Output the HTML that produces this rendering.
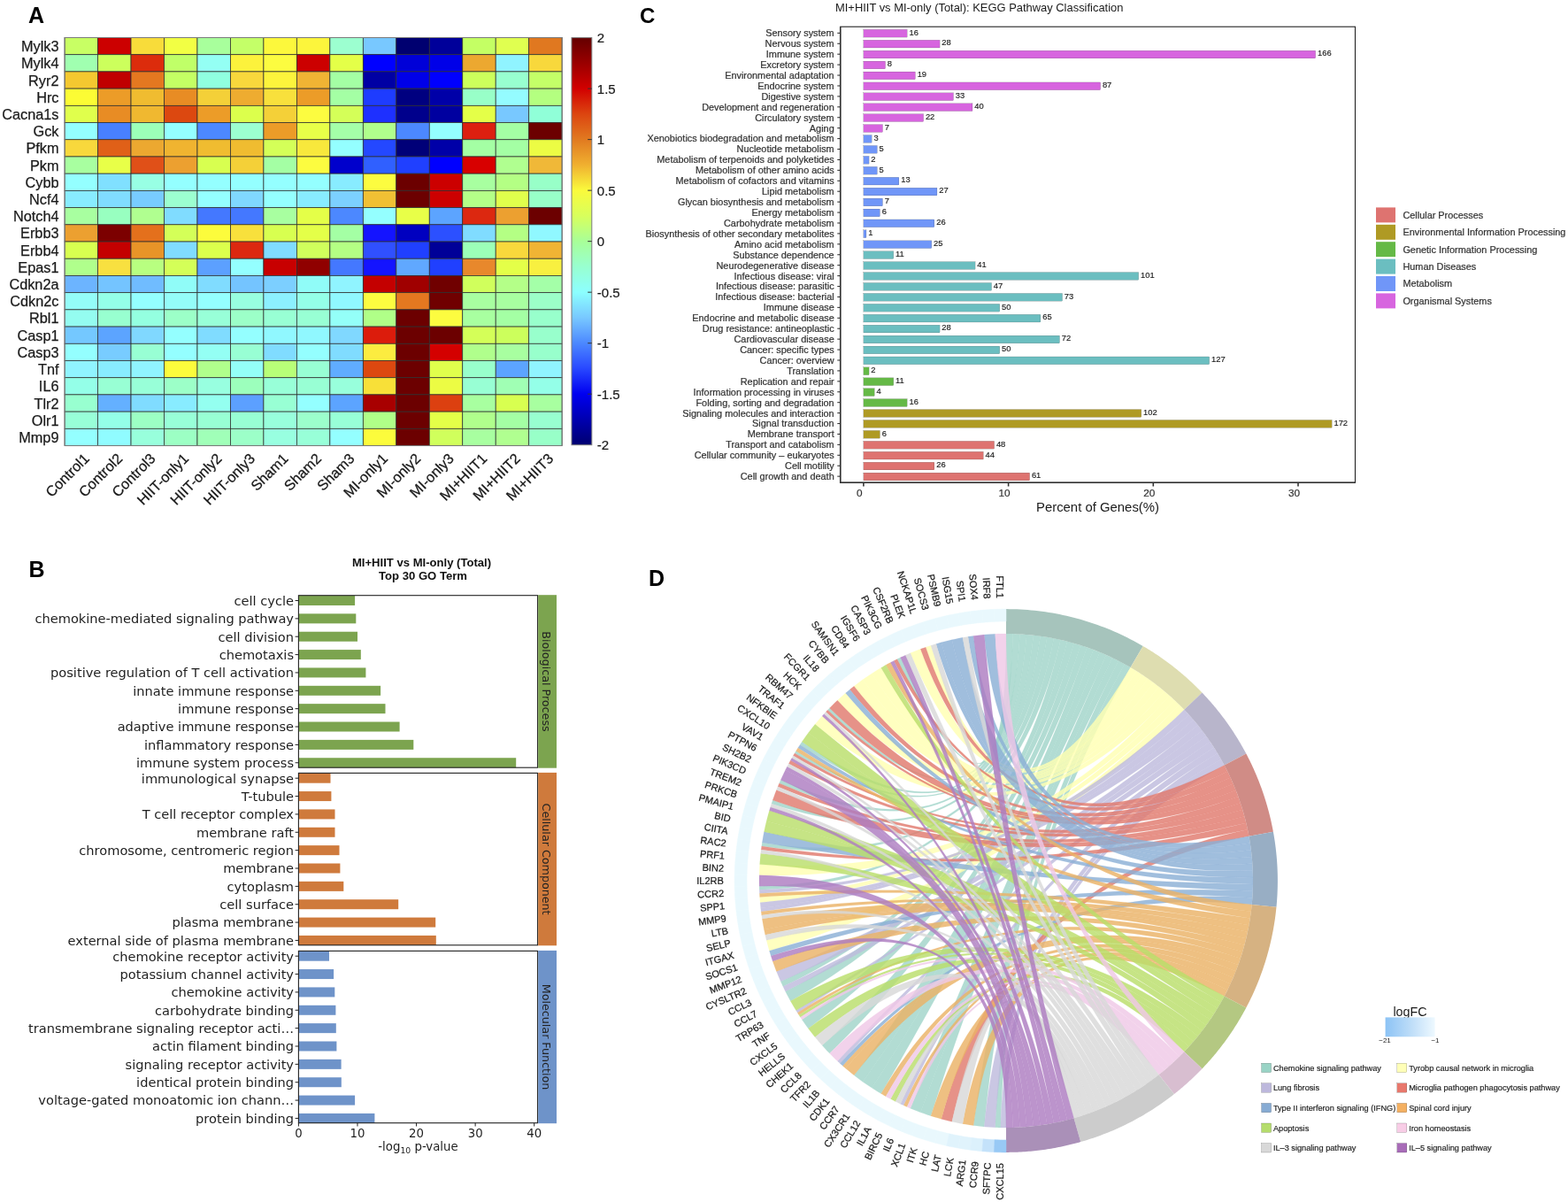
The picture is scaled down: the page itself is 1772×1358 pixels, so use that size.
<!DOCTYPE html>
<html><head><meta charset="utf-8"><title>Figure</title>
<style>html,body{margin:0;padding:0;background:#fff;} svg{display:block;}</style></head>
<body><svg width="1772" height="1358" viewBox="0 0 1772 1358">
<rect width="1772" height="1358" fill="#fff"/>
<text x="32" y="25.7" font-family="'Liberation Sans', Arial, Helvetica, sans-serif" font-weight="bold" font-size="25" fill="#000">A</text>
<g stroke="#2e2e2e" stroke-width="0.75">
<rect x="73.1" y="42.5" width="37.47" height="19.21" fill="#c8ff64"/>
<rect x="110.57" y="42.5" width="37.47" height="19.21" fill="#cc0000"/>
<rect x="148.04" y="42.5" width="37.47" height="19.21" fill="#f8dc3a"/>
<rect x="185.51" y="42.5" width="37.47" height="19.21" fill="#f2ff44"/>
<rect x="222.98" y="42.5" width="37.47" height="19.21" fill="#a8ff9c"/>
<rect x="260.45" y="42.5" width="37.47" height="19.21" fill="#c4ff68"/>
<rect x="297.92" y="42.5" width="37.47" height="19.21" fill="#fcf83c"/>
<rect x="335.39" y="42.5" width="37.47" height="19.21" fill="#fcf53c"/>
<rect x="372.86" y="42.5" width="37.47" height="19.21" fill="#9cffd0"/>
<rect x="410.33" y="42.5" width="37.47" height="19.21" fill="#78c8ff"/>
<rect x="447.8" y="42.5" width="37.47" height="19.21" fill="#000070"/>
<rect x="485.27" y="42.5" width="37.47" height="19.21" fill="#00009a"/>
<rect x="522.74" y="42.5" width="37.47" height="19.21" fill="#c4ff64"/>
<rect x="560.21" y="42.5" width="37.47" height="19.21" fill="#e0ff50"/>
<rect x="597.68" y="42.5" width="37.47" height="19.21" fill="#e07820"/>
<rect x="73.1" y="61.71" width="37.47" height="19.21" fill="#a0ffb0"/>
<rect x="110.57" y="61.71" width="37.47" height="19.21" fill="#ccff5c"/>
<rect x="148.04" y="61.71" width="37.47" height="19.21" fill="#dc2c0c"/>
<rect x="185.51" y="61.71" width="37.47" height="19.21" fill="#c0ff68"/>
<rect x="222.98" y="61.71" width="37.47" height="19.21" fill="#94fff4"/>
<rect x="260.45" y="61.71" width="37.47" height="19.21" fill="#fcf23c"/>
<rect x="297.92" y="61.71" width="37.47" height="19.21" fill="#fcfc40"/>
<rect x="335.39" y="61.71" width="37.47" height="19.21" fill="#cc0000"/>
<rect x="372.86" y="61.71" width="37.47" height="19.21" fill="#e4ff48"/>
<rect x="410.33" y="61.71" width="37.47" height="19.21" fill="#0000ff"/>
<rect x="447.8" y="61.71" width="37.47" height="19.21" fill="#0000d8"/>
<rect x="485.27" y="61.71" width="37.47" height="19.21" fill="#0000e8"/>
<rect x="522.74" y="61.71" width="37.47" height="19.21" fill="#eca830"/>
<rect x="560.21" y="61.71" width="37.47" height="19.21" fill="#90f4ff"/>
<rect x="597.68" y="61.71" width="37.47" height="19.21" fill="#f8d83c"/>
<rect x="73.1" y="80.92" width="37.47" height="19.21" fill="#f4c830"/>
<rect x="110.57" y="80.92" width="37.47" height="19.21" fill="#c00000"/>
<rect x="148.04" y="80.92" width="37.47" height="19.21" fill="#e47820"/>
<rect x="185.51" y="80.92" width="37.47" height="19.21" fill="#c4ff64"/>
<rect x="222.98" y="80.92" width="37.47" height="19.21" fill="#90ffe0"/>
<rect x="260.45" y="80.92" width="37.47" height="19.21" fill="#f8d83c"/>
<rect x="297.92" y="80.92" width="37.47" height="19.21" fill="#fcf43c"/>
<rect x="335.39" y="80.92" width="37.47" height="19.21" fill="#f0b434"/>
<rect x="372.86" y="80.92" width="37.47" height="19.21" fill="#a4ffa4"/>
<rect x="410.33" y="80.92" width="37.47" height="19.21" fill="#0000a4"/>
<rect x="447.8" y="80.92" width="37.47" height="19.21" fill="#0000e8"/>
<rect x="485.27" y="80.92" width="37.47" height="19.21" fill="#0000ff"/>
<rect x="522.74" y="80.92" width="37.47" height="19.21" fill="#ccff5c"/>
<rect x="560.21" y="80.92" width="37.47" height="19.21" fill="#98ffd0"/>
<rect x="597.68" y="80.92" width="37.47" height="19.21" fill="#c4ff68"/>
<rect x="73.1" y="100.13" width="37.47" height="19.21" fill="#fcfc34"/>
<rect x="110.57" y="100.13" width="37.47" height="19.21" fill="#ec9c28"/>
<rect x="148.04" y="100.13" width="37.47" height="19.21" fill="#f0bc30"/>
<rect x="185.51" y="100.13" width="37.47" height="19.21" fill="#e88c24"/>
<rect x="222.98" y="100.13" width="37.47" height="19.21" fill="#f4d038"/>
<rect x="260.45" y="100.13" width="37.47" height="19.21" fill="#eeac30"/>
<rect x="297.92" y="100.13" width="37.47" height="19.21" fill="#f8e03c"/>
<rect x="335.39" y="100.13" width="37.47" height="19.21" fill="#ec9c28"/>
<rect x="372.86" y="100.13" width="37.47" height="19.21" fill="#a4ffa4"/>
<rect x="410.33" y="100.13" width="37.47" height="19.21" fill="#1e3cff"/>
<rect x="447.8" y="100.13" width="37.47" height="19.21" fill="#000080"/>
<rect x="485.27" y="100.13" width="37.47" height="19.21" fill="#0000a8"/>
<rect x="522.74" y="100.13" width="37.47" height="19.21" fill="#98ffc8"/>
<rect x="560.21" y="100.13" width="37.47" height="19.21" fill="#94fcff"/>
<rect x="597.68" y="100.13" width="37.47" height="19.21" fill="#b4ff80"/>
<rect x="73.1" y="119.34" width="37.47" height="19.21" fill="#e0ff4c"/>
<rect x="110.57" y="119.34" width="37.47" height="19.21" fill="#e88c24"/>
<rect x="148.04" y="119.34" width="37.47" height="19.21" fill="#f0b830"/>
<rect x="185.51" y="119.34" width="37.47" height="19.21" fill="#dc4810"/>
<rect x="222.98" y="119.34" width="37.47" height="19.21" fill="#ec9c28"/>
<rect x="260.45" y="119.34" width="37.47" height="19.21" fill="#dcff4c"/>
<rect x="297.92" y="119.34" width="37.47" height="19.21" fill="#f4d038"/>
<rect x="335.39" y="119.34" width="37.47" height="19.21" fill="#fcfc40"/>
<rect x="372.86" y="119.34" width="37.47" height="19.21" fill="#d4ff58"/>
<rect x="410.33" y="119.34" width="37.47" height="19.21" fill="#1e30ff"/>
<rect x="447.8" y="119.34" width="37.47" height="19.21" fill="#00008c"/>
<rect x="485.27" y="119.34" width="37.47" height="19.21" fill="#0000a0"/>
<rect x="522.74" y="119.34" width="37.47" height="19.21" fill="#e4ff48"/>
<rect x="560.21" y="119.34" width="37.47" height="19.21" fill="#78c8ff"/>
<rect x="597.68" y="119.34" width="37.47" height="19.21" fill="#90ffd8"/>
<rect x="73.1" y="138.55" width="37.47" height="19.21" fill="#94ffff"/>
<rect x="110.57" y="138.55" width="37.47" height="19.21" fill="#4880ff"/>
<rect x="148.04" y="138.55" width="37.47" height="19.21" fill="#9cffb8"/>
<rect x="185.51" y="138.55" width="37.47" height="19.21" fill="#94ffff"/>
<rect x="222.98" y="138.55" width="37.47" height="19.21" fill="#4c88ff"/>
<rect x="260.45" y="138.55" width="37.47" height="19.21" fill="#9cffd0"/>
<rect x="297.92" y="138.55" width="37.47" height="19.21" fill="#ec9c28"/>
<rect x="335.39" y="138.55" width="37.47" height="19.21" fill="#e8ff48"/>
<rect x="372.86" y="138.55" width="37.47" height="19.21" fill="#a4ffa8"/>
<rect x="410.33" y="138.55" width="37.47" height="19.21" fill="#b0ff8c"/>
<rect x="447.8" y="138.55" width="37.47" height="19.21" fill="#4c88ff"/>
<rect x="485.27" y="138.55" width="37.47" height="19.21" fill="#94ffff"/>
<rect x="522.74" y="138.55" width="37.47" height="19.21" fill="#dc2010"/>
<rect x="560.21" y="138.55" width="37.47" height="19.21" fill="#a4ffa4"/>
<rect x="597.68" y="138.55" width="37.47" height="19.21" fill="#6c0000"/>
<rect x="73.1" y="157.76" width="37.47" height="19.21" fill="#f8d83c"/>
<rect x="110.57" y="157.76" width="37.47" height="19.21" fill="#e06018"/>
<rect x="148.04" y="157.76" width="37.47" height="19.21" fill="#eca830"/>
<rect x="185.51" y="157.76" width="37.47" height="19.21" fill="#f0b430"/>
<rect x="222.98" y="157.76" width="37.47" height="19.21" fill="#f0bc30"/>
<rect x="260.45" y="157.76" width="37.47" height="19.21" fill="#f0bc30"/>
<rect x="297.92" y="157.76" width="37.47" height="19.21" fill="#d4ff58"/>
<rect x="335.39" y="157.76" width="37.47" height="19.21" fill="#f8e83c"/>
<rect x="372.86" y="157.76" width="37.47" height="19.21" fill="#94ffff"/>
<rect x="410.33" y="157.76" width="37.47" height="19.21" fill="#2448ff"/>
<rect x="447.8" y="157.76" width="37.47" height="19.21" fill="#000078"/>
<rect x="485.27" y="157.76" width="37.47" height="19.21" fill="#0000a8"/>
<rect x="522.74" y="157.76" width="37.47" height="19.21" fill="#a4ffa4"/>
<rect x="560.21" y="157.76" width="37.47" height="19.21" fill="#a4ffa4"/>
<rect x="597.68" y="157.76" width="37.47" height="19.21" fill="#ecfc44"/>
<rect x="73.1" y="176.97" width="37.47" height="19.21" fill="#a8ffa0"/>
<rect x="110.57" y="176.97" width="37.47" height="19.21" fill="#e8ff48"/>
<rect x="148.04" y="176.97" width="37.47" height="19.21" fill="#e05018"/>
<rect x="185.51" y="176.97" width="37.47" height="19.21" fill="#eca030"/>
<rect x="222.98" y="176.97" width="37.47" height="19.21" fill="#d8ff50"/>
<rect x="260.45" y="176.97" width="37.47" height="19.21" fill="#f4d038"/>
<rect x="297.92" y="176.97" width="37.47" height="19.21" fill="#a4ffa4"/>
<rect x="335.39" y="176.97" width="37.47" height="19.21" fill="#fcfc40"/>
<rect x="372.86" y="176.97" width="37.47" height="19.21" fill="#0000cc"/>
<rect x="410.33" y="176.97" width="37.47" height="19.21" fill="#3060ff"/>
<rect x="447.8" y="176.97" width="37.47" height="19.21" fill="#2040ff"/>
<rect x="485.27" y="176.97" width="37.47" height="19.21" fill="#0000ff"/>
<rect x="522.74" y="176.97" width="37.47" height="19.21" fill="#d80000"/>
<rect x="560.21" y="176.97" width="37.47" height="19.21" fill="#b0ff90"/>
<rect x="597.68" y="176.97" width="37.47" height="19.21" fill="#f0b838"/>
<rect x="73.1" y="196.18" width="37.47" height="19.21" fill="#94ffff"/>
<rect x="110.57" y="196.18" width="37.47" height="19.21" fill="#80e0ff"/>
<rect x="148.04" y="196.18" width="37.47" height="19.21" fill="#98ffe4"/>
<rect x="185.51" y="196.18" width="37.47" height="19.21" fill="#94ffff"/>
<rect x="222.98" y="196.18" width="37.47" height="19.21" fill="#94ffff"/>
<rect x="260.45" y="196.18" width="37.47" height="19.21" fill="#94ffff"/>
<rect x="297.92" y="196.18" width="37.47" height="19.21" fill="#94ffff"/>
<rect x="335.39" y="196.18" width="37.47" height="19.21" fill="#94ffff"/>
<rect x="372.86" y="196.18" width="37.47" height="19.21" fill="#88ecff"/>
<rect x="410.33" y="196.18" width="37.47" height="19.21" fill="#fcfc40"/>
<rect x="447.8" y="196.18" width="37.47" height="19.21" fill="#6c0000"/>
<rect x="485.27" y="196.18" width="37.47" height="19.21" fill="#cc0000"/>
<rect x="522.74" y="196.18" width="37.47" height="19.21" fill="#a8ffa0"/>
<rect x="560.21" y="196.18" width="37.47" height="19.21" fill="#b4ff84"/>
<rect x="597.68" y="196.18" width="37.47" height="19.21" fill="#98ffc8"/>
<rect x="73.1" y="215.39" width="37.47" height="19.21" fill="#88ecff"/>
<rect x="110.57" y="215.39" width="37.47" height="19.21" fill="#80dcff"/>
<rect x="148.04" y="215.39" width="37.47" height="19.21" fill="#78ccff"/>
<rect x="185.51" y="215.39" width="37.47" height="19.21" fill="#9cffd0"/>
<rect x="222.98" y="215.39" width="37.47" height="19.21" fill="#94ffff"/>
<rect x="260.45" y="215.39" width="37.47" height="19.21" fill="#80d8ff"/>
<rect x="297.92" y="215.39" width="37.47" height="19.21" fill="#94ffff"/>
<rect x="335.39" y="215.39" width="37.47" height="19.21" fill="#88ecff"/>
<rect x="372.86" y="215.39" width="37.47" height="19.21" fill="#7cd0ff"/>
<rect x="410.33" y="215.39" width="37.47" height="19.21" fill="#f0c034"/>
<rect x="447.8" y="215.39" width="37.47" height="19.21" fill="#6c0000"/>
<rect x="485.27" y="215.39" width="37.47" height="19.21" fill="#cc0000"/>
<rect x="522.74" y="215.39" width="37.47" height="19.21" fill="#b4ff88"/>
<rect x="560.21" y="215.39" width="37.47" height="19.21" fill="#e0ff4c"/>
<rect x="597.68" y="215.39" width="37.47" height="19.21" fill="#98ffc8"/>
<rect x="73.1" y="234.6" width="37.47" height="19.21" fill="#a8ffa0"/>
<rect x="110.57" y="234.6" width="37.47" height="19.21" fill="#98ffc0"/>
<rect x="148.04" y="234.6" width="37.47" height="19.21" fill="#b0ff90"/>
<rect x="185.51" y="234.6" width="37.47" height="19.21" fill="#80dcff"/>
<rect x="222.98" y="234.6" width="37.47" height="19.21" fill="#4478ff"/>
<rect x="260.45" y="234.6" width="37.47" height="19.21" fill="#4478ff"/>
<rect x="297.92" y="234.6" width="37.47" height="19.21" fill="#a8ffa0"/>
<rect x="335.39" y="234.6" width="37.47" height="19.21" fill="#e4ff48"/>
<rect x="372.86" y="234.6" width="37.47" height="19.21" fill="#4c88ff"/>
<rect x="410.33" y="234.6" width="37.47" height="19.21" fill="#94ffff"/>
<rect x="447.8" y="234.6" width="37.47" height="19.21" fill="#e8ff48"/>
<rect x="485.27" y="234.6" width="37.47" height="19.21" fill="#5ca4ff"/>
<rect x="522.74" y="234.6" width="37.47" height="19.21" fill="#dc2810"/>
<rect x="560.21" y="234.6" width="37.47" height="19.21" fill="#eca030"/>
<rect x="597.68" y="234.6" width="37.47" height="19.21" fill="#6c0000"/>
<rect x="73.1" y="253.81" width="37.47" height="19.21" fill="#eca030"/>
<rect x="110.57" y="253.81" width="37.47" height="19.21" fill="#7c0000"/>
<rect x="148.04" y="253.81" width="37.47" height="19.21" fill="#e4701c"/>
<rect x="185.51" y="253.81" width="37.47" height="19.21" fill="#d4ff58"/>
<rect x="222.98" y="253.81" width="37.47" height="19.21" fill="#fcfc3c"/>
<rect x="260.45" y="253.81" width="37.47" height="19.21" fill="#f8e03c"/>
<rect x="297.92" y="253.81" width="37.47" height="19.21" fill="#d8ff50"/>
<rect x="335.39" y="253.81" width="37.47" height="19.21" fill="#e4ff48"/>
<rect x="372.86" y="253.81" width="37.47" height="19.21" fill="#a4ffa4"/>
<rect x="410.33" y="253.81" width="37.47" height="19.21" fill="#1414ff"/>
<rect x="447.8" y="253.81" width="37.47" height="19.21" fill="#0000c0"/>
<rect x="485.27" y="253.81" width="37.47" height="19.21" fill="#2c50ff"/>
<rect x="522.74" y="253.81" width="37.47" height="19.21" fill="#80dcff"/>
<rect x="560.21" y="253.81" width="37.47" height="19.21" fill="#b4ff84"/>
<rect x="597.68" y="253.81" width="37.47" height="19.21" fill="#90f8ff"/>
<rect x="73.1" y="273.02" width="37.47" height="19.21" fill="#d8ff50"/>
<rect x="110.57" y="273.02" width="37.47" height="19.21" fill="#c40000"/>
<rect x="148.04" y="273.02" width="37.47" height="19.21" fill="#e89428"/>
<rect x="185.51" y="273.02" width="37.47" height="19.21" fill="#80dcff"/>
<rect x="222.98" y="273.02" width="37.47" height="19.21" fill="#dcff4c"/>
<rect x="260.45" y="273.02" width="37.47" height="19.21" fill="#dc2810"/>
<rect x="297.92" y="273.02" width="37.47" height="19.21" fill="#80dcff"/>
<rect x="335.39" y="273.02" width="37.47" height="19.21" fill="#d0ff5c"/>
<rect x="372.86" y="273.02" width="37.47" height="19.21" fill="#b4ff84"/>
<rect x="410.33" y="273.02" width="37.47" height="19.21" fill="#3050ff"/>
<rect x="447.8" y="273.02" width="37.47" height="19.21" fill="#2040ff"/>
<rect x="485.27" y="273.02" width="37.47" height="19.21" fill="#000098"/>
<rect x="522.74" y="273.02" width="37.47" height="19.21" fill="#9cffb8"/>
<rect x="560.21" y="273.02" width="37.47" height="19.21" fill="#f8d83c"/>
<rect x="597.68" y="273.02" width="37.47" height="19.21" fill="#f0b434"/>
<rect x="73.1" y="292.23" width="37.47" height="19.21" fill="#b0ff8c"/>
<rect x="110.57" y="292.23" width="37.47" height="19.21" fill="#f8e040"/>
<rect x="148.04" y="292.23" width="37.47" height="19.21" fill="#b8ff80"/>
<rect x="185.51" y="292.23" width="37.47" height="19.21" fill="#d4ff58"/>
<rect x="222.98" y="292.23" width="37.47" height="19.21" fill="#5ca0ff"/>
<rect x="260.45" y="292.23" width="37.47" height="19.21" fill="#94ffff"/>
<rect x="297.92" y="292.23" width="37.47" height="19.21" fill="#c80000"/>
<rect x="335.39" y="292.23" width="37.47" height="19.21" fill="#900000"/>
<rect x="372.86" y="292.23" width="37.47" height="19.21" fill="#4478ff"/>
<rect x="410.33" y="292.23" width="37.47" height="19.21" fill="#1414ff"/>
<rect x="447.8" y="292.23" width="37.47" height="19.21" fill="#60a8ff"/>
<rect x="485.27" y="292.23" width="37.47" height="19.21" fill="#2040ff"/>
<rect x="522.74" y="292.23" width="37.47" height="19.21" fill="#e8882c"/>
<rect x="560.21" y="292.23" width="37.47" height="19.21" fill="#e4ff48"/>
<rect x="597.68" y="292.23" width="37.47" height="19.21" fill="#f8f040"/>
<rect x="73.1" y="311.44" width="37.47" height="19.21" fill="#6cb4ff"/>
<rect x="110.57" y="311.44" width="37.47" height="19.21" fill="#74c4ff"/>
<rect x="148.04" y="311.44" width="37.47" height="19.21" fill="#70bcff"/>
<rect x="185.51" y="311.44" width="37.47" height="19.21" fill="#90fcf8"/>
<rect x="222.98" y="311.44" width="37.47" height="19.21" fill="#80dcff"/>
<rect x="260.45" y="311.44" width="37.47" height="19.21" fill="#74c4ff"/>
<rect x="297.92" y="311.44" width="37.47" height="19.21" fill="#7ccfff"/>
<rect x="335.39" y="311.44" width="37.47" height="19.21" fill="#90fcf8"/>
<rect x="372.86" y="311.44" width="37.47" height="19.21" fill="#90f4ff"/>
<rect x="410.33" y="311.44" width="37.47" height="19.21" fill="#c40000"/>
<rect x="447.8" y="311.44" width="37.47" height="19.21" fill="#a00000"/>
<rect x="485.27" y="311.44" width="37.47" height="19.21" fill="#700000"/>
<rect x="522.74" y="311.44" width="37.47" height="19.21" fill="#d0ff5c"/>
<rect x="560.21" y="311.44" width="37.47" height="19.21" fill="#b4ff88"/>
<rect x="597.68" y="311.44" width="37.47" height="19.21" fill="#a4ffa8"/>
<rect x="73.1" y="330.65" width="37.47" height="19.21" fill="#94fcf8"/>
<rect x="110.57" y="330.65" width="37.47" height="19.21" fill="#94ffe8"/>
<rect x="148.04" y="330.65" width="37.47" height="19.21" fill="#94ffff"/>
<rect x="185.51" y="330.65" width="37.47" height="19.21" fill="#94fcf8"/>
<rect x="222.98" y="330.65" width="37.47" height="19.21" fill="#94ffff"/>
<rect x="260.45" y="330.65" width="37.47" height="19.21" fill="#98ffe0"/>
<rect x="297.92" y="330.65" width="37.47" height="19.21" fill="#8cf0ff"/>
<rect x="335.39" y="330.65" width="37.47" height="19.21" fill="#94ffe8"/>
<rect x="372.86" y="330.65" width="37.47" height="19.21" fill="#90f8ff"/>
<rect x="410.33" y="330.65" width="37.47" height="19.21" fill="#fcfc40"/>
<rect x="447.8" y="330.65" width="37.47" height="19.21" fill="#e47820"/>
<rect x="485.27" y="330.65" width="37.47" height="19.21" fill="#700000"/>
<rect x="522.74" y="330.65" width="37.47" height="19.21" fill="#a8ffa0"/>
<rect x="560.21" y="330.65" width="37.47" height="19.21" fill="#a8ffa0"/>
<rect x="597.68" y="330.65" width="37.47" height="19.21" fill="#9cffc8"/>
<rect x="73.1" y="349.86" width="37.47" height="19.21" fill="#94fcf0"/>
<rect x="110.57" y="349.86" width="37.47" height="19.21" fill="#98ffd0"/>
<rect x="148.04" y="349.86" width="37.47" height="19.21" fill="#94ffe0"/>
<rect x="185.51" y="349.86" width="37.47" height="19.21" fill="#9cffc8"/>
<rect x="222.98" y="349.86" width="37.47" height="19.21" fill="#98ffd8"/>
<rect x="260.45" y="349.86" width="37.47" height="19.21" fill="#9cffc8"/>
<rect x="297.92" y="349.86" width="37.47" height="19.21" fill="#98ffd4"/>
<rect x="335.39" y="349.86" width="37.47" height="19.21" fill="#98ffd4"/>
<rect x="372.86" y="349.86" width="37.47" height="19.21" fill="#94fff8"/>
<rect x="410.33" y="349.86" width="37.47" height="19.21" fill="#b0ff88"/>
<rect x="447.8" y="349.86" width="37.47" height="19.21" fill="#6c0000"/>
<rect x="485.27" y="349.86" width="37.47" height="19.21" fill="#fcfc40"/>
<rect x="522.74" y="349.86" width="37.47" height="19.21" fill="#a8ffa0"/>
<rect x="560.21" y="349.86" width="37.47" height="19.21" fill="#a4ffa4"/>
<rect x="597.68" y="349.86" width="37.47" height="19.21" fill="#98ffcc"/>
<rect x="73.1" y="369.07" width="37.47" height="19.21" fill="#74c8ff"/>
<rect x="110.57" y="369.07" width="37.47" height="19.21" fill="#5ca4ff"/>
<rect x="148.04" y="369.07" width="37.47" height="19.21" fill="#80d8ff"/>
<rect x="185.51" y="369.07" width="37.47" height="19.21" fill="#94ffff"/>
<rect x="222.98" y="369.07" width="37.47" height="19.21" fill="#80dcff"/>
<rect x="260.45" y="369.07" width="37.47" height="19.21" fill="#94ffff"/>
<rect x="297.92" y="369.07" width="37.47" height="19.21" fill="#90f8ff"/>
<rect x="335.39" y="369.07" width="37.47" height="19.21" fill="#90f8ff"/>
<rect x="372.86" y="369.07" width="37.47" height="19.21" fill="#80d8ff"/>
<rect x="410.33" y="369.07" width="37.47" height="19.21" fill="#dc1c0c"/>
<rect x="447.8" y="369.07" width="37.47" height="19.21" fill="#6c0000"/>
<rect x="485.27" y="369.07" width="37.47" height="19.21" fill="#6c0000"/>
<rect x="522.74" y="369.07" width="37.47" height="19.21" fill="#d4ff58"/>
<rect x="560.21" y="369.07" width="37.47" height="19.21" fill="#ccff5c"/>
<rect x="597.68" y="369.07" width="37.47" height="19.21" fill="#98ffcc"/>
<rect x="73.1" y="388.28" width="37.47" height="19.21" fill="#94ffff"/>
<rect x="110.57" y="388.28" width="37.47" height="19.21" fill="#78ccff"/>
<rect x="148.04" y="388.28" width="37.47" height="19.21" fill="#98ffd4"/>
<rect x="185.51" y="388.28" width="37.47" height="19.21" fill="#94ffff"/>
<rect x="222.98" y="388.28" width="37.47" height="19.21" fill="#94fff4"/>
<rect x="260.45" y="388.28" width="37.47" height="19.21" fill="#98ffd4"/>
<rect x="297.92" y="388.28" width="37.47" height="19.21" fill="#80dcff"/>
<rect x="335.39" y="388.28" width="37.47" height="19.21" fill="#94ffff"/>
<rect x="372.86" y="388.28" width="37.47" height="19.21" fill="#80dcff"/>
<rect x="410.33" y="388.28" width="37.47" height="19.21" fill="#fcec40"/>
<rect x="447.8" y="388.28" width="37.47" height="19.21" fill="#6c0000"/>
<rect x="485.27" y="388.28" width="37.47" height="19.21" fill="#d40000"/>
<rect x="522.74" y="388.28" width="37.47" height="19.21" fill="#b0ff8c"/>
<rect x="560.21" y="388.28" width="37.47" height="19.21" fill="#a8ffa0"/>
<rect x="597.68" y="388.28" width="37.47" height="19.21" fill="#98ffcc"/>
<rect x="73.1" y="407.49" width="37.47" height="19.21" fill="#90f4ff"/>
<rect x="110.57" y="407.49" width="37.47" height="19.21" fill="#88ecff"/>
<rect x="148.04" y="407.49" width="37.47" height="19.21" fill="#90f4ff"/>
<rect x="185.51" y="407.49" width="37.47" height="19.21" fill="#fcfc3c"/>
<rect x="222.98" y="407.49" width="37.47" height="19.21" fill="#b0ff8c"/>
<rect x="260.45" y="407.49" width="37.47" height="19.21" fill="#94fff8"/>
<rect x="297.92" y="407.49" width="37.47" height="19.21" fill="#b8ff78"/>
<rect x="335.39" y="407.49" width="37.47" height="19.21" fill="#98ffd4"/>
<rect x="372.86" y="407.49" width="37.47" height="19.21" fill="#60acff"/>
<rect x="410.33" y="407.49" width="37.47" height="19.21" fill="#dc4810"/>
<rect x="447.8" y="407.49" width="37.47" height="19.21" fill="#6c0000"/>
<rect x="485.27" y="407.49" width="37.47" height="19.21" fill="#e0ff4c"/>
<rect x="522.74" y="407.49" width="37.47" height="19.21" fill="#98ffcc"/>
<rect x="560.21" y="407.49" width="37.47" height="19.21" fill="#5ca4ff"/>
<rect x="597.68" y="407.49" width="37.47" height="19.21" fill="#90f4ff"/>
<rect x="73.1" y="426.7" width="37.47" height="19.21" fill="#94ffe8"/>
<rect x="110.57" y="426.7" width="37.47" height="19.21" fill="#98ffd4"/>
<rect x="148.04" y="426.7" width="37.47" height="19.21" fill="#98ffd8"/>
<rect x="185.51" y="426.7" width="37.47" height="19.21" fill="#9cffc8"/>
<rect x="222.98" y="426.7" width="37.47" height="19.21" fill="#98ffe0"/>
<rect x="260.45" y="426.7" width="37.47" height="19.21" fill="#9cffbc"/>
<rect x="297.92" y="426.7" width="37.47" height="19.21" fill="#98ffd8"/>
<rect x="335.39" y="426.7" width="37.47" height="19.21" fill="#98ffd4"/>
<rect x="372.86" y="426.7" width="37.47" height="19.21" fill="#98ffdc"/>
<rect x="410.33" y="426.7" width="37.47" height="19.21" fill="#f8e038"/>
<rect x="447.8" y="426.7" width="37.47" height="19.21" fill="#6c0000"/>
<rect x="485.27" y="426.7" width="37.47" height="19.21" fill="#ecfc44"/>
<rect x="522.74" y="426.7" width="37.47" height="19.21" fill="#98ffd4"/>
<rect x="560.21" y="426.7" width="37.47" height="19.21" fill="#a0ffb4"/>
<rect x="597.68" y="426.7" width="37.47" height="19.21" fill="#94ffe8"/>
<rect x="73.1" y="445.91" width="37.47" height="19.21" fill="#98ffd0"/>
<rect x="110.57" y="445.91" width="37.47" height="19.21" fill="#64b0ff"/>
<rect x="148.04" y="445.91" width="37.47" height="19.21" fill="#80dcff"/>
<rect x="185.51" y="445.91" width="37.47" height="19.21" fill="#88ecff"/>
<rect x="222.98" y="445.91" width="37.47" height="19.21" fill="#94fff0"/>
<rect x="260.45" y="445.91" width="37.47" height="19.21" fill="#5ca0ff"/>
<rect x="297.92" y="445.91" width="37.47" height="19.21" fill="#98ffd4"/>
<rect x="335.39" y="445.91" width="37.47" height="19.21" fill="#94ffff"/>
<rect x="372.86" y="445.91" width="37.47" height="19.21" fill="#5ca4ff"/>
<rect x="410.33" y="445.91" width="37.47" height="19.21" fill="#a80000"/>
<rect x="447.8" y="445.91" width="37.47" height="19.21" fill="#6c0000"/>
<rect x="485.27" y="445.91" width="37.47" height="19.21" fill="#dc4010"/>
<rect x="522.74" y="445.91" width="37.47" height="19.21" fill="#a8ffa0"/>
<rect x="560.21" y="445.91" width="37.47" height="19.21" fill="#d8ff50"/>
<rect x="597.68" y="445.91" width="37.47" height="19.21" fill="#a8ffa0"/>
<rect x="73.1" y="465.12" width="37.47" height="19.21" fill="#98ffd8"/>
<rect x="110.57" y="465.12" width="37.47" height="19.21" fill="#94ffe8"/>
<rect x="148.04" y="465.12" width="37.47" height="19.21" fill="#9cffc4"/>
<rect x="185.51" y="465.12" width="37.47" height="19.21" fill="#98ffd8"/>
<rect x="222.98" y="465.12" width="37.47" height="19.21" fill="#98ffd4"/>
<rect x="260.45" y="465.12" width="37.47" height="19.21" fill="#98ffd4"/>
<rect x="297.92" y="465.12" width="37.47" height="19.21" fill="#98ffdc"/>
<rect x="335.39" y="465.12" width="37.47" height="19.21" fill="#9cffcc"/>
<rect x="372.86" y="465.12" width="37.47" height="19.21" fill="#98ffd8"/>
<rect x="410.33" y="465.12" width="37.47" height="19.21" fill="#b0ff88"/>
<rect x="447.8" y="465.12" width="37.47" height="19.21" fill="#6c0000"/>
<rect x="485.27" y="465.12" width="37.47" height="19.21" fill="#e4ff48"/>
<rect x="522.74" y="465.12" width="37.47" height="19.21" fill="#b0ff8c"/>
<rect x="560.21" y="465.12" width="37.47" height="19.21" fill="#a4ffa4"/>
<rect x="597.68" y="465.12" width="37.47" height="19.21" fill="#98ffd0"/>
<rect x="73.1" y="484.33" width="37.47" height="19.21" fill="#94ffff"/>
<rect x="110.57" y="484.33" width="37.47" height="19.21" fill="#90fcff"/>
<rect x="148.04" y="484.33" width="37.47" height="19.21" fill="#98ffdc"/>
<rect x="185.51" y="484.33" width="37.47" height="19.21" fill="#9cffc4"/>
<rect x="222.98" y="484.33" width="37.47" height="19.21" fill="#a0ffb8"/>
<rect x="260.45" y="484.33" width="37.47" height="19.21" fill="#9cffc8"/>
<rect x="297.92" y="484.33" width="37.47" height="19.21" fill="#98ffe0"/>
<rect x="335.39" y="484.33" width="37.47" height="19.21" fill="#98ffd8"/>
<rect x="372.86" y="484.33" width="37.47" height="19.21" fill="#94ffff"/>
<rect x="410.33" y="484.33" width="37.47" height="19.21" fill="#fcfc3c"/>
<rect x="447.8" y="484.33" width="37.47" height="19.21" fill="#6c0000"/>
<rect x="485.27" y="484.33" width="37.47" height="19.21" fill="#d0ff5c"/>
<rect x="522.74" y="484.33" width="37.47" height="19.21" fill="#a8ffa0"/>
<rect x="560.21" y="484.33" width="37.47" height="19.21" fill="#b0ff90"/>
<rect x="597.68" y="484.33" width="37.47" height="19.21" fill="#98ffc8"/>
</g>
<rect x="73.1" y="42.5" width="562.05" height="461.04" fill="none" stroke="#7a7a7a" stroke-width="1"/>
<g font-family="'Liberation Sans', Arial, Helvetica, sans-serif" font-size="16.3" fill="#1a1a1a" stroke="#1a1a1a" stroke-width="0.25" text-anchor="end">
<text x="66.5" y="58.11">Mylk3</text>
<text x="66.5" y="77.31">Mylk4</text>
<text x="66.5" y="96.53">Ryr2</text>
<text x="66.5" y="115.73">Hrc</text>
<text x="66.5" y="134.94">Cacna1s</text>
<text x="66.5" y="154.16">Gck</text>
<text x="66.5" y="173.37">Pfkm</text>
<text x="66.5" y="192.58">Pkm</text>
<text x="66.5" y="211.78">Cybb</text>
<text x="66.5" y="231">Ncf4</text>
<text x="66.5" y="250.21">Notch4</text>
<text x="66.5" y="269.42">Erbb3</text>
<text x="66.5" y="288.62">Erbb4</text>
<text x="66.5" y="307.84">Epas1</text>
<text x="66.5" y="327.05">Cdkn2a</text>
<text x="66.5" y="346.25">Cdkn2c</text>
<text x="66.5" y="365.47">Rbl1</text>
<text x="66.5" y="384.68">Casp1</text>
<text x="66.5" y="403.88">Casp3</text>
<text x="66.5" y="423.1">Tnf</text>
<text x="66.5" y="442.31">IL6</text>
<text x="66.5" y="461.52">Tlr2</text>
<text x="66.5" y="480.73">Olr1</text>
<text x="66.5" y="499.94">Mmp9</text>
</g>
<g font-family="'Liberation Sans', Arial, Helvetica, sans-serif" font-size="16.3" fill="#1a1a1a" stroke="#1a1a1a" stroke-width="0.25" text-anchor="end">
<text transform="translate(101.83,519) rotate(-45)">Control1</text>
<text transform="translate(139.31,519) rotate(-45)">Control2</text>
<text transform="translate(176.77,519) rotate(-45)">Control3</text>
<text transform="translate(214.24,519) rotate(-45)">HIIT-only1</text>
<text transform="translate(251.72,519) rotate(-45)">HIIT-only2</text>
<text transform="translate(289.18,519) rotate(-45)">HIIT-only3</text>
<text transform="translate(326.65,519) rotate(-45)">Sham1</text>
<text transform="translate(364.12,519) rotate(-45)">Sham2</text>
<text transform="translate(401.6,519) rotate(-45)">Sham3</text>
<text transform="translate(439.06,519) rotate(-45)">MI-only1</text>
<text transform="translate(476.53,519) rotate(-45)">MI-only2</text>
<text transform="translate(514,519) rotate(-45)">MI-only3</text>
<text transform="translate(551.48,519) rotate(-45)">MI&#43;HIIT1</text>
<text transform="translate(588.94,519) rotate(-45)">MI&#43;HIIT2</text>
<text transform="translate(626.41,519) rotate(-45)">MI&#43;HIIT3</text>
</g>
<defs><linearGradient id="cbA" x1="0" y1="0" x2="0" y2="1"><stop offset="0" stop-color="#640000"/><stop offset="0.0625" stop-color="#9a0000"/><stop offset="0.125" stop-color="#d20000"/><stop offset="0.1875" stop-color="#dc4510"/><stop offset="0.25" stop-color="#e17a20"/><stop offset="0.3125" stop-color="#f0b030"/><stop offset="0.375" stop-color="#fafa3c"/><stop offset="0.4375" stop-color="#d8ff5c"/><stop offset="0.5" stop-color="#a8ff98"/><stop offset="0.5625" stop-color="#98ffd0"/><stop offset="0.625" stop-color="#8cffff"/><stop offset="0.6875" stop-color="#78c8ff"/><stop offset="0.75" stop-color="#4c88ff"/><stop offset="0.8125" stop-color="#2848ff"/><stop offset="0.875" stop-color="#0000f0"/><stop offset="0.9375" stop-color="#0000b0"/><stop offset="1" stop-color="#000070"/></linearGradient></defs>
<rect x="646" y="42.6" width="22.8" height="460.1" fill="url(#cbA)" stroke="#7a7a7a" stroke-width="1"/>
<g font-family="'Liberation Sans', Arial, Helvetica, sans-serif" font-size="15" fill="#1a1a1a" stroke="#1a1a1a" stroke-width="0.22">
<text x="674.8" y="48">2</text>
<line x1="664.1999999999999" y1="100.11" x2="668.8" y2="100.11" stroke="#333" stroke-width="1"/>
<text x="674.8" y="105.51">1.5</text>
<line x1="664.1999999999999" y1="157.62" x2="668.8" y2="157.62" stroke="#333" stroke-width="1"/>
<text x="674.8" y="163.03">1</text>
<line x1="664.1999999999999" y1="215.14" x2="668.8" y2="215.14" stroke="#333" stroke-width="1"/>
<text x="674.8" y="220.54">0.5</text>
<line x1="664.1999999999999" y1="272.65" x2="668.8" y2="272.65" stroke="#333" stroke-width="1"/>
<text x="674.8" y="278.05">0</text>
<line x1="664.1999999999999" y1="330.16" x2="668.8" y2="330.16" stroke="#333" stroke-width="1"/>
<text x="674.8" y="335.56">-0.5</text>
<line x1="664.1999999999999" y1="387.68" x2="668.8" y2="387.68" stroke="#333" stroke-width="1"/>
<text x="674.8" y="393.07">-1</text>
<line x1="664.1999999999999" y1="445.19" x2="668.8" y2="445.19" stroke="#333" stroke-width="1"/>
<text x="674.8" y="450.59">-1.5</text>
<text x="674.8" y="508.1">-2</text>
</g>
<text x="723" y="25.7" font-family="'Liberation Sans', Arial, Helvetica, sans-serif" font-weight="bold" font-size="24" fill="#000">C</text>
<text x="944" y="13" font-family="'Liberation Sans', Arial, Helvetica, sans-serif" font-size="12.93" fill="#1a1a1a">MI&#43;HIIT vs MI-only (Total): KEGG Pathway Classification</text>
<g font-family="'Liberation Sans', Arial, Helvetica, sans-serif" font-size="9.4" fill="#1a1a1a" stroke="#1a1a1a" stroke-width="0.15">
<rect x="975.9" y="33.35" width="49.23" height="8.7" fill="#d765df"/>
<text x="1027.43" y="39.55">16</text>
<rect x="975.9" y="45.28" width="86.16" height="8.7" fill="#d765df"/>
<text x="1064.36" y="51.48">28</text>
<rect x="975.9" y="57.2" width="510.78" height="8.7" fill="#d765df"/>
<text x="1488.98" y="63.4">166</text>
<rect x="975.9" y="69.12" width="24.62" height="8.7" fill="#d765df"/>
<text x="1002.82" y="75.32">8</text>
<rect x="975.9" y="81.05" width="58.46" height="8.7" fill="#d765df"/>
<text x="1036.66" y="87.25">19</text>
<rect x="975.9" y="92.97" width="267.7" height="8.7" fill="#d765df"/>
<text x="1245.9" y="99.17">87</text>
<rect x="975.9" y="104.9" width="101.54" height="8.7" fill="#d765df"/>
<text x="1079.74" y="111.1">33</text>
<rect x="975.9" y="116.82" width="123.08" height="8.7" fill="#d765df"/>
<text x="1101.28" y="123.02">40</text>
<rect x="975.9" y="128.74" width="67.69" height="8.7" fill="#d765df"/>
<text x="1045.89" y="134.94">22</text>
<rect x="975.9" y="140.67" width="21.54" height="8.7" fill="#d765df"/>
<text x="999.74" y="146.87">7</text>
<rect x="975.9" y="152.59" width="9.23" height="8.7" fill="#7096f8"/>
<text x="987.43" y="158.79">3</text>
<rect x="975.9" y="164.51" width="15.38" height="8.7" fill="#7096f8"/>
<text x="993.58" y="170.71">5</text>
<rect x="975.9" y="176.44" width="6.15" height="8.7" fill="#7096f8"/>
<text x="984.35" y="182.64">2</text>
<rect x="975.9" y="188.36" width="15.38" height="8.7" fill="#7096f8"/>
<text x="993.58" y="194.56">5</text>
<rect x="975.9" y="200.28" width="40" height="8.7" fill="#7096f8"/>
<text x="1018.2" y="206.48">13</text>
<rect x="975.9" y="212.21" width="83.08" height="8.7" fill="#7096f8"/>
<text x="1061.28" y="218.41">27</text>
<rect x="975.9" y="224.13" width="21.54" height="8.7" fill="#7096f8"/>
<text x="999.74" y="230.33">7</text>
<rect x="975.9" y="236.06" width="18.46" height="8.7" fill="#7096f8"/>
<text x="996.66" y="242.26">6</text>
<rect x="975.9" y="247.98" width="80" height="8.7" fill="#7096f8"/>
<text x="1058.2" y="254.18">26</text>
<rect x="975.9" y="259.9" width="3.08" height="8.7" fill="#7096f8"/>
<text x="981.28" y="266.1">1</text>
<rect x="975.9" y="271.83" width="76.92" height="8.7" fill="#7096f8"/>
<text x="1055.12" y="278.03">25</text>
<rect x="975.9" y="283.75" width="33.85" height="8.7" fill="#6bbec0"/>
<text x="1012.05" y="289.95">11</text>
<rect x="975.9" y="295.67" width="126.16" height="8.7" fill="#6bbec0"/>
<text x="1104.36" y="301.87">41</text>
<rect x="975.9" y="307.6" width="310.78" height="8.7" fill="#6bbec0"/>
<text x="1288.98" y="313.8">101</text>
<rect x="975.9" y="319.52" width="144.62" height="8.7" fill="#6bbec0"/>
<text x="1122.82" y="325.72">47</text>
<rect x="975.9" y="331.44" width="224.62" height="8.7" fill="#6bbec0"/>
<text x="1202.82" y="337.64">73</text>
<rect x="975.9" y="343.37" width="153.85" height="8.7" fill="#6bbec0"/>
<text x="1132.05" y="349.57">50</text>
<rect x="975.9" y="355.29" width="200" height="8.7" fill="#6bbec0"/>
<text x="1178.2" y="361.49">65</text>
<rect x="975.9" y="367.22" width="86.16" height="8.7" fill="#6bbec0"/>
<text x="1064.36" y="373.42">28</text>
<rect x="975.9" y="379.14" width="221.54" height="8.7" fill="#6bbec0"/>
<text x="1199.74" y="385.34">72</text>
<rect x="975.9" y="391.06" width="153.85" height="8.7" fill="#6bbec0"/>
<text x="1132.05" y="397.26">50</text>
<rect x="975.9" y="402.99" width="390.78" height="8.7" fill="#6bbec0"/>
<text x="1368.98" y="409.19">127</text>
<rect x="975.9" y="414.91" width="6.15" height="8.7" fill="#65b946"/>
<text x="984.35" y="421.11">2</text>
<rect x="975.9" y="426.83" width="33.85" height="8.7" fill="#65b946"/>
<text x="1012.05" y="433.03">11</text>
<rect x="975.9" y="438.76" width="12.31" height="8.7" fill="#65b946"/>
<text x="990.51" y="444.96">4</text>
<rect x="975.9" y="450.68" width="49.23" height="8.7" fill="#65b946"/>
<text x="1027.43" y="456.88">16</text>
<rect x="975.9" y="462.6" width="313.85" height="8.7" fill="#af9a24"/>
<text x="1292.05" y="468.8">102</text>
<rect x="975.9" y="474.53" width="529.24" height="8.7" fill="#af9a24"/>
<text x="1507.44" y="480.73">172</text>
<rect x="975.9" y="486.45" width="18.46" height="8.7" fill="#af9a24"/>
<text x="996.66" y="492.65">6</text>
<rect x="975.9" y="498.37" width="147.7" height="8.7" fill="#de7370"/>
<text x="1125.9" y="504.57">48</text>
<rect x="975.9" y="510.3" width="135.39" height="8.7" fill="#de7370"/>
<text x="1113.59" y="516.5">44</text>
<rect x="975.9" y="522.22" width="80" height="8.7" fill="#de7370"/>
<text x="1058.2" y="528.42">26</text>
<rect x="975.9" y="534.15" width="187.7" height="8.7" fill="#de7370"/>
<text x="1165.9" y="540.35">61</text>
</g>
<g font-family="'Liberation Sans', Arial, Helvetica, sans-serif" font-size="10.9" fill="#333" stroke="#333" stroke-width="0.22" text-anchor="end">
<text x="942.7" y="41.25">Sensory system</text>
<text x="942.7" y="53.18">Nervous system</text>
<text x="942.7" y="65.1">Immune system</text>
<text x="942.7" y="77.02">Excretory system</text>
<text x="942.7" y="88.95">Environmental adaptation</text>
<text x="942.7" y="100.87">Endocrine system</text>
<text x="942.7" y="112.8">Digestive system</text>
<text x="942.7" y="124.72">Development and regeneration</text>
<text x="942.7" y="136.64">Circulatory system</text>
<text x="942.7" y="148.57">Aging</text>
<text x="942.7" y="160.49">Xenobiotics biodegradation and metabolism</text>
<text x="942.7" y="172.41">Nucleotide metabolism</text>
<text x="942.7" y="184.34">Metabolism of terpenoids and polyketides</text>
<text x="942.7" y="196.26">Metabolism of other amino acids</text>
<text x="942.7" y="208.18">Metabolism of cofactors and vitamins</text>
<text x="942.7" y="220.11">Lipid metabolism</text>
<text x="942.7" y="232.03">Glycan biosynthesis and metabolism</text>
<text x="942.7" y="243.96">Energy metabolism</text>
<text x="942.7" y="255.88">Carbohydrate metabolism</text>
<text x="942.7" y="267.8">Biosynthesis of other secondary metabolites</text>
<text x="942.7" y="279.73">Amino acid metabolism</text>
<text x="942.7" y="291.65">Substance dependence</text>
<text x="942.7" y="303.57">Neurodegenerative disease</text>
<text x="942.7" y="315.5">Infectious disease: viral</text>
<text x="942.7" y="327.42">Infectious disease: parasitic</text>
<text x="942.7" y="339.34">Infectious disease: bacterial</text>
<text x="942.7" y="351.27">Immune disease</text>
<text x="942.7" y="363.19">Endocrine and metabolic disease</text>
<text x="942.7" y="375.12">Drug resistance: antineoplastic</text>
<text x="942.7" y="387.04">Cardiovascular disease</text>
<text x="942.7" y="398.96">Cancer: specific types</text>
<text x="942.7" y="410.89">Cancer: overview</text>
<text x="942.7" y="422.81">Translation</text>
<text x="942.7" y="434.73">Replication and repair</text>
<text x="942.7" y="446.66">Information processing in viruses</text>
<text x="942.7" y="458.58">Folding, sorting and degradation</text>
<text x="942.7" y="470.5">Signaling molecules and interaction</text>
<text x="942.7" y="482.43">Signal transduction</text>
<text x="942.7" y="494.35">Membrane transport</text>
<text x="942.7" y="506.27">Transport and catabolism</text>
<text x="942.7" y="518.2">Cellular community – eukaryotes</text>
<text x="942.7" y="530.12">Cell motility</text>
<text x="942.7" y="542.05">Cell growth and death</text>
</g>
<g stroke="#333" stroke-width="1.1">
<line x1="946.3" y1="37.35" x2="949.7" y2="37.35"/>
<line x1="946.3" y1="49.28" x2="949.7" y2="49.28"/>
<line x1="946.3" y1="61.2" x2="949.7" y2="61.2"/>
<line x1="946.3" y1="73.12" x2="949.7" y2="73.12"/>
<line x1="946.3" y1="85.05" x2="949.7" y2="85.05"/>
<line x1="946.3" y1="96.97" x2="949.7" y2="96.97"/>
<line x1="946.3" y1="108.9" x2="949.7" y2="108.9"/>
<line x1="946.3" y1="120.82" x2="949.7" y2="120.82"/>
<line x1="946.3" y1="132.74" x2="949.7" y2="132.74"/>
<line x1="946.3" y1="144.67" x2="949.7" y2="144.67"/>
<line x1="946.3" y1="156.59" x2="949.7" y2="156.59"/>
<line x1="946.3" y1="168.51" x2="949.7" y2="168.51"/>
<line x1="946.3" y1="180.44" x2="949.7" y2="180.44"/>
<line x1="946.3" y1="192.36" x2="949.7" y2="192.36"/>
<line x1="946.3" y1="204.28" x2="949.7" y2="204.28"/>
<line x1="946.3" y1="216.21" x2="949.7" y2="216.21"/>
<line x1="946.3" y1="228.13" x2="949.7" y2="228.13"/>
<line x1="946.3" y1="240.06" x2="949.7" y2="240.06"/>
<line x1="946.3" y1="251.98" x2="949.7" y2="251.98"/>
<line x1="946.3" y1="263.9" x2="949.7" y2="263.9"/>
<line x1="946.3" y1="275.83" x2="949.7" y2="275.83"/>
<line x1="946.3" y1="287.75" x2="949.7" y2="287.75"/>
<line x1="946.3" y1="299.67" x2="949.7" y2="299.67"/>
<line x1="946.3" y1="311.6" x2="949.7" y2="311.6"/>
<line x1="946.3" y1="323.52" x2="949.7" y2="323.52"/>
<line x1="946.3" y1="335.44" x2="949.7" y2="335.44"/>
<line x1="946.3" y1="347.37" x2="949.7" y2="347.37"/>
<line x1="946.3" y1="359.29" x2="949.7" y2="359.29"/>
<line x1="946.3" y1="371.22" x2="949.7" y2="371.22"/>
<line x1="946.3" y1="383.14" x2="949.7" y2="383.14"/>
<line x1="946.3" y1="395.06" x2="949.7" y2="395.06"/>
<line x1="946.3" y1="406.99" x2="949.7" y2="406.99"/>
<line x1="946.3" y1="418.91" x2="949.7" y2="418.91"/>
<line x1="946.3" y1="430.83" x2="949.7" y2="430.83"/>
<line x1="946.3" y1="442.76" x2="949.7" y2="442.76"/>
<line x1="946.3" y1="454.68" x2="949.7" y2="454.68"/>
<line x1="946.3" y1="466.6" x2="949.7" y2="466.6"/>
<line x1="946.3" y1="478.53" x2="949.7" y2="478.53"/>
<line x1="946.3" y1="490.45" x2="949.7" y2="490.45"/>
<line x1="946.3" y1="502.37" x2="949.7" y2="502.37"/>
<line x1="946.3" y1="514.3" x2="949.7" y2="514.3"/>
<line x1="946.3" y1="526.22" x2="949.7" y2="526.22"/>
<line x1="946.3" y1="538.15" x2="949.7" y2="538.15"/>
<line x1="975.9" y1="545.3" x2="975.9" y2="549.5" stroke-width="1.6"/>
<line x1="1139.6" y1="545.3" x2="1139.6" y2="549.5" stroke-width="1.6"/>
<line x1="1303.3" y1="545.3" x2="1303.3" y2="549.5" stroke-width="1.6"/>
<line x1="1467" y1="545.3" x2="1467" y2="549.5" stroke-width="1.6"/>
</g>
<rect x="949.7" y="30.2" width="581.8" height="515.1" fill="none" stroke="#222" stroke-width="1.1"/>
<path d="M949.7,30.2 V545.3 H1531.5" fill="none" stroke="#333" stroke-width="1.5"/>
<g font-family="'Liberation Sans', Arial, Helvetica, sans-serif" font-size="11.8" fill="#333" stroke="#333" stroke-width="0.2" text-anchor="middle">
<text x="971.4" y="561.2">0</text>
<text x="1135.1" y="561.2">10</text>
<text x="1298.8" y="561.2">20</text>
<text x="1462.5" y="561.2">30</text>
</g>
<text x="1240.5" y="578" font-family="'Liberation Sans', Arial, Helvetica, sans-serif" font-size="14.9" fill="#1a1a1a" text-anchor="middle">Percent of Genes(%)</text>
<rect x="1555" y="234.4" width="22" height="17" fill="#de7370"/>
<text x="1585.4" y="246.8" font-family="'Liberation Sans', Arial, Helvetica, sans-serif" font-size="10.9" fill="#333" stroke="#333" stroke-width="0.22">Cellular Processes</text>
<rect x="1555" y="253.8" width="22" height="17" fill="#af9a24"/>
<text x="1585.4" y="266.2" font-family="'Liberation Sans', Arial, Helvetica, sans-serif" font-size="10.9" fill="#333" stroke="#333" stroke-width="0.22">Environmental Information Processing</text>
<rect x="1555" y="273.2" width="22" height="17" fill="#65b946"/>
<text x="1585.4" y="285.6" font-family="'Liberation Sans', Arial, Helvetica, sans-serif" font-size="10.9" fill="#333" stroke="#333" stroke-width="0.22">Genetic Information Processing</text>
<rect x="1555" y="292.6" width="22" height="17" fill="#6bbec0"/>
<text x="1585.4" y="305" font-family="'Liberation Sans', Arial, Helvetica, sans-serif" font-size="10.9" fill="#333" stroke="#333" stroke-width="0.22">Human Diseases</text>
<rect x="1555" y="312" width="22" height="17" fill="#7096f8"/>
<text x="1585.4" y="324.4" font-family="'Liberation Sans', Arial, Helvetica, sans-serif" font-size="10.9" fill="#333" stroke="#333" stroke-width="0.22">Metabolism</text>
<rect x="1555" y="331.4" width="22" height="17" fill="#d765df"/>
<text x="1585.4" y="343.8" font-family="'Liberation Sans', Arial, Helvetica, sans-serif" font-size="10.9" fill="#333" stroke="#333" stroke-width="0.22">Organismal Systems</text>
<text x="32.5" y="652" font-family="'Liberation Sans', Arial, Helvetica, sans-serif" font-weight="bold" font-size="25" fill="#000">B</text>
<g font-family="'Liberation Sans', Arial, Helvetica, sans-serif" font-weight="bold" font-size="13.1" fill="#111" text-anchor="middle"><text x="476.5" y="639.6">MI&#43;HIIT vs MI-only (Total)</text><text x="478" y="654.6">Top 30 GO Term</text></g>
<rect x="337.4" y="673" width="63.7" height="11" fill="#7ca44f"/>
<rect x="337.4" y="693.36" width="64.9" height="11" fill="#7ca44f"/>
<rect x="337.4" y="713.72" width="66.6" height="11" fill="#7ca44f"/>
<rect x="337.4" y="734.08" width="70.4" height="11" fill="#7ca44f"/>
<rect x="337.4" y="754.44" width="76" height="11" fill="#7ca44f"/>
<rect x="337.4" y="774.8" width="92.7" height="11" fill="#7ca44f"/>
<rect x="337.4" y="795.16" width="98.1" height="11" fill="#7ca44f"/>
<rect x="337.4" y="815.52" width="114.2" height="11" fill="#7ca44f"/>
<rect x="337.4" y="835.88" width="129.9" height="11" fill="#7ca44f"/>
<rect x="337.4" y="856.24" width="245.8" height="11" fill="#7ca44f"/>
<rect x="337.4" y="672.7" width="270.2" height="194.5" fill="none" stroke="#222" stroke-width="1.1"/>
<rect x="608.2" y="672.2" width="20.8" height="195.5" fill="#7ca44f"/>
<text transform="translate(613.2,769.95) rotate(90)" font-family="'DejaVu Sans', sans-serif" font-size="12.7" fill="#222" text-anchor="middle">Biological Process</text>
<g font-family="'DejaVu Sans', sans-serif" font-size="14.6" fill="#1e1e1e" text-anchor="end">
<text x="332" y="683.8">cell cycle</text>
<text x="332" y="704.16">chemokine-mediated signaling pathway</text>
<text x="332" y="724.52">cell division</text>
<text x="332" y="744.88">chemotaxis</text>
<text x="332" y="765.24">positive regulation of T cell activation</text>
<text x="332" y="785.6">innate immune response</text>
<text x="332" y="805.96">immune response</text>
<text x="332" y="826.32">adaptive immune response</text>
<text x="332" y="846.68">inflammatory response</text>
<text x="332" y="867.04">immune system process</text>
</g>
<g stroke="#222" stroke-width="1">
<line x1="333.6" y1="678.5" x2="337.4" y2="678.5"/>
<line x1="333.6" y1="698.86" x2="337.4" y2="698.86"/>
<line x1="333.6" y1="719.22" x2="337.4" y2="719.22"/>
<line x1="333.6" y1="739.58" x2="337.4" y2="739.58"/>
<line x1="333.6" y1="759.94" x2="337.4" y2="759.94"/>
<line x1="333.6" y1="780.3" x2="337.4" y2="780.3"/>
<line x1="333.6" y1="800.66" x2="337.4" y2="800.66"/>
<line x1="333.6" y1="821.02" x2="337.4" y2="821.02"/>
<line x1="333.6" y1="841.38" x2="337.4" y2="841.38"/>
<line x1="333.6" y1="861.74" x2="337.4" y2="861.74"/>
</g>
<rect x="337.4" y="873.7" width="36.1" height="11" fill="#cf7a3c"/>
<rect x="337.4" y="894.06" width="37" height="11" fill="#cf7a3c"/>
<rect x="337.4" y="914.42" width="41.1" height="11" fill="#cf7a3c"/>
<rect x="337.4" y="934.78" width="41.1" height="11" fill="#cf7a3c"/>
<rect x="337.4" y="955.14" width="46.1" height="11" fill="#cf7a3c"/>
<rect x="337.4" y="975.5" width="47" height="11" fill="#cf7a3c"/>
<rect x="337.4" y="995.86" width="50.9" height="11" fill="#cf7a3c"/>
<rect x="337.4" y="1016.22" width="112.8" height="11" fill="#cf7a3c"/>
<rect x="337.4" y="1036.58" width="154.8" height="11" fill="#cf7a3c"/>
<rect x="337.4" y="1056.94" width="155.4" height="11" fill="#cf7a3c"/>
<rect x="337.4" y="873.4" width="270.2" height="194.4" fill="none" stroke="#222" stroke-width="1.1"/>
<rect x="608.2" y="872.9" width="20.8" height="195.4" fill="#cf7a3c"/>
<text transform="translate(613.2,970.6) rotate(90)" font-family="'DejaVu Sans', sans-serif" font-size="12.7" fill="#222" text-anchor="middle">Cellular Component</text>
<g font-family="'DejaVu Sans', sans-serif" font-size="14.6" fill="#1e1e1e" text-anchor="end">
<text x="332" y="884.5">immunological synapse</text>
<text x="332" y="904.86">T-tubule</text>
<text x="332" y="925.22">T cell receptor complex</text>
<text x="332" y="945.58">membrane raft</text>
<text x="332" y="965.94">chromosome, centromeric region</text>
<text x="332" y="986.3">membrane</text>
<text x="332" y="1006.66">cytoplasm</text>
<text x="332" y="1027.02">cell surface</text>
<text x="332" y="1047.38">plasma membrane</text>
<text x="332" y="1067.74">external side of plasma membrane</text>
</g>
<g stroke="#222" stroke-width="1">
<line x1="333.6" y1="879.2" x2="337.4" y2="879.2"/>
<line x1="333.6" y1="899.56" x2="337.4" y2="899.56"/>
<line x1="333.6" y1="919.92" x2="337.4" y2="919.92"/>
<line x1="333.6" y1="940.28" x2="337.4" y2="940.28"/>
<line x1="333.6" y1="960.64" x2="337.4" y2="960.64"/>
<line x1="333.6" y1="981" x2="337.4" y2="981"/>
<line x1="333.6" y1="1001.36" x2="337.4" y2="1001.36"/>
<line x1="333.6" y1="1021.72" x2="337.4" y2="1021.72"/>
<line x1="333.6" y1="1042.08" x2="337.4" y2="1042.08"/>
<line x1="333.6" y1="1062.44" x2="337.4" y2="1062.44"/>
</g>
<rect x="337.4" y="1074.7" width="34.6" height="11" fill="#6e93c9"/>
<rect x="337.4" y="1095.06" width="39.7" height="11" fill="#6e93c9"/>
<rect x="337.4" y="1115.42" width="40.9" height="11" fill="#6e93c9"/>
<rect x="337.4" y="1135.78" width="42" height="11" fill="#6e93c9"/>
<rect x="337.4" y="1156.14" width="42.4" height="11" fill="#6e93c9"/>
<rect x="337.4" y="1176.5" width="43" height="11" fill="#6e93c9"/>
<rect x="337.4" y="1196.86" width="48.2" height="11" fill="#6e93c9"/>
<rect x="337.4" y="1217.22" width="48.4" height="11" fill="#6e93c9"/>
<rect x="337.4" y="1237.58" width="63.7" height="11" fill="#6e93c9"/>
<rect x="337.4" y="1257.94" width="86" height="11" fill="#6e93c9"/>
<rect x="337.4" y="1074.4" width="270.2" height="194.3" fill="none" stroke="#222" stroke-width="1.1"/>
<rect x="608.2" y="1073.9" width="20.8" height="195.3" fill="#6e93c9"/>
<text transform="translate(613.2,1171.55) rotate(90)" font-family="'DejaVu Sans', sans-serif" font-size="12.7" fill="#222" text-anchor="middle">Molecular Function</text>
<g font-family="'DejaVu Sans', sans-serif" font-size="14.6" fill="#1e1e1e" text-anchor="end">
<text x="332" y="1085.5">chemokine receptor activity</text>
<text x="332" y="1105.86">potassium channel activity</text>
<text x="332" y="1126.22">chemokine activity</text>
<text x="332" y="1146.58">carbohydrate binding</text>
<text x="332" y="1166.94">transmembrane signaling receptor acti…</text>
<text x="332" y="1187.3">actin filament binding</text>
<text x="332" y="1207.66">signaling receptor activity</text>
<text x="332" y="1228.02">identical protein binding</text>
<text x="332" y="1248.38">voltage-gated monoatomic ion chann…</text>
<text x="332" y="1268.74">protein binding</text>
</g>
<g stroke="#222" stroke-width="1">
<line x1="333.6" y1="1080.2" x2="337.4" y2="1080.2"/>
<line x1="333.6" y1="1100.56" x2="337.4" y2="1100.56"/>
<line x1="333.6" y1="1120.92" x2="337.4" y2="1120.92"/>
<line x1="333.6" y1="1141.28" x2="337.4" y2="1141.28"/>
<line x1="333.6" y1="1161.64" x2="337.4" y2="1161.64"/>
<line x1="333.6" y1="1182" x2="337.4" y2="1182"/>
<line x1="333.6" y1="1202.36" x2="337.4" y2="1202.36"/>
<line x1="333.6" y1="1222.72" x2="337.4" y2="1222.72"/>
<line x1="333.6" y1="1243.08" x2="337.4" y2="1243.08"/>
<line x1="333.6" y1="1263.44" x2="337.4" y2="1263.44"/>
</g>
<g stroke="#222" stroke-width="1">
<line x1="337.4" y1="1268.7" x2="337.4" y2="1272.5"/>
<line x1="403.98" y1="1268.7" x2="403.98" y2="1272.5"/>
<line x1="470.56" y1="1268.7" x2="470.56" y2="1272.5"/>
<line x1="537.14" y1="1268.7" x2="537.14" y2="1272.5"/>
<line x1="603.72" y1="1268.7" x2="603.72" y2="1272.5"/>
</g>
<g font-family="'DejaVu Sans', sans-serif" font-size="13.3" fill="#1e1e1e" text-anchor="middle">
<text x="337.4" y="1284.6">0</text>
<text x="403.98" y="1284.6">10</text>
<text x="470.56" y="1284.6">20</text>
<text x="537.14" y="1284.6">30</text>
<text x="603.72" y="1284.6">40</text>
</g>
<text x="472.5" y="1299.5" font-family="'DejaVu Sans', sans-serif" font-size="13.3" fill="#1e1e1e" text-anchor="middle">-log<tspan font-size="9.3" dy="3">10</tspan><tspan dy="-3"> p-value</tspan></text>
<text x="733" y="661.6" font-family="'Liberation Sans', Arial, Helvetica, sans-serif" font-weight="bold" font-size="25" fill="#000">D</text>
<g fill-opacity="0.82" stroke-width="0.5" stroke-opacity="0.3" stroke-linejoin="round">
<path d="M1137,716 L1136.93,729.62 L1136.7,742.57 L1136.33,754.86 L1135.81,766.49 L1135.13,777.45 L1134.31,787.75 L1133.34,797.38 L1132.22,806.35 L1130.95,814.66 L1129.53,822.3 L1127.97,829.28 L1126.25,835.6 L1124.38,841.25 L1122.37,846.24 L1120.2,850.56 L1117.89,854.22 L1115.42,857.21 L1112.81,859.55 L1110.05,861.21 L1107.13,862.22 L1104.07,862.56 L1100.86,862.23 L1097.5,861.24 L1093.99,859.59 L1090.34,857.28 L1086.53,854.3 L1082.57,850.65 L1078.46,846.35 L1074.21,841.37 L1069.8,835.74 L1065.25,829.44 L1060.54,822.48 L1055.69,814.85 L1050.69,806.56 L1045.54,797.6 L1040.24,787.98 L1034.79,777.7 L1029.19,766.75 L1023.44,755.14 L1017.54,742.87 L1016.3,743.46 L1015.06,744.06 L1013.83,744.66 L1019.92,756.85 L1025.86,768.37 L1031.66,779.23 L1037.31,789.43 L1042.82,798.97 L1048.19,807.85 L1053.41,816.07 L1058.48,823.63 L1063.41,830.52 L1068.2,836.75 L1072.85,842.32 L1077.35,847.23 L1081.7,851.48 L1085.91,855.07 L1089.98,857.99 L1093.9,860.25 L1097.68,861.86 L1101.31,862.8 L1104.8,863.07 L1108.15,862.69 L1111.35,861.65 L1114.4,859.94 L1117.32,857.57 L1120.09,854.54 L1122.71,850.85 L1125.19,846.5 L1127.52,841.49 L1129.72,835.81 L1131.76,829.48 L1133.66,822.48 L1135.42,814.82 L1137.04,806.5 L1138.51,797.51 L1139.83,787.87 L1141.01,777.56 L1142.05,766.59 L1142.94,754.96 L1143.69,742.67 L1144.3,729.72 L1144.76,716.11 L1142.17,716.05 L1139.59,716.01Z" fill="#a1d4c9" stroke="#a1d4c9"/>
<path d="M1144.76,716.11 L1144.25,729.76 L1143.5,742.81 L1142.51,755.28 L1141.29,767.15 L1139.82,778.42 L1138.12,789.11 L1136.17,799.2 L1133.99,808.71 L1131.56,817.61 L1128.9,825.93 L1125.99,833.65 L1122.85,840.78 L1119.47,847.32 L1115.84,853.27 L1111.98,858.62 L1107.88,863.38 L1103.54,867.55 L1098.96,871.13 L1094.14,874.11 L1089.08,876.5 L1083.78,878.3 L1078.24,879.51 L1072.46,880.12 L1066.44,880.15 L1060.18,879.57 L1053.68,878.41 L1046.94,876.65 L1039.97,874.31 L1032.75,871.37 L1025.29,867.83 L1017.6,863.71 L1009.66,858.99 L1001.48,853.68 L993.07,847.77 L984.41,841.28 L975.52,834.19 L966.39,826.51 L957.01,818.24 L947.4,809.37 L937.55,799.91 L936.83,800.65 L936.11,801.39 L935.4,802.13 L945.36,811.48 L955.1,820.24 L964.59,828.41 L973.86,835.99 L982.89,842.98 L991.69,849.38 L1000.26,855.2 L1008.6,860.42 L1016.7,865.05 L1024.57,869.1 L1032.21,872.56 L1039.61,875.42 L1046.78,877.7 L1053.72,879.39 L1060.43,880.49 L1066.91,881 L1073.15,880.92 L1079.16,880.25 L1084.93,878.99 L1090.48,877.14 L1095.79,874.7 L1100.87,871.68 L1105.71,868.06 L1110.33,863.86 L1114.71,859.06 L1118.86,853.68 L1122.77,847.71 L1126.45,841.14 L1129.9,833.99 L1133.12,826.25 L1136.11,817.92 L1138.86,809 L1141.38,799.49 L1143.67,789.39 L1145.72,778.71 L1147.54,767.43 L1149.13,755.56 L1150.49,743.11 L1151.61,730.06 L1152.51,716.43 L1149.92,716.3 L1147.34,716.19Z" fill="#a1d4c9" stroke="#a1d4c9"/>
<path d="M1152.51,716.43 L1151.6,730.09 L1150.42,743.2 L1148.97,755.77 L1147.25,767.79 L1145.27,779.27 L1143.01,790.2 L1140.49,800.59 L1137.7,810.44 L1134.63,819.74 L1131.3,828.5 L1127.7,836.71 L1123.84,844.38 L1119.7,851.5 L1115.29,858.08 L1110.62,864.12 L1105.67,869.61 L1100.46,874.55 L1094.98,878.96 L1089.23,882.81 L1083.2,886.13 L1076.92,888.9 L1070.36,891.12 L1063.53,892.8 L1056.43,893.94 L1049.07,894.53 L1041.43,894.58 L1033.53,894.08 L1025.36,893.04 L1016.92,891.45 L1008.21,889.32 L999.23,886.65 L989.98,883.43 L980.46,879.66 L970.68,875.36 L960.62,870.5 L950.3,865.11 L939.71,859.17 L928.84,852.68 L917.71,845.65 L906.31,838.08 L905.55,839.21 L904.78,840.35 L904.02,841.5 L915.54,848.9 L926.8,855.77 L937.79,862.09 L948.52,867.88 L958.99,873.13 L969.2,877.84 L979.14,882.01 L988.83,885.64 L998.25,888.73 L1007.4,891.28 L1016.3,893.29 L1024.93,894.76 L1033.31,895.69 L1041.42,896.09 L1049.26,895.94 L1056.85,895.25 L1064.17,894.03 L1071.23,892.26 L1078.03,889.96 L1084.57,887.12 L1090.84,883.73 L1096.85,879.81 L1102.6,875.35 L1108.09,870.35 L1113.32,864.81 L1118.28,858.73 L1122.98,852.11 L1127.42,844.95 L1131.6,837.25 L1135.51,829.01 L1139.17,820.24 L1142.56,810.92 L1145.68,801.06 L1148.55,790.67 L1151.16,779.73 L1153.5,768.26 L1155.58,756.25 L1157.39,743.69 L1158.95,730.6 L1160.24,716.97 L1157.67,716.77 L1155.09,716.59Z" fill="#a1d4c9" stroke="#a1d4c9"/>
<path d="M1160.24,716.97 L1158.95,730.61 L1157.38,743.71 L1155.55,756.29 L1153.45,768.33 L1151.09,779.84 L1148.45,790.83 L1145.55,801.28 L1142.38,811.2 L1138.94,820.59 L1135.24,829.45 L1131.26,837.78 L1127.02,845.57 L1122.51,852.84 L1117.74,859.58 L1112.69,865.78 L1107.38,871.46 L1101.8,876.6 L1095.96,881.22 L1089.84,885.3 L1083.46,888.85 L1076.81,891.87 L1069.89,894.36 L1062.71,896.32 L1055.25,897.75 L1047.53,898.65 L1039.55,899.02 L1031.29,898.85 L1022.77,898.16 L1013.97,896.94 L1004.91,895.18 L995.59,892.89 L985.99,890.08 L976.13,886.73 L966,882.85 L955.6,878.44 L944.94,873.5 L934,868.03 L922.8,862.03 L911.33,855.5 L899.6,848.43 L899.06,849.31 L898.52,850.19 L897.99,851.07 L909.81,858 L921.37,864.41 L932.67,870.29 L943.71,875.64 L954.49,880.47 L965.01,884.77 L975.27,888.55 L985.27,891.79 L995.01,894.51 L1004.49,896.71 L1013.71,898.38 L1022.67,899.52 L1031.37,900.13 L1039.81,900.22 L1047.99,899.79 L1055.91,898.82 L1063.57,897.33 L1070.97,895.31 L1078.11,892.77 L1084.99,889.7 L1091.61,886.1 L1097.97,881.98 L1104.07,877.33 L1109.91,872.15 L1115.48,866.45 L1120.8,860.22 L1125.86,853.46 L1130.66,846.18 L1135.2,838.37 L1139.48,830.04 L1143.5,821.17 L1147.26,811.79 L1150.75,801.87 L1153.99,791.43 L1156.97,780.46 L1159.69,768.97 L1162.15,756.95 L1164.35,744.4 L1166.28,731.32 L1167.96,717.72 L1165.39,717.45 L1162.82,717.2Z" fill="#a1d4c9" stroke="#a1d4c9"/>
<path d="M1167.96,717.72 L1166.27,731.34 L1164.31,744.47 L1162.06,757.11 L1159.53,769.27 L1156.73,780.93 L1153.64,792.11 L1150.27,802.79 L1146.63,812.99 L1142.7,822.7 L1138.5,831.92 L1134.01,840.65 L1129.25,848.89 L1124.2,856.64 L1118.88,863.9 L1113.28,870.68 L1107.39,876.96 L1101.23,882.76 L1094.79,888.07 L1088.06,892.89 L1081.06,897.22 L1073.78,901.06 L1066.22,904.41 L1058.38,907.27 L1050.26,909.65 L1041.86,911.53 L1033.18,912.93 L1024.22,913.84 L1014.98,914.26 L1005.46,914.19 L995.66,913.63 L985.58,912.58 L975.22,911.04 L964.59,909.02 L953.67,906.5 L942.47,903.5 L930.99,900 L919.24,896.02 L907.2,891.55 L894.88,886.59 L882.29,881.14 L881.73,882.4 L881.18,883.65 L880.64,884.91 L893.32,890.18 L905.73,894.96 L917.87,899.25 L929.73,903.07 L941.33,906.4 L952.65,909.25 L963.7,911.61 L974.47,913.49 L984.98,914.89 L995.21,915.81 L1005.17,916.24 L1014.86,916.19 L1024.28,915.66 L1033.42,914.64 L1042.29,913.14 L1050.89,911.16 L1059.22,908.69 L1067.28,905.75 L1075.06,902.32 L1082.57,898.4 L1089.81,894 L1096.78,889.12 L1103.48,883.76 L1109.9,877.92 L1116.05,871.59 L1121.93,864.77 L1127.54,857.48 L1132.87,849.7 L1137.93,841.44 L1142.72,832.7 L1147.24,823.47 L1151.49,813.76 L1155.46,803.57 L1159.16,792.89 L1162.59,781.73 L1165.75,770.09 L1168.64,757.96 L1171.25,745.36 L1173.59,732.27 L1175.66,718.69 L1173.1,718.34 L1170.53,718.02Z" fill="#a1d4c9" stroke="#a1d4c9"/>
<path d="M1175.66,718.69 L1173.58,732.28 L1171.23,745.4 L1168.59,758.07 L1165.68,770.28 L1162.48,782.03 L1159,793.32 L1155.23,804.15 L1151.19,814.53 L1146.87,824.44 L1142.26,833.9 L1137.37,842.89 L1132.2,851.43 L1126.75,859.51 L1121.02,867.12 L1115.01,874.28 L1108.71,880.99 L1102.14,887.23 L1095.28,893.01 L1088.14,898.33 L1080.72,903.2 L1073.02,907.6 L1065.04,911.55 L1056.77,915.04 L1048.23,918.07 L1039.4,920.64 L1030.29,922.75 L1020.9,924.4 L1011.23,925.59 L1001.28,926.33 L991.04,926.6 L980.53,926.42 L969.73,925.77 L958.65,924.67 L947.29,923.11 L935.65,921.09 L923.73,918.61 L911.52,915.67 L899.04,912.27 L886.27,908.42 L873.22,904.1 L872.78,905.4 L872.34,906.7 L871.91,908 L885.03,912.13 L897.87,915.8 L910.44,919.01 L922.74,921.78 L934.76,924.09 L946.52,925.95 L957.99,927.36 L969.2,928.32 L980.13,928.82 L990.78,928.87 L1001.17,928.47 L1011.28,927.61 L1021.11,926.3 L1030.67,924.54 L1039.96,922.33 L1048.98,919.66 L1057.72,916.54 L1066.19,912.97 L1074.39,908.95 L1082.31,904.47 L1089.96,899.54 L1097.33,894.16 L1104.43,888.32 L1111.26,882.03 L1117.82,875.29 L1124.1,868.1 L1130.11,860.46 L1135.84,852.36 L1141.3,843.81 L1146.49,834.8 L1151.4,825.35 L1156.04,815.44 L1160.41,805.08 L1164.5,794.26 L1168.33,783 L1171.87,771.28 L1175.15,759.1 L1178.15,746.48 L1180.87,733.4 L1183.32,719.87 L1180.77,719.46 L1178.22,719.06Z" fill="#a1d4c9" stroke="#a1d4c9"/>
<path d="M1183.32,719.87 L1180.86,733.43 L1178.12,746.59 L1175.09,759.35 L1171.77,771.72 L1168.16,783.68 L1164.27,795.25 L1160.09,806.42 L1155.62,817.2 L1150.87,827.57 L1145.83,837.55 L1140.5,847.13 L1134.89,856.31 L1128.99,865.1 L1122.8,873.49 L1116.33,881.48 L1109.57,889.07 L1102.52,896.26 L1095.19,903.06 L1087.57,909.46 L1079.67,915.46 L1071.47,921.06 L1062.99,926.27 L1054.23,931.08 L1045.17,935.49 L1035.83,939.5 L1026.21,943.11 L1016.3,946.33 L1006.1,949.15 L995.61,951.57 L984.84,953.6 L973.78,955.22 L962.43,956.45 L950.8,957.28 L938.88,957.72 L926.67,957.75 L914.18,957.39 L901.4,956.63 L888.33,955.47 L874.98,953.92 L861.34,951.96 L861.13,953.32 L860.93,954.68 L860.73,956.03 L874.41,957.79 L887.81,959.15 L900.92,960.12 L913.76,960.7 L926.33,960.89 L938.61,960.69 L950.62,960.1 L962.35,959.11 L973.8,957.74 L984.97,955.97 L995.87,953.82 L1006.49,951.27 L1016.83,948.33 L1026.89,945 L1036.67,941.29 L1046.18,937.18 L1055.41,932.67 L1064.36,927.78 L1073.03,922.5 L1081.42,916.83 L1089.54,910.76 L1097.38,904.31 L1104.94,897.46 L1112.22,890.22 L1119.23,882.59 L1125.95,874.57 L1132.4,866.16 L1138.57,857.36 L1144.47,848.17 L1150.08,838.59 L1155.42,828.62 L1160.48,818.25 L1165.26,807.5 L1169.77,796.35 L1173.99,784.81 L1177.94,772.89 L1181.61,760.57 L1185,747.86 L1188.12,734.76 L1190.95,721.27 L1188.42,720.78 L1185.87,720.31Z" fill="#a1d4c9" stroke="#a1d4c9"/>
<path d="M1190.95,721.27 L1188.12,734.79 L1185,747.97 L1181.6,760.82 L1177.91,773.34 L1173.95,785.52 L1169.71,797.37 L1165.18,808.88 L1160.37,820.06 L1155.29,830.9 L1149.92,841.41 L1144.27,851.59 L1138.33,861.43 L1132.12,870.93 L1125.63,880.1 L1118.85,888.94 L1111.79,897.44 L1104.46,905.61 L1096.84,913.45 L1088.94,920.94 L1080.76,928.11 L1072.29,934.94 L1063.55,941.44 L1054.52,947.6 L1045.22,953.42 L1035.63,958.92 L1025.76,964.08 L1015.61,968.9 L1005.18,973.39 L994.47,977.54 L983.47,981.36 L972.2,984.85 L960.64,988 L948.8,990.82 L936.69,993.3 L924.29,995.45 L911.6,997.26 L898.64,998.74 L885.4,999.89 L871.87,1000.7 L858.07,1001.17 L858.1,1002.54 L858.14,1003.91 L858.19,1005.29 L871.99,1004.61 L885.53,1003.6 L898.79,1002.27 L911.78,1000.61 L924.5,998.62 L936.94,996.31 L949.12,993.67 L961.02,990.7 L972.66,987.4 L984.02,983.78 L995.1,979.83 L1005.92,975.55 L1016.47,970.94 L1026.74,966.01 L1036.74,960.75 L1046.48,955.16 L1055.93,949.25 L1065.12,943.01 L1074.04,936.44 L1082.68,929.54 L1091.06,922.32 L1099.16,914.76 L1106.99,906.89 L1114.55,898.68 L1121.83,890.15 L1128.85,881.29 L1135.59,872.1 L1142.06,862.58 L1148.26,852.74 L1154.19,842.57 L1159.85,832.07 L1165.24,821.25 L1170.35,810.1 L1175.19,798.62 L1179.76,786.81 L1184.06,774.68 L1188.09,762.22 L1191.85,749.43 L1195.33,736.32 L1198.54,722.87 L1196.02,722.31 L1193.49,721.78Z" fill="#a1d4c9" stroke="#a1d4c9"/>
<path d="M1198.54,722.87 L1195.35,736.38 L1191.91,749.69 L1188.23,762.8 L1184.3,775.72 L1180.14,788.43 L1175.73,800.95 L1171.09,813.27 L1166.2,825.39 L1161.07,837.32 L1155.7,849.04 L1150.09,860.57 L1144.23,871.9 L1138.14,883.04 L1131.8,893.97 L1125.22,904.71 L1118.4,915.25 L1111.34,925.59 L1104.04,935.74 L1096.49,945.68 L1088.71,955.43 L1080.68,964.98 L1072.41,974.34 L1063.9,983.49 L1055.15,992.45 L1046.16,1001.21 L1036.92,1009.77 L1027.45,1018.13 L1017.73,1026.3 L1007.77,1034.27 L997.57,1042.04 L987.13,1049.61 L976.45,1056.98 L965.52,1064.16 L954.36,1071.14 L942.95,1077.92 L931.3,1084.5 L919.41,1090.89 L907.28,1097.07 L894.9,1103.06 L882.29,1108.86 L883.14,1110.73 L884,1112.6 L884.87,1114.46 L897.36,1108.39 L909.62,1102.14 L921.66,1095.69 L933.47,1089.06 L945.04,1082.24 L956.39,1075.23 L967.51,1068.03 L978.4,1060.64 L989.06,1053.07 L999.49,1045.3 L1009.7,1037.35 L1019.67,1029.21 L1029.42,1020.88 L1038.94,1012.36 L1048.23,1003.65 L1057.29,994.76 L1066.12,985.67 L1074.72,976.4 L1083.09,966.94 L1091.24,957.29 L1099.15,947.45 L1106.84,937.42 L1114.3,927.21 L1121.53,916.8 L1128.53,906.21 L1135.3,895.43 L1141.85,884.46 L1148.16,873.3 L1154.24,861.95 L1160.1,850.42 L1165.73,838.69 L1171.13,826.78 L1176.3,814.68 L1181.24,802.39 L1185.95,789.91 L1190.44,777.24 L1194.69,764.39 L1198.72,751.34 L1202.52,738.11 L1206.08,724.69 L1203.58,724.06 L1201.06,723.45Z" fill="#a1d4c9" stroke="#a1d4c9"/>
<path d="M1206.08,724.69 L1202.52,738.11 L1198.72,751.36 L1194.71,764.42 L1190.46,777.3 L1186,790 L1181.3,802.51 L1176.38,814.85 L1171.24,827 L1165.87,838.97 L1160.27,850.76 L1154.45,862.37 L1148.4,873.8 L1142.13,885.04 L1135.63,896.11 L1128.91,906.99 L1121.96,917.69 L1114.79,928.21 L1107.39,938.55 L1099.76,948.7 L1091.91,958.67 L1083.84,968.47 L1075.54,978.08 L1067.01,987.51 L1058.26,996.75 L1049.28,1005.82 L1040.08,1014.7 L1030.65,1023.41 L1021,1031.93 L1011.12,1040.27 L1001.02,1048.42 L990.69,1056.4 L980.13,1064.19 L969.35,1071.81 L958.34,1079.24 L947.11,1086.49 L935.66,1093.56 L923.97,1100.44 L912.07,1107.15 L899.93,1113.67 L887.57,1120.01 L889.44,1123.68 L891.37,1127.31 L893.35,1130.92 L905.43,1124.04 L917.3,1117 L928.96,1109.79 L940.41,1102.41 L951.65,1094.87 L962.68,1087.17 L973.51,1079.3 L984.13,1071.26 L994.53,1063.06 L1004.73,1054.69 L1014.72,1046.15 L1024.5,1037.46 L1034.07,1028.59 L1043.44,1019.56 L1052.59,1010.37 L1061.54,1001.01 L1070.27,991.48 L1078.8,981.79 L1087.12,971.93 L1095.23,961.91 L1103.13,951.72 L1110.82,941.37 L1118.31,930.85 L1125.58,920.16 L1132.65,909.31 L1139.5,898.3 L1146.15,887.12 L1152.59,875.77 L1158.82,864.26 L1164.84,852.58 L1170.66,840.74 L1176.26,828.73 L1181.65,816.56 L1186.84,804.22 L1191.82,791.72 L1196.59,779.05 L1201.15,766.21 L1205.5,753.21 L1209.64,740.04 L1213.57,726.71 L1211.08,726.02 L1208.59,725.34Z" fill="#a1d4c9" stroke="#a1d4c9"/>
<path d="M1213.57,726.71 L1209.65,740.06 L1205.53,753.26 L1201.22,766.33 L1196.72,779.26 L1192.02,792.04 L1187.13,804.69 L1182.05,817.2 L1176.78,829.57 L1171.31,841.8 L1165.65,853.9 L1159.8,865.85 L1153.76,877.66 L1147.52,889.34 L1141.09,900.87 L1134.47,912.27 L1127.66,923.52 L1120.65,934.64 L1113.45,945.62 L1106.06,956.46 L1098.47,967.16 L1090.69,977.72 L1082.72,988.14 L1074.56,998.42 L1066.2,1008.57 L1057.66,1018.57 L1048.92,1028.43 L1039.98,1038.16 L1030.86,1047.75 L1021.54,1057.19 L1012.02,1066.5 L1002.32,1075.67 L992.42,1084.7 L982.33,1093.59 L972.05,1102.34 L961.58,1110.95 L950.91,1119.43 L940.05,1127.76 L929,1135.95 L917.75,1144.01 L906.31,1151.92 L908.65,1155.31 L911.04,1158.66 L913.48,1161.97 L924.57,1153.56 L935.48,1145.03 L946.22,1136.37 L956.79,1127.59 L967.18,1118.68 L977.4,1109.65 L987.44,1100.5 L997.31,1091.22 L1007,1081.82 L1016.52,1072.29 L1025.87,1062.65 L1035.04,1052.87 L1044.03,1042.98 L1052.85,1032.95 L1061.5,1022.81 L1069.97,1012.54 L1078.27,1002.15 L1086.4,991.63 L1094.34,980.99 L1102.12,970.23 L1109.72,959.34 L1117.15,948.33 L1124.4,937.2 L1131.48,925.94 L1138.38,914.55 L1145.11,903.05 L1151.66,891.42 L1158.04,879.66 L1164.25,867.78 L1170.28,855.78 L1176.14,843.65 L1181.82,831.4 L1187.33,819.03 L1192.66,806.53 L1197.82,793.91 L1202.8,781.17 L1207.61,768.3 L1212.25,755.3 L1216.71,742.19 L1221,728.95 L1218.53,728.18 L1216.05,727.43Z" fill="#a1d4c9" stroke="#a1d4c9"/>
<path d="M1221,728.95 L1216.72,742.2 L1212.29,755.35 L1207.7,768.4 L1202.96,781.36 L1198.06,794.21 L1193.01,806.96 L1187.81,819.62 L1182.44,832.17 L1176.93,844.62 L1171.26,856.97 L1165.43,869.23 L1159.45,881.38 L1153.31,893.43 L1147.02,905.39 L1140.58,917.24 L1133.98,928.99 L1127.22,940.65 L1120.31,952.2 L1113.25,963.65 L1106.03,975.01 L1098.65,986.26 L1091.12,997.41 L1083.44,1008.46 L1075.6,1019.42 L1067.61,1030.27 L1059.46,1041.03 L1051.15,1051.68 L1042.7,1062.23 L1034.08,1072.69 L1025.31,1083.04 L1016.39,1093.29 L1007.31,1103.45 L998.08,1113.5 L988.69,1123.45 L979.15,1133.31 L969.45,1143.06 L959.6,1152.71 L949.59,1162.27 L939.43,1171.72 L929.11,1181.08 L931.88,1184.12 L934.69,1187.13 L937.55,1190.09 L947.45,1180.29 L957.22,1170.41 L966.86,1160.44 L976.36,1150.39 L985.72,1140.25 L994.95,1130.02 L1004.05,1119.71 L1013,1109.31 L1021.83,1098.83 L1030.52,1088.26 L1039.07,1077.61 L1047.49,1066.87 L1055.77,1056.04 L1063.92,1045.13 L1071.94,1034.14 L1079.81,1023.05 L1087.56,1011.89 L1095.17,1000.63 L1102.64,989.29 L1109.98,977.87 L1117.18,966.36 L1124.25,954.76 L1131.18,943.08 L1137.98,931.31 L1144.64,919.46 L1151.17,907.52 L1157.56,895.5 L1163.82,883.39 L1169.94,871.19 L1175.93,858.91 L1181.78,846.54 L1187.49,834.09 L1193.08,821.55 L1198.52,808.93 L1203.83,796.22 L1209.01,783.42 L1214.05,770.54 L1218.96,757.57 L1223.73,744.52 L1228.36,731.38 L1225.92,730.55 L1223.46,729.74Z" fill="#a1d4c9" stroke="#a1d4c9"/>
<path d="M1228.36,731.38 L1223.74,744.54 L1219.03,757.64 L1214.21,770.68 L1209.29,783.67 L1204.26,796.6 L1199.14,809.48 L1193.92,822.31 L1188.6,835.08 L1183.17,847.79 L1177.65,860.45 L1172.02,873.06 L1166.3,885.61 L1160.47,898.1 L1154.55,910.54 L1148.52,922.93 L1142.39,935.26 L1136.16,947.54 L1129.83,959.76 L1123.4,971.93 L1116.87,984.04 L1110.24,996.1 L1103.51,1008.1 L1096.68,1020.05 L1089.74,1031.94 L1082.71,1043.78 L1075.57,1055.56 L1068.34,1067.29 L1061,1078.96 L1053.57,1090.58 L1046.03,1102.14 L1038.39,1113.65 L1030.65,1125.11 L1022.81,1136.51 L1014.87,1147.85 L1006.83,1159.14 L998.69,1170.38 L990.45,1181.56 L982.11,1192.68 L973.67,1203.75 L965.12,1214.77 L968.38,1217.28 L971.68,1219.74 L975.01,1222.16 L983.07,1210.78 L991.05,1199.36 L998.95,1187.89 L1006.78,1176.39 L1014.52,1164.84 L1022.18,1153.25 L1029.77,1141.62 L1037.27,1129.94 L1044.7,1118.22 L1052.05,1106.47 L1059.32,1094.66 L1066.5,1082.82 L1073.61,1070.93 L1080.65,1059 L1087.6,1047.03 L1094.47,1035.02 L1101.26,1022.97 L1107.98,1010.87 L1114.61,998.73 L1121.17,986.55 L1127.64,974.32 L1134.04,962.05 L1140.36,949.75 L1146.6,937.39 L1152.76,925 L1158.84,912.56 L1164.84,900.09 L1170.76,887.57 L1176.61,875 L1182.37,862.4 L1188.05,849.75 L1193.66,837.06 L1199.19,824.33 L1204.63,811.56 L1210,798.74 L1215.29,785.88 L1220.5,772.98 L1225.63,760.04 L1230.68,747.05 L1235.66,734.02 L1233.23,733.12 L1230.8,732.24Z" fill="#a1d4c9" stroke="#a1d4c9"/>
<path d="M1235.66,734.02 L1230.68,747.05 L1225.63,760.04 L1220.5,772.98 L1215.29,785.88 L1210,798.74 L1204.63,811.56 L1199.19,824.33 L1193.66,837.06 L1188.05,849.75 L1182.37,862.4 L1176.61,875 L1170.76,887.57 L1164.84,900.09 L1158.84,912.56 L1152.76,925 L1146.6,937.39 L1140.36,949.75 L1134.04,962.05 L1127.64,974.32 L1121.17,986.55 L1114.61,998.73 L1107.98,1010.87 L1101.26,1022.97 L1094.47,1035.02 L1087.6,1047.03 L1080.65,1059 L1073.61,1070.93 L1066.5,1082.82 L1059.32,1094.66 L1052.05,1106.47 L1044.7,1118.22 L1037.27,1129.94 L1029.77,1141.62 L1022.18,1153.25 L1014.52,1164.84 L1006.78,1176.39 L998.95,1187.89 L991.05,1199.36 L983.07,1210.78 L975.01,1222.16 L978.38,1224.52 L981.78,1226.84 L985.22,1229.1 L992.78,1217.38 L1000.28,1205.63 L1007.73,1193.85 L1015.12,1182.04 L1022.45,1170.2 L1029.72,1158.33 L1036.94,1146.43 L1044.09,1134.5 L1051.2,1122.54 L1058.24,1110.55 L1065.23,1098.53 L1072.16,1086.48 L1079.03,1074.4 L1085.84,1062.29 L1092.6,1050.15 L1099.3,1037.98 L1105.94,1025.77 L1112.53,1013.54 L1119.05,1001.28 L1125.52,988.99 L1131.94,976.67 L1138.29,964.32 L1144.59,951.94 L1150.83,939.53 L1157.01,927.09 L1163.14,914.62 L1169.21,902.12 L1175.22,889.58 L1181.17,877.02 L1187.07,864.43 L1192.91,851.81 L1198.69,839.16 L1204.41,826.48 L1210.08,813.77 L1215.69,801.03 L1221.24,788.25 L1226.73,775.45 L1232.17,762.62 L1237.55,749.76 L1242.87,736.87 L1240.48,735.9 L1238.07,734.95Z" fill="#a1d4c9" stroke="#a1d4c9"/>
<path d="M1242.87,736.87 L1237.55,749.76 L1232.17,762.62 L1226.73,775.45 L1221.24,788.25 L1215.69,801.03 L1210.08,813.77 L1204.41,826.48 L1198.69,839.16 L1192.91,851.81 L1187.07,864.43 L1181.17,877.02 L1175.22,889.58 L1169.21,902.12 L1163.14,914.62 L1157.01,927.09 L1150.83,939.53 L1144.59,951.94 L1138.29,964.32 L1131.94,976.67 L1125.52,988.99 L1119.05,1001.28 L1112.53,1013.54 L1105.94,1025.77 L1099.3,1037.98 L1092.6,1050.15 L1085.84,1062.29 L1079.03,1074.4 L1072.16,1086.48 L1065.23,1098.53 L1058.24,1110.55 L1051.2,1122.54 L1044.09,1134.5 L1036.94,1146.43 L1029.72,1158.33 L1022.45,1170.2 L1015.12,1182.04 L1007.73,1193.85 L1000.28,1205.63 L992.78,1217.38 L985.22,1229.1 L988.69,1231.31 L992.19,1233.48 L995.72,1235.59 L1002.77,1223.55 L1009.78,1211.49 L1016.75,1199.42 L1023.69,1187.32 L1030.6,1175.21 L1037.47,1163.08 L1044.3,1150.94 L1051.1,1138.77 L1057.87,1126.59 L1064.59,1114.39 L1071.29,1102.17 L1077.94,1089.93 L1084.57,1077.67 L1091.15,1065.4 L1097.7,1053.11 L1104.22,1040.8 L1110.7,1028.47 L1117.15,1016.12 L1123.56,1003.76 L1129.93,991.37 L1136.27,978.97 L1142.58,966.55 L1148.84,954.12 L1155.08,941.66 L1161.28,929.19 L1167.44,916.7 L1173.57,904.19 L1179.66,891.66 L1185.72,879.11 L1191.74,866.55 L1197.72,853.97 L1203.67,841.37 L1209.59,828.75 L1215.47,816.11 L1221.31,803.46 L1227.12,790.78 L1232.9,778.09 L1238.64,765.38 L1244.34,752.66 L1250.01,739.91 L1247.64,738.87 L1245.26,737.86Z" fill="#a1d4c9" stroke="#a1d4c9"/>
<path d="M1250.01,739.91 L1244.36,752.67 L1238.72,765.43 L1233.08,778.19 L1227.45,790.95 L1221.83,803.72 L1216.21,816.48 L1210.6,829.26 L1205,842.03 L1199.4,854.81 L1193.8,867.59 L1188.22,880.37 L1182.64,893.15 L1177.06,905.94 L1171.49,918.73 L1165.93,931.52 L1160.37,944.31 L1154.82,957.11 L1149.28,969.91 L1143.74,982.71 L1138.2,995.52 L1132.68,1008.33 L1127.16,1021.14 L1121.64,1033.95 L1116.13,1046.77 L1110.63,1059.58 L1105.13,1072.41 L1099.64,1085.23 L1094.16,1098.05 L1088.68,1110.88 L1083.2,1123.71 L1077.74,1136.55 L1072.28,1149.38 L1066.82,1162.22 L1061.37,1175.06 L1055.93,1187.91 L1050.49,1200.76 L1045.06,1213.6 L1039.64,1226.46 L1034.22,1239.31 L1028.81,1252.17 L1032.61,1253.74 L1036.44,1255.25 L1040.29,1256.7 L1045.14,1243.62 L1050.02,1230.56 L1054.93,1217.5 L1059.86,1204.46 L1064.83,1191.43 L1069.83,1178.41 L1074.85,1165.41 L1079.91,1152.42 L1084.99,1139.43 L1090.1,1126.47 L1095.25,1113.51 L1100.42,1100.57 L1105.62,1087.64 L1110.85,1074.72 L1116.1,1061.81 L1121.39,1048.92 L1126.71,1036.03 L1132.06,1023.17 L1137.43,1010.31 L1142.84,997.46 L1148.27,984.63 L1153.73,971.81 L1159.22,959 L1164.75,946.21 L1170.3,933.42 L1175.88,920.65 L1181.48,907.89 L1187.12,895.15 L1192.79,882.41 L1198.49,869.69 L1204.21,856.98 L1209.97,844.28 L1215.75,831.6 L1221.56,818.93 L1227.41,806.27 L1233.28,793.62 L1239.18,780.98 L1245.11,768.36 L1251.07,755.75 L1257.05,743.15 L1254.72,742.05 L1252.37,740.97Z" fill="#a1d4c9" stroke="#a1d4c9"/>
<path d="M1257.05,743.15 L1251.07,755.75 L1245.11,768.36 L1239.18,780.98 L1233.28,793.62 L1227.41,806.27 L1221.56,818.93 L1215.75,831.6 L1209.97,844.28 L1204.21,856.98 L1198.49,869.69 L1192.79,882.41 L1187.12,895.15 L1181.48,907.89 L1175.88,920.65 L1170.3,933.42 L1164.75,946.21 L1159.22,959 L1153.73,971.81 L1148.27,984.63 L1142.84,997.46 L1137.43,1010.31 L1132.06,1023.17 L1126.71,1036.03 L1121.39,1048.92 L1116.1,1061.81 L1110.85,1074.72 L1105.62,1087.64 L1100.42,1100.57 L1095.25,1113.51 L1090.1,1126.47 L1084.99,1139.43 L1079.91,1152.42 L1074.85,1165.41 L1069.83,1178.41 L1064.83,1191.43 L1059.86,1204.46 L1054.93,1217.5 L1050.02,1230.56 L1045.14,1243.62 L1040.29,1256.7 L1044.16,1258.1 L1048.05,1259.44 L1051.96,1260.72 L1056.24,1247.45 L1060.57,1234.19 L1064.95,1220.96 L1069.39,1207.75 L1073.88,1194.56 L1078.42,1181.4 L1083.01,1168.25 L1087.65,1155.13 L1092.35,1142.02 L1097.1,1128.94 L1101.91,1115.88 L1106.76,1102.85 L1111.67,1089.83 L1116.63,1076.84 L1121.64,1063.87 L1126.71,1050.91 L1131.82,1037.99 L1136.99,1025.08 L1142.22,1012.19 L1147.49,999.33 L1152.82,986.48 L1158.2,973.66 L1163.63,960.86 L1169.12,948.09 L1174.65,935.33 L1180.24,922.6 L1185.89,909.88 L1191.58,897.19 L1197.33,884.52 L1203.13,871.87 L1208.98,859.25 L1214.88,846.64 L1220.84,834.06 L1226.85,821.5 L1232.91,808.96 L1239.03,796.44 L1245.19,783.95 L1251.41,771.47 L1257.68,759.02 L1264.01,746.59 L1261.7,745.42 L1259.38,744.27Z" fill="#a1d4c9" stroke="#a1d4c9"/>
<path d="M1264.01,746.59 L1257.71,759.02 L1251.53,771.5 L1245.46,784.01 L1239.51,796.55 L1233.66,809.13 L1227.93,821.74 L1222.31,834.39 L1216.81,847.08 L1211.42,859.8 L1206.13,872.55 L1200.97,885.34 L1195.91,898.17 L1190.97,911.03 L1186.14,923.92 L1181.42,936.85 L1176.81,949.82 L1172.32,962.82 L1167.94,975.86 L1163.68,988.93 L1159.52,1002.03 L1155.48,1015.17 L1151.55,1028.35 L1147.73,1041.56 L1144.03,1054.81 L1140.44,1068.09 L1136.96,1081.41 L1133.59,1094.76 L1130.34,1108.15 L1127.2,1121.57 L1124.17,1135.03 L1121.25,1148.52 L1118.45,1162.05 L1115.76,1175.62 L1113.18,1189.21 L1110.71,1202.85 L1108.36,1216.52 L1106.12,1230.22 L1103.99,1243.96 L1101.98,1257.74 L1100.07,1271.55 L1104.16,1272.06 L1108.25,1272.51 L1112.34,1272.91 L1113.64,1259.03 L1115.08,1245.2 L1116.65,1231.41 L1118.37,1217.66 L1120.21,1203.95 L1122.2,1190.28 L1124.32,1176.65 L1126.57,1163.07 L1128.97,1149.53 L1131.5,1136.02 L1134.16,1122.56 L1136.97,1109.14 L1139.9,1095.77 L1142.98,1082.43 L1146.19,1069.13 L1149.54,1055.88 L1153.03,1042.67 L1156.65,1029.5 L1160.41,1016.37 L1164.3,1003.28 L1168.33,990.23 L1172.5,977.23 L1176.81,964.26 L1181.25,951.34 L1185.82,938.46 L1190.54,925.62 L1195.39,912.82 L1200.37,900.07 L1205.5,887.35 L1210.76,874.68 L1216.15,862.04 L1221.69,849.45 L1227.36,836.9 L1233.16,824.39 L1239.11,811.93 L1245.18,799.5 L1251.4,787.12 L1257.75,774.77 L1264.24,762.47 L1270.87,750.21 L1268.59,748.98 L1266.31,747.77Z" fill="#a1d4c9" stroke="#a1d4c9"/>
<path d="M1270.87,750.21 L1264.25,762.47 L1257.78,774.78 L1251.47,787.12 L1245.31,799.51 L1239.3,811.94 L1233.44,824.41 L1227.73,836.93 L1222.18,849.48 L1216.78,862.08 L1211.53,874.73 L1206.43,887.41 L1201.48,900.14 L1196.69,912.91 L1192.05,925.72 L1187.56,938.58 L1183.22,951.47 L1179.03,964.41 L1175,977.39 L1171.11,990.42 L1167.38,1003.48 L1163.8,1016.59 L1160.37,1029.75 L1157.1,1042.94 L1153.98,1056.18 L1151,1069.45 L1148.18,1082.78 L1145.52,1096.14 L1143,1109.55 L1140.64,1122.99 L1138.42,1136.48 L1136.36,1150.02 L1134.46,1163.59 L1132.7,1177.21 L1131.1,1190.87 L1129.64,1204.58 L1128.34,1218.32 L1127.19,1232.11 L1126.2,1245.94 L1125.35,1259.81 L1124.66,1273.73 L1126.71,1273.81 L1128.77,1273.88 L1130.83,1273.93 L1131.22,1260.01 L1131.78,1246.13 L1132.51,1232.31 L1133.41,1218.52 L1134.47,1204.79 L1135.7,1191.11 L1137.11,1177.47 L1138.67,1163.88 L1140.41,1150.33 L1142.32,1136.84 L1144.39,1123.39 L1146.63,1109.99 L1149.04,1096.64 L1151.62,1083.33 L1154.36,1070.07 L1157.28,1056.86 L1160.36,1043.7 L1163.61,1030.58 L1167.03,1017.51 L1170.61,1004.49 L1174.37,991.52 L1178.29,978.59 L1182.38,965.71 L1186.63,952.88 L1191.06,940.1 L1195.66,927.36 L1200.42,914.67 L1205.35,902.03 L1210.45,889.43 L1215.71,876.89 L1221.15,864.39 L1226.75,851.94 L1232.52,839.53 L1238.46,827.17 L1244.56,814.86 L1250.84,802.6 L1257.28,790.39 L1263.89,778.22 L1270.67,766.1 L1277.62,754.03 L1275.38,752.74 L1273.13,751.46Z" fill="#a1d4c9" stroke="#a1d4c9"/>
<path d="M1277.62,754.03 L1270.62,765.76 L1263.7,776.86 L1256.84,787.32 L1250.05,797.16 L1243.33,806.35 L1236.68,814.92 L1230.1,822.85 L1223.59,830.15 L1217.15,836.81 L1210.78,842.85 L1204.48,848.24 L1198.25,853.01 L1192.09,857.14 L1185.99,860.64 L1179.97,863.5 L1174.02,865.73 L1168.13,867.33 L1162.32,868.3 L1156.57,868.63 L1150.89,868.33 L1145.29,867.39 L1139.75,865.82 L1134.28,863.62 L1128.88,860.78 L1123.56,857.31 L1118.3,853.21 L1113.11,848.48 L1107.99,843.11 L1102.93,837.11 L1097.95,830.47 L1093.04,823.2 L1088.2,815.3 L1083.43,806.76 L1078.72,797.59 L1074.09,787.79 L1069.52,777.35 L1065.03,766.28 L1060.6,754.58 L1056.25,742.25 L1051.96,729.28 L1050,729.91 L1048.05,730.56 L1046.1,731.22 L1050.68,744.1 L1055.33,756.35 L1060.05,767.97 L1064.84,778.97 L1069.71,789.34 L1074.64,799.09 L1079.64,808.21 L1084.72,816.7 L1089.86,824.57 L1095.07,831.81 L1100.36,838.43 L1105.71,844.42 L1111.14,849.79 L1116.64,854.53 L1122.2,858.64 L1127.84,862.12 L1133.55,864.99 L1139.32,867.22 L1145.17,868.83 L1151.09,869.81 L1157.08,870.17 L1163.14,869.9 L1169.27,869.01 L1175.47,867.49 L1181.74,865.34 L1188.08,862.57 L1194.5,859.17 L1200.98,855.14 L1207.53,850.49 L1214.15,845.22 L1220.85,839.32 L1227.61,832.79 L1234.45,825.63 L1241.35,817.85 L1248.33,809.45 L1255.37,800.42 L1262.49,790.76 L1269.68,780.48 L1276.93,769.57 L1284.26,758.03 L1282.06,756.68 L1279.85,755.34Z" fill="#ffffb2" stroke="#ffffb2"/>
<path d="M1284.26,758.03 L1276.93,769.57 L1269.66,780.48 L1262.46,790.77 L1255.32,800.44 L1248.24,809.48 L1241.22,817.9 L1234.27,825.7 L1227.38,832.87 L1220.55,839.42 L1213.79,845.35 L1207.09,850.65 L1200.45,855.33 L1193.88,859.39 L1187.37,862.82 L1180.92,865.63 L1174.54,867.82 L1168.22,869.38 L1161.96,870.32 L1155.77,870.64 L1149.64,870.33 L1143.57,869.4 L1137.57,867.85 L1131.62,865.67 L1125.75,862.87 L1119.93,859.45 L1114.18,855.4 L1108.49,850.73 L1102.87,845.44 L1097.3,839.52 L1091.8,832.98 L1086.37,825.82 L1081,818.03 L1075.69,809.62 L1070.44,800.59 L1065.26,790.93 L1060.14,780.65 L1055.08,769.75 L1050.09,758.22 L1045.16,746.07 L1040.29,733.3 L1036.44,734.75 L1032.61,736.26 L1028.81,737.83 L1034.25,750.38 L1039.74,762.32 L1045.29,773.65 L1050.9,784.37 L1056.57,794.47 L1062.29,803.96 L1068.07,812.84 L1073.91,821.1 L1079.8,828.75 L1085.75,835.79 L1091.76,842.22 L1097.83,848.04 L1103.95,853.24 L1110.13,857.83 L1116.36,861.81 L1122.66,865.17 L1129.01,867.93 L1135.41,870.07 L1141.88,871.6 L1148.4,872.51 L1154.98,872.82 L1161.61,872.51 L1168.31,871.58 L1175.05,870.05 L1181.86,867.9 L1188.72,865.15 L1195.64,861.77 L1202.62,857.79 L1209.66,853.19 L1216.75,847.99 L1223.89,842.16 L1231.1,835.73 L1238.36,828.69 L1245.68,821.03 L1253.06,812.76 L1260.49,803.87 L1267.98,794.38 L1275.53,784.27 L1283.13,773.55 L1290.79,762.22 L1288.63,760.8 L1286.45,759.4Z" fill="#ffffb2" stroke="#ffffb2"/>
<path d="M1290.79,762.22 L1283.11,773.56 L1275.44,784.31 L1267.79,794.47 L1260.16,804.04 L1252.54,813.01 L1244.94,821.4 L1237.35,829.19 L1229.78,836.39 L1222.22,843 L1214.68,849.02 L1207.15,854.45 L1199.64,859.28 L1192.15,863.53 L1184.67,867.18 L1177.21,870.24 L1169.76,872.7 L1162.33,874.58 L1154.91,875.86 L1147.51,876.56 L1140.13,876.66 L1132.76,876.17 L1125.41,875.08 L1118.07,873.41 L1110.75,871.14 L1103.44,868.29 L1096.15,864.84 L1088.87,860.8 L1081.62,856.16 L1074.37,850.94 L1067.14,845.12 L1059.93,838.71 L1052.73,831.71 L1045.55,824.12 L1038.39,815.94 L1031.24,807.16 L1024.1,797.8 L1016.98,787.84 L1009.88,777.29 L1002.79,766.15 L995.72,754.41 L992.19,756.52 L988.69,758.69 L985.22,760.9 L992.81,772.31 L1000.42,783.15 L1008.03,793.41 L1015.66,803.09 L1023.3,812.2 L1030.94,820.72 L1038.6,828.67 L1046.27,836.04 L1053.95,842.83 L1061.64,849.04 L1069.34,854.68 L1077.05,859.73 L1084.77,864.21 L1092.5,868.11 L1100.24,871.43 L1107.99,874.18 L1115.75,876.34 L1123.53,877.93 L1131.31,878.94 L1139.11,879.37 L1146.91,879.22 L1154.73,878.5 L1162.55,877.19 L1170.39,875.31 L1178.24,872.85 L1186.09,869.82 L1193.96,866.2 L1201.84,862.01 L1209.73,857.23 L1217.63,851.88 L1225.54,845.95 L1233.46,839.45 L1241.39,832.36 L1249.33,824.7 L1257.28,816.46 L1265.25,807.64 L1273.22,798.24 L1281.2,788.27 L1289.2,777.71 L1297.2,766.58 L1295.08,765.11 L1292.94,763.65Z" fill="#ffffb2" stroke="#ffffb2"/>
<path d="M1297.2,766.58 L1289.2,777.71 L1281.2,788.27 L1273.22,798.24 L1265.25,807.64 L1257.28,816.46 L1249.33,824.7 L1241.39,832.36 L1233.46,839.45 L1225.54,845.95 L1217.63,851.88 L1209.73,857.23 L1201.84,862.01 L1193.96,866.2 L1186.09,869.82 L1178.24,872.85 L1170.39,875.31 L1162.55,877.19 L1154.73,878.5 L1146.91,879.22 L1139.11,879.37 L1131.31,878.94 L1123.53,877.93 L1115.75,876.34 L1107.99,874.18 L1100.24,871.43 L1092.5,868.11 L1084.77,864.21 L1077.05,859.73 L1069.34,854.68 L1061.64,849.04 L1053.95,842.83 L1046.27,836.04 L1038.6,828.67 L1030.94,820.72 L1023.3,812.2 L1015.66,803.09 L1008.03,793.41 L1000.42,783.15 L992.81,772.31 L985.22,760.9 L981.78,763.16 L978.38,765.48 L975.01,767.84 L983.11,778.92 L991.22,789.43 L999.34,799.38 L1007.45,808.76 L1015.58,817.58 L1023.71,825.84 L1031.85,833.53 L1039.99,840.66 L1048.13,847.23 L1056.29,853.23 L1064.45,858.67 L1072.61,863.54 L1080.78,867.85 L1088.96,871.6 L1097.14,874.78 L1105.32,877.4 L1113.52,879.46 L1121.71,880.95 L1129.92,881.88 L1138.13,882.24 L1146.34,882.04 L1154.56,881.28 L1162.79,879.95 L1171.02,878.06 L1179.26,875.6 L1187.5,872.58 L1195.75,869 L1204,864.86 L1212.26,860.15 L1220.53,854.87 L1228.8,849.03 L1237.08,842.63 L1245.36,835.67 L1253.65,828.14 L1261.94,820.04 L1270.24,811.39 L1278.54,802.17 L1286.85,792.38 L1295.17,782.03 L1303.49,771.12 L1301.41,769.59 L1299.31,768.07Z" fill="#ffffb2" stroke="#ffffb2"/>
<path d="M1303.49,771.12 L1295.17,782.03 L1286.85,792.38 L1278.54,802.17 L1270.24,811.39 L1261.94,820.04 L1253.65,828.14 L1245.36,835.67 L1237.08,842.63 L1228.8,849.03 L1220.53,854.87 L1212.26,860.15 L1204,864.86 L1195.75,869 L1187.5,872.58 L1179.26,875.6 L1171.02,878.06 L1162.79,879.95 L1154.56,881.28 L1146.34,882.04 L1138.13,882.24 L1129.92,881.88 L1121.71,880.95 L1113.52,879.46 L1105.32,877.4 L1097.14,874.78 L1088.96,871.6 L1080.78,867.85 L1072.61,863.54 L1064.45,858.67 L1056.29,853.23 L1048.13,847.23 L1039.99,840.66 L1031.85,833.53 L1023.71,825.84 L1015.58,817.58 L1007.45,808.76 L999.34,799.38 L991.22,789.43 L983.11,778.92 L975.01,767.84 L971.68,770.26 L968.38,772.72 L965.12,775.23 L973.72,785.94 L982.31,796.11 L990.91,805.73 L999.51,814.79 L1008.1,823.31 L1016.7,831.28 L1025.3,838.71 L1033.9,845.58 L1042.51,851.91 L1051.11,857.68 L1059.71,862.91 L1068.32,867.59 L1076.92,871.72 L1085.53,875.3 L1094.14,878.33 L1102.75,880.82 L1111.36,882.75 L1119.97,884.14 L1128.58,884.98 L1137.19,885.27 L1145.81,885.01 L1154.42,884.2 L1163.04,882.84 L1171.65,880.94 L1180.27,878.48 L1188.89,875.48 L1197.51,871.93 L1206.13,867.83 L1214.75,863.18 L1223.37,857.98 L1232,852.24 L1240.62,845.94 L1249.25,839.1 L1257.87,831.71 L1266.5,823.77 L1275.13,815.28 L1283.76,806.24 L1292.39,796.66 L1301.02,786.52 L1309.65,775.84 L1307.61,774.25 L1305.56,772.67Z" fill="#ffffb2" stroke="#ffffb2"/>
<path d="M1309.65,775.84 L1301.01,786.53 L1292.36,796.68 L1283.7,806.29 L1275.03,815.36 L1266.35,823.89 L1257.66,831.89 L1248.95,839.34 L1240.24,846.26 L1231.51,852.63 L1222.78,858.47 L1214.03,863.77 L1205.27,868.53 L1196.5,872.76 L1187.72,876.44 L1178.93,879.58 L1170.13,882.19 L1161.31,884.26 L1152.49,885.78 L1143.65,886.77 L1134.81,887.22 L1125.95,887.13 L1117.08,886.5 L1108.2,885.34 L1099.31,883.63 L1090.41,881.39 L1081.5,878.6 L1072.57,875.28 L1063.64,871.42 L1054.69,867.02 L1045.74,862.08 L1036.77,856.6 L1027.79,850.58 L1018.8,844.03 L1009.8,836.93 L1000.79,829.3 L991.77,821.13 L982.73,812.42 L973.69,803.16 L964.64,793.38 L955.57,783.05 L952.46,785.75 L949.4,788.49 L946.37,791.28 L955.9,801.2 L965.4,810.61 L974.9,819.49 L984.38,827.84 L993.84,835.68 L1003.29,842.99 L1012.73,849.78 L1022.14,856.05 L1031.55,861.79 L1040.94,867.02 L1050.31,871.71 L1059.67,875.89 L1069.02,879.55 L1078.35,882.68 L1087.66,885.29 L1096.96,887.38 L1106.25,888.94 L1115.52,889.98 L1124.77,890.5 L1134.01,890.5 L1143.24,889.97 L1152.45,888.93 L1161.64,887.36 L1170.82,885.26 L1179.99,882.65 L1189.14,879.51 L1198.27,875.85 L1207.4,871.67 L1216.5,866.96 L1225.59,861.74 L1234.67,855.99 L1243.73,849.71 L1252.77,842.92 L1261.8,835.6 L1270.82,827.76 L1279.82,819.4 L1288.81,810.51 L1297.78,801.1 L1306.74,791.17 L1315.68,780.72 L1313.68,779.07 L1311.67,777.45Z" fill="#ffffb2" stroke="#ffffb2"/>
<path d="M1315.68,780.72 L1306.72,791.18 L1297.74,801.15 L1288.71,810.61 L1279.65,819.57 L1270.55,828.03 L1261.42,836 L1252.25,843.46 L1243.04,850.42 L1233.79,856.88 L1224.51,862.84 L1215.2,868.3 L1205.84,873.26 L1196.45,877.71 L1187.02,881.67 L1177.56,885.13 L1168.06,888.09 L1158.53,890.54 L1148.95,892.5 L1139.34,893.96 L1129.7,894.91 L1120.02,895.37 L1110.3,895.32 L1100.54,894.77 L1090.75,893.73 L1080.92,892.18 L1071.06,890.13 L1061.15,887.59 L1051.22,884.54 L1041.24,880.99 L1031.23,876.94 L1021.18,872.39 L1011.1,867.34 L1000.98,861.79 L990.82,855.74 L980.63,849.19 L970.4,842.14 L960.13,834.58 L949.83,826.53 L939.49,817.98 L929.11,808.92 L926.39,812.01 L923.72,815.14 L921.09,818.3 L931.86,826.9 L942.6,835.01 L953.3,842.64 L963.95,849.78 L974.57,856.45 L985.15,862.63 L995.7,868.33 L1006.2,873.54 L1016.66,878.28 L1027.08,882.53 L1037.47,886.3 L1047.81,889.59 L1058.12,892.39 L1068.39,894.71 L1078.61,896.55 L1088.8,897.91 L1098.95,898.79 L1109.06,899.18 L1119.13,899.09 L1129.16,898.52 L1139.15,897.46 L1149.11,895.93 L1159.02,893.91 L1168.9,891.41 L1178.73,888.42 L1188.53,884.96 L1198.29,881.01 L1208,876.57 L1217.68,871.66 L1227.32,866.26 L1236.92,860.39 L1246.48,854.03 L1256.01,847.18 L1265.49,839.86 L1274.93,832.05 L1284.34,823.76 L1293.7,814.98 L1303.03,805.73 L1312.32,795.99 L1321.56,785.77 L1319.62,784.07 L1317.65,782.39Z" fill="#ffffb2" stroke="#ffffb2"/>
<path d="M1321.56,785.77 L1312.28,796.09 L1302.87,806.12 L1293.35,815.87 L1283.71,825.34 L1273.96,834.52 L1264.08,843.42 L1254.09,852.03 L1243.99,860.35 L1233.76,868.39 L1223.42,876.15 L1212.96,883.62 L1202.38,890.81 L1191.69,897.72 L1180.88,904.33 L1169.95,910.67 L1158.9,916.72 L1147.74,922.48 L1136.46,927.96 L1125.06,933.16 L1113.54,938.07 L1101.91,942.69 L1090.16,947.03 L1078.3,951.09 L1066.31,954.86 L1054.21,958.35 L1041.99,961.55 L1029.66,964.47 L1017.2,967.1 L1004.63,969.45 L991.94,971.51 L979.14,973.29 L966.22,974.79 L953.18,976 L940.02,976.92 L926.74,977.56 L913.35,977.92 L899.84,977.99 L886.22,977.78 L872.47,977.28 L858.61,976.5 L858.37,980.6 L858.19,984.71 L858.07,988.83 L871.96,989.01 L885.74,988.92 L899.41,988.57 L912.97,987.96 L926.42,987.09 L939.75,985.95 L952.98,984.55 L966.1,982.89 L979.1,980.96 L992,978.78 L1004.78,976.33 L1017.45,973.61 L1030.01,970.64 L1042.46,967.4 L1054.8,963.9 L1067.03,960.14 L1079.15,956.11 L1091.16,951.82 L1103.06,947.27 L1114.84,942.45 L1126.52,937.37 L1138.08,932.03 L1149.54,926.43 L1160.88,920.57 L1172.11,914.44 L1183.24,908.05 L1194.25,901.39 L1205.15,894.48 L1215.94,887.3 L1226.62,879.85 L1237.18,872.15 L1247.64,864.18 L1257.99,855.95 L1268.22,847.46 L1278.35,838.7 L1288.36,829.68 L1298.26,820.4 L1308.06,810.86 L1317.74,801.05 L1327.31,790.98 L1325.41,789.23 L1323.5,787.49Z" fill="#ffffb2" stroke="#ffffb2"/>
<path d="M1327.31,790.98 L1317.74,801.07 L1308.06,810.92 L1298.27,820.54 L1288.37,829.93 L1278.36,839.09 L1268.23,848.01 L1258,856.71 L1247.66,865.17 L1237.21,873.4 L1226.65,881.4 L1215.98,889.16 L1205.2,896.7 L1194.31,904 L1183.3,911.07 L1172.19,917.91 L1160.97,924.51 L1149.64,930.89 L1138.2,937.03 L1126.64,942.94 L1114.98,948.62 L1103.21,954.07 L1091.33,959.28 L1079.33,964.27 L1067.23,969.02 L1055.02,973.54 L1042.69,977.83 L1030.26,981.88 L1017.72,985.71 L1005.07,989.3 L992.3,992.66 L979.43,995.79 L966.45,998.68 L953.35,1001.35 L940.15,1003.78 L926.83,1005.98 L913.41,1007.95 L899.88,1009.68 L886.23,1011.19 L872.48,1012.46 L858.61,1013.5 L858.76,1015.56 L858.92,1017.61 L859.09,1019.66 L872.94,1018.32 L886.68,1016.76 L900.32,1014.98 L913.85,1012.99 L927.29,1010.77 L940.62,1008.35 L953.85,1005.7 L966.98,1002.84 L980,999.75 L992.92,996.45 L1005.74,992.94 L1018.46,989.2 L1031.07,985.25 L1043.58,981.08 L1055.99,976.7 L1068.3,972.09 L1080.5,967.27 L1092.6,962.23 L1104.6,956.98 L1116.5,951.5 L1128.29,945.81 L1139.99,939.9 L1151.57,933.78 L1163.06,927.43 L1174.45,920.87 L1185.73,914.09 L1196.91,907.09 L1207.98,899.88 L1218.96,892.45 L1229.83,884.8 L1240.6,876.93 L1251.26,868.85 L1261.83,860.55 L1272.29,852.03 L1282.65,843.29 L1292.91,834.34 L1303.06,825.17 L1313.11,815.78 L1323.06,806.17 L1332.91,796.35 L1331.06,794.54 L1329.19,792.75Z" fill="#ffffb2" stroke="#ffffb2"/>
<path d="M1332.91,796.35 L1323.06,806.2 L1313.13,815.89 L1303.1,825.41 L1292.98,834.77 L1282.76,843.96 L1272.45,852.99 L1262.05,861.85 L1251.55,870.55 L1240.96,879.09 L1230.27,887.46 L1219.5,895.67 L1208.62,903.71 L1197.66,911.59 L1186.6,919.31 L1175.45,926.86 L1164.2,934.24 L1152.86,941.47 L1141.43,948.52 L1129.9,955.42 L1118.28,962.15 L1106.57,968.71 L1094.76,975.11 L1082.86,981.35 L1070.86,987.42 L1058.78,993.33 L1046.59,999.07 L1034.32,1004.65 L1021.95,1010.06 L1009.49,1015.31 L996.93,1020.4 L984.28,1025.32 L971.54,1030.08 L958.7,1034.67 L945.77,1039.1 L932.75,1043.37 L919.63,1047.47 L906.42,1051.41 L893.11,1055.18 L879.71,1058.79 L866.22,1062.23 L867.24,1066.22 L868.32,1070.19 L869.46,1074.14 L882.8,1070.11 L896.05,1065.94 L909.22,1061.63 L922.31,1057.17 L935.31,1052.58 L948.23,1047.83 L961.07,1042.95 L973.83,1037.93 L986.5,1032.76 L999.09,1027.45 L1011.6,1021.99 L1024.03,1016.4 L1036.37,1010.66 L1048.63,1004.78 L1060.81,998.76 L1072.9,992.59 L1084.91,986.28 L1096.84,979.83 L1108.69,973.24 L1120.45,966.5 L1132.13,959.63 L1143.73,952.61 L1155.25,945.44 L1166.68,938.14 L1178.03,930.69 L1189.3,923.1 L1200.48,915.37 L1211.58,907.49 L1222.6,899.47 L1233.54,891.31 L1244.39,883.01 L1255.16,874.56 L1265.85,865.98 L1276.46,857.25 L1286.98,848.37 L1297.42,839.36 L1307.78,830.2 L1318.05,820.9 L1328.24,811.46 L1338.35,801.87 L1336.55,800.02 L1334.74,798.17Z" fill="#ffffb2" stroke="#ffffb2"/>
<path d="M1338.35,801.87 L1328.24,811.42 L1318.02,820.73 L1307.71,829.81 L1297.31,838.67 L1286.8,847.3 L1276.2,855.7 L1265.51,863.87 L1254.71,871.81 L1243.82,879.52 L1232.84,887.01 L1221.75,894.27 L1210.57,901.29 L1199.29,908.09 L1187.92,914.66 L1176.45,921.01 L1164.88,927.12 L1153.21,933.01 L1141.45,938.66 L1129.59,944.09 L1117.64,949.29 L1105.58,954.26 L1093.43,959 L1081.19,963.52 L1068.84,967.8 L1056.41,971.86 L1043.87,975.69 L1031.23,979.29 L1018.5,982.66 L1005.68,985.8 L992.75,988.72 L979.73,991.4 L966.62,993.86 L953.4,996.09 L940.09,998.09 L926.68,999.86 L913.18,1001.4 L899.58,1002.71 L885.88,1003.8 L872.08,1004.66 L858.19,1005.29 L858.24,1006.66 L858.3,1008.03 L858.37,1009.4 L872.26,1008.57 L886.05,1007.52 L899.76,1006.26 L913.38,1004.79 L926.9,1003.09 L940.34,1001.18 L953.69,999.06 L966.94,996.72 L980.11,994.16 L993.19,991.38 L1006.17,988.39 L1019.07,985.18 L1031.88,981.76 L1044.59,978.12 L1057.22,974.26 L1069.76,970.19 L1082.2,965.9 L1094.56,961.4 L1106.83,956.67 L1119,951.74 L1131.09,946.58 L1143.09,941.21 L1154.99,935.62 L1166.81,929.82 L1178.54,923.8 L1190.18,917.56 L1201.72,911.11 L1213.18,904.44 L1224.55,897.56 L1235.82,890.46 L1247.01,883.14 L1258.11,875.6 L1269.11,867.85 L1280.03,859.89 L1290.86,851.7 L1301.6,843.31 L1312.24,834.69 L1322.8,825.86 L1333.27,816.81 L1343.64,807.55 L1341.9,805.64 L1340.13,803.75Z" fill="#bebbdd" stroke="#bebbdd"/>
<path d="M1343.64,807.55 L1333.27,816.82 L1322.8,825.88 L1312.25,834.75 L1301.6,843.41 L1290.87,851.87 L1280.05,860.12 L1269.14,868.17 L1258.14,876.02 L1247.05,883.66 L1235.87,891.1 L1224.6,898.33 L1213.24,905.37 L1201.8,912.2 L1190.26,918.82 L1178.64,925.24 L1166.93,931.46 L1155.12,937.48 L1143.23,943.29 L1131.25,948.9 L1119.18,954.3 L1107.03,959.5 L1094.78,964.5 L1082.44,969.29 L1070.02,973.88 L1057.5,978.27 L1044.9,982.45 L1032.2,986.43 L1019.42,990.21 L1006.55,993.78 L993.59,997.15 L980.54,1000.32 L967.4,1003.28 L954.18,1006.04 L940.86,1008.6 L927.46,1010.95 L913.96,1013.1 L900.38,1015.04 L886.7,1016.79 L872.94,1018.32 L859.09,1019.66 L859.28,1021.71 L859.49,1023.75 L859.71,1025.8 L873.53,1024.17 L887.27,1022.34 L900.93,1020.33 L914.51,1018.13 L928.01,1015.74 L941.42,1013.17 L954.75,1010.4 L968,1007.45 L981.17,1004.3 L994.26,1000.97 L1007.26,997.45 L1020.19,993.74 L1033.03,989.85 L1045.79,985.76 L1058.46,981.49 L1071.06,977.03 L1083.57,972.37 L1096,967.54 L1108.35,962.51 L1120.62,957.29 L1132.81,951.89 L1144.91,946.29 L1156.93,940.51 L1168.87,934.54 L1180.73,928.38 L1192.51,922.03 L1204.2,915.49 L1215.81,908.77 L1227.34,901.86 L1238.79,894.75 L1250.16,887.46 L1261.44,879.98 L1272.65,872.32 L1283.77,864.46 L1294.81,856.41 L1305.76,848.18 L1316.64,839.76 L1327.43,831.15 L1338.15,822.35 L1348.77,813.36 L1347.08,811.41 L1345.37,809.47Z" fill="#bebbdd" stroke="#bebbdd"/>
<path d="M1348.77,813.36 L1338.15,822.35 L1327.43,831.15 L1316.64,839.76 L1305.76,848.18 L1294.81,856.41 L1283.77,864.46 L1272.65,872.32 L1261.44,879.98 L1250.16,887.46 L1238.79,894.75 L1227.34,901.86 L1215.81,908.77 L1204.2,915.49 L1192.51,922.03 L1180.73,928.38 L1168.87,934.54 L1156.93,940.51 L1144.91,946.29 L1132.81,951.89 L1120.62,957.29 L1108.35,962.51 L1096,967.54 L1083.57,972.37 L1071.06,977.03 L1058.46,981.49 L1045.79,985.76 L1033.03,989.85 L1020.19,993.74 L1007.26,997.45 L994.26,1000.97 L981.17,1004.3 L968,1007.45 L954.75,1010.4 L941.42,1013.17 L928.01,1015.74 L914.51,1018.13 L900.93,1020.33 L887.27,1022.34 L873.53,1024.17 L859.71,1025.8 L859.86,1027.16 L860.02,1028.52 L860.19,1029.89 L873.99,1028.05 L887.72,1026.05 L901.37,1023.86 L914.95,1021.5 L928.45,1018.96 L941.88,1016.25 L955.23,1013.36 L968.51,1010.3 L981.71,1007.06 L994.84,1003.64 L1007.89,1000.05 L1020.87,996.28 L1033.77,992.34 L1046.6,988.22 L1059.35,983.92 L1072.03,979.45 L1084.63,974.8 L1097.16,969.98 L1109.61,964.98 L1121.98,959.8 L1134.28,954.45 L1146.51,948.92 L1158.66,943.22 L1170.74,937.34 L1182.74,931.28 L1194.66,925.05 L1206.52,918.64 L1218.29,912.06 L1229.99,905.3 L1241.62,898.36 L1253.17,891.25 L1264.64,883.96 L1276.04,876.5 L1287.37,868.86 L1298.62,861.04 L1309.79,853.05 L1320.89,844.88 L1331.92,836.54 L1342.87,828.02 L1353.74,819.32 L1352.1,817.32 L1350.45,815.33Z" fill="#bebbdd" stroke="#bebbdd"/>
<path d="M1353.74,819.32 L1342.88,828.06 L1331.96,836.7 L1320.99,845.26 L1309.97,853.72 L1298.89,862.1 L1287.76,870.38 L1276.57,878.57 L1265.34,886.66 L1254.04,894.67 L1242.7,902.58 L1231.3,910.41 L1219.85,918.14 L1208.34,925.78 L1196.79,933.33 L1185.17,940.79 L1173.51,948.15 L1161.79,955.43 L1150.02,962.61 L1138.19,969.7 L1126.31,976.7 L1114.38,983.61 L1102.39,990.42 L1090.35,997.15 L1078.26,1003.78 L1066.11,1010.33 L1053.91,1016.78 L1041.66,1023.13 L1029.35,1029.4 L1016.99,1035.58 L1004.58,1041.66 L992.11,1047.66 L979.59,1053.56 L967.02,1059.37 L954.39,1065.09 L941.71,1070.71 L928.97,1076.25 L916.19,1081.69 L903.34,1087.05 L890.45,1092.31 L877.5,1097.48 L879.04,1101.29 L880.64,1105.09 L882.29,1108.86 L895,1103.13 L907.68,1097.33 L920.31,1091.46 L932.9,1085.53 L945.45,1079.52 L957.96,1073.44 L970.42,1067.3 L982.85,1061.08 L995.23,1054.8 L1007.57,1048.44 L1019.87,1042.02 L1032.13,1035.53 L1044.35,1028.96 L1056.52,1022.33 L1068.66,1015.63 L1080.75,1008.85 L1092.8,1002.01 L1104.81,995.1 L1116.78,988.12 L1128.71,981.07 L1140.59,973.95 L1152.44,966.76 L1164.24,959.5 L1176,952.17 L1187.72,944.77 L1199.4,937.3 L1211.04,929.76 L1222.63,922.15 L1234.19,914.47 L1245.7,906.72 L1257.17,898.91 L1268.6,891.02 L1279.99,883.06 L1291.33,875.03 L1302.64,866.94 L1313.9,858.77 L1325.12,850.54 L1336.31,842.23 L1347.44,833.86 L1358.54,825.41 L1356.96,823.37 L1355.36,821.34Z" fill="#bebbdd" stroke="#bebbdd"/>
<path d="M1358.54,825.41 L1347.45,833.86 L1336.31,842.25 L1325.14,850.57 L1313.93,858.83 L1302.68,867.03 L1291.39,875.16 L1280.07,883.23 L1268.7,891.24 L1257.3,899.19 L1245.86,907.07 L1234.38,914.89 L1222.86,922.65 L1211.31,930.35 L1199.72,937.98 L1188.08,945.55 L1176.41,953.06 L1164.71,960.51 L1152.96,967.89 L1141.18,975.21 L1129.35,982.47 L1117.49,989.66 L1105.59,996.8 L1093.66,1003.87 L1081.68,1010.87 L1069.67,1017.82 L1057.61,1024.7 L1045.52,1031.52 L1033.39,1038.27 L1021.23,1044.97 L1009.02,1051.6 L996.78,1058.17 L984.5,1064.67 L972.18,1071.12 L959.82,1077.5 L947.42,1083.81 L934.99,1090.07 L922.52,1096.26 L910.01,1102.39 L897.46,1108.46 L884.87,1114.46 L885.76,1116.32 L886.66,1118.17 L887.57,1120.01 L900.03,1113.74 L912.46,1107.41 L924.86,1101.04 L937.23,1094.62 L949.57,1088.16 L961.88,1081.64 L974.16,1075.08 L986.41,1068.47 L998.64,1061.81 L1010.83,1055.11 L1023,1048.35 L1035.14,1041.55 L1047.24,1034.7 L1059.32,1027.8 L1071.37,1020.86 L1083.39,1013.87 L1095.39,1006.82 L1107.35,999.73 L1119.28,992.6 L1131.19,985.41 L1143.06,978.18 L1154.91,970.9 L1166.73,963.57 L1178.51,956.19 L1190.27,948.77 L1202,941.29 L1213.7,933.77 L1225.38,926.2 L1237.02,918.59 L1248.63,910.92 L1260.22,903.21 L1271.77,895.45 L1283.3,887.64 L1294.8,879.78 L1306.26,871.88 L1317.7,863.93 L1329.11,855.92 L1340.5,847.88 L1351.85,839.78 L1363.17,831.64 L1361.65,829.55 L1360.1,827.47Z" fill="#bebbdd" stroke="#bebbdd"/>
<path d="M1363.17,831.64 L1351.86,839.79 L1340.53,847.93 L1329.18,856.05 L1317.82,864.14 L1306.45,872.21 L1295.07,880.27 L1283.67,888.3 L1272.25,896.31 L1260.83,904.3 L1249.38,912.27 L1237.93,920.22 L1226.46,928.14 L1214.97,936.05 L1203.48,943.93 L1191.96,951.8 L1180.44,959.64 L1168.9,967.46 L1157.34,975.26 L1145.77,983.04 L1134.19,990.8 L1122.6,998.54 L1110.99,1006.25 L1099.36,1013.95 L1087.72,1021.63 L1076.07,1029.28 L1064.4,1036.91 L1052.72,1044.52 L1041.03,1052.11 L1029.32,1059.68 L1017.6,1067.23 L1005.86,1074.76 L994.11,1082.27 L982.35,1089.75 L970.57,1097.22 L958.77,1104.66 L946.97,1112.08 L935.15,1119.49 L923.31,1126.87 L911.46,1134.23 L899.6,1141.57 L900.14,1142.44 L900.69,1143.31 L901.23,1144.18 L913.02,1136.72 L924.8,1129.24 L936.57,1121.76 L948.34,1114.27 L960.1,1106.76 L971.85,1099.25 L983.59,1091.73 L995.33,1084.2 L1007.07,1076.65 L1018.8,1069.1 L1030.52,1061.54 L1042.23,1053.97 L1053.94,1046.39 L1065.64,1038.8 L1077.34,1031.19 L1089.02,1023.58 L1100.71,1015.96 L1112.38,1008.33 L1124.05,1000.69 L1135.71,993.04 L1147.37,985.38 L1159.02,977.71 L1170.67,970.03 L1182.3,962.34 L1193.93,954.65 L1205.56,946.94 L1217.18,939.22 L1228.79,931.49 L1240.39,923.75 L1251.99,916 L1263.58,908.25 L1275.17,900.48 L1286.75,892.7 L1298.32,884.91 L1309.89,877.12 L1321.45,869.31 L1333,861.49 L1344.55,853.67 L1356.09,845.83 L1367.62,837.99 L1366.16,835.86 L1364.67,833.74Z" fill="#bebbdd" stroke="#bebbdd"/>
<path d="M1367.62,837.99 L1356.12,845.87 L1344.66,853.8 L1333.26,861.8 L1321.9,869.86 L1310.59,877.97 L1299.34,886.14 L1288.13,894.37 L1276.97,902.66 L1265.87,911.01 L1254.81,919.41 L1243.81,927.88 L1232.85,936.4 L1221.94,944.98 L1211.09,953.62 L1200.28,962.31 L1189.52,971.07 L1178.82,979.88 L1168.16,988.76 L1157.56,997.69 L1147,1006.68 L1136.49,1015.72 L1126.04,1024.83 L1115.63,1033.99 L1105.27,1043.22 L1094.97,1052.5 L1084.71,1061.84 L1074.5,1071.24 L1064.35,1080.69 L1054.24,1090.21 L1044.19,1099.78 L1034.18,1109.41 L1024.22,1119.1 L1014.32,1128.85 L1004.46,1138.65 L994.65,1148.52 L984.9,1158.44 L975.19,1168.42 L965.53,1178.46 L955.93,1188.56 L946.37,1198.72 L947.38,1199.65 L948.38,1200.58 L949.4,1201.51 L958.81,1191.22 L968.28,1181 L977.8,1170.85 L987.39,1160.77 L997.04,1150.76 L1006.74,1140.82 L1016.51,1130.95 L1026.33,1121.14 L1036.21,1111.41 L1046.15,1101.75 L1056.16,1092.16 L1066.22,1082.64 L1076.33,1073.19 L1086.51,1063.81 L1096.75,1054.5 L1107.05,1045.26 L1117.4,1036.09 L1127.82,1026.98 L1138.29,1017.95 L1148.82,1008.99 L1159.42,1000.1 L1170.07,991.28 L1180.78,982.53 L1191.55,973.85 L1202.38,965.23 L1213.26,956.69 L1224.21,948.22 L1235.22,939.82 L1246.28,931.49 L1257.41,923.23 L1268.59,915.04 L1279.83,906.91 L1291.13,898.86 L1302.49,890.88 L1313.91,882.97 L1325.39,875.13 L1336.93,867.35 L1348.53,859.65 L1360.18,852.02 L1371.9,844.46 L1370.49,842.29 L1369.07,840.13Z" fill="#bebbdd" stroke="#bebbdd"/>
<path d="M1371.9,844.46 L1360.23,852.05 L1348.7,859.77 L1337.31,867.61 L1326.07,875.58 L1314.98,883.68 L1304.03,891.91 L1293.22,900.26 L1282.56,908.74 L1272.04,917.34 L1261.66,926.08 L1251.44,934.94 L1241.35,943.93 L1231.41,953.04 L1221.61,962.28 L1211.96,971.65 L1202.45,981.15 L1193.09,990.77 L1183.87,1000.52 L1174.79,1010.39 L1165.86,1020.4 L1157.07,1030.53 L1148.43,1040.78 L1139.93,1051.17 L1131.58,1061.68 L1123.37,1072.32 L1115.3,1083.08 L1107.38,1093.98 L1099.6,1105 L1091.97,1116.14 L1084.48,1127.41 L1077.14,1138.81 L1069.94,1150.34 L1062.88,1162 L1055.97,1173.78 L1049.21,1185.69 L1042.58,1197.72 L1036.11,1209.88 L1029.77,1222.17 L1023.58,1234.59 L1017.54,1247.13 L1018.78,1247.71 L1020.02,1248.29 L1021.27,1248.86 L1027.13,1236.24 L1033.15,1223.75 L1039.32,1211.4 L1045.65,1199.19 L1052.13,1187.12 L1058.76,1175.18 L1065.55,1163.38 L1072.49,1151.72 L1079.59,1140.19 L1086.84,1128.8 L1094.24,1117.55 L1101.8,1106.44 L1109.51,1095.46 L1117.38,1084.62 L1125.4,1073.92 L1133.58,1063.36 L1141.9,1052.93 L1150.39,1042.64 L1159.02,1032.49 L1167.82,1022.48 L1176.76,1012.6 L1185.86,1002.86 L1195.11,993.26 L1204.52,983.79 L1214.08,974.47 L1223.8,965.28 L1233.67,956.23 L1243.69,947.31 L1253.87,938.53 L1264.2,929.89 L1274.69,921.39 L1285.33,913.02 L1296.12,904.8 L1307.07,896.71 L1318.17,888.75 L1329.43,880.94 L1340.84,873.26 L1352.4,865.72 L1364.12,858.31 L1375.99,851.05 L1374.65,848.84 L1373.29,846.64Z" fill="#bebbdd" stroke="#bebbdd"/>
<path d="M1375.99,851.05 L1364.18,858.33 L1352.63,865.78 L1341.35,873.39 L1330.34,881.18 L1319.59,889.13 L1309.12,897.25 L1298.91,905.53 L1288.97,913.99 L1279.3,922.61 L1269.89,931.4 L1260.76,940.35 L1251.89,949.47 L1243.29,958.76 L1234.95,968.22 L1226.89,977.85 L1219.09,987.64 L1211.56,997.6 L1204.3,1007.73 L1197.31,1018.03 L1190.58,1028.49 L1184.13,1039.12 L1177.94,1049.92 L1172.02,1060.88 L1166.36,1072.01 L1160.98,1083.31 L1155.86,1094.78 L1151.01,1106.42 L1146.43,1118.22 L1142.11,1130.19 L1138.07,1142.33 L1134.29,1154.63 L1130.78,1167.1 L1127.54,1179.74 L1124.56,1192.55 L1121.86,1205.52 L1119.42,1218.67 L1117.25,1231.98 L1115.34,1245.45 L1113.71,1259.1 L1112.34,1272.91 L1116.44,1273.24 L1120.55,1273.51 L1124.66,1273.73 L1125.42,1259.88 L1126.47,1246.21 L1127.81,1232.71 L1129.43,1219.4 L1131.35,1206.26 L1133.55,1193.29 L1136.04,1180.51 L1138.82,1167.9 L1141.88,1155.46 L1145.24,1143.21 L1148.88,1131.13 L1152.81,1119.22 L1157.03,1107.5 L1161.54,1095.95 L1166.34,1084.58 L1171.42,1073.38 L1176.79,1062.36 L1182.45,1051.52 L1188.4,1040.86 L1194.64,1030.37 L1201.17,1020.06 L1207.98,1009.92 L1215.08,999.97 L1222.47,990.18 L1230.15,980.58 L1238.11,971.15 L1246.37,961.9 L1254.91,952.83 L1263.74,943.93 L1272.86,935.21 L1282.27,926.67 L1291.96,918.31 L1301.95,910.12 L1312.22,902.1 L1322.78,894.27 L1333.63,886.61 L1344.76,879.13 L1356.19,871.82 L1367.9,864.7 L1379.9,857.75 L1378.62,855.5 L1377.32,853.27Z" fill="#bebbdd" stroke="#bebbdd"/>
<path d="M1379.9,857.75 L1367.91,864.7 L1356.2,871.82 L1344.8,879.13 L1333.69,886.61 L1322.88,894.27 L1312.36,902.11 L1302.14,910.12 L1292.21,918.31 L1282.58,926.68 L1273.25,935.23 L1264.21,943.95 L1255.47,952.85 L1247.02,961.93 L1238.87,971.18 L1231.02,980.61 L1223.46,990.22 L1216.2,1000 L1209.23,1009.96 L1202.56,1020.1 L1196.18,1030.42 L1190.1,1040.91 L1184.32,1051.58 L1178.83,1062.43 L1173.64,1073.45 L1168.75,1084.66 L1164.15,1096.03 L1159.84,1107.59 L1155.84,1119.32 L1152.13,1131.23 L1148.71,1143.32 L1145.59,1155.58 L1142.77,1168.03 L1140.24,1180.64 L1138.01,1193.44 L1136.07,1206.41 L1134.43,1219.56 L1133.09,1232.89 L1132.04,1246.39 L1131.28,1260.07 L1130.83,1273.93 L1132.89,1273.97 L1134.94,1273.99 L1137,1274 L1137.15,1260.14 L1137.62,1246.47 L1138.39,1232.99 L1139.47,1219.69 L1140.85,1206.57 L1142.55,1193.64 L1144.55,1180.9 L1146.87,1168.34 L1149.49,1155.97 L1152.41,1143.78 L1155.65,1131.78 L1159.2,1119.97 L1163.05,1108.34 L1167.21,1096.9 L1171.68,1085.64 L1176.46,1074.57 L1181.55,1063.68 L1186.94,1052.98 L1192.64,1042.47 L1198.66,1032.14 L1204.98,1021.99 L1211.6,1012.04 L1218.54,1002.26 L1225.79,992.68 L1233.34,983.28 L1241.2,974.06 L1249.37,965.03 L1257.85,956.19 L1266.63,947.53 L1275.73,939.06 L1285.13,930.77 L1294.84,922.67 L1304.86,914.76 L1315.19,907.03 L1325.82,899.48 L1336.77,892.13 L1348.02,884.95 L1359.58,877.97 L1371.45,871.17 L1383.63,864.55 L1382.41,862.27 L1381.16,860Z" fill="#bebbdd" stroke="#bebbdd"/>
<path d="M1383.63,864.55 L1371.39,870.83 L1359.35,876.61 L1347.51,881.9 L1335.86,886.7 L1324.4,891 L1313.14,894.82 L1302.08,898.13 L1291.2,900.96 L1280.53,903.29 L1270.05,905.14 L1259.76,906.48 L1249.67,907.34 L1239.77,907.7 L1230.06,907.57 L1220.56,906.95 L1211.24,905.83 L1202.12,904.23 L1193.2,902.12 L1184.47,899.53 L1175.93,896.44 L1167.59,892.86 L1159.44,888.79 L1151.49,884.23 L1143.74,879.17 L1136.17,873.62 L1128.81,867.57 L1121.63,861.04 L1114.66,854.01 L1107.87,846.49 L1101.28,838.47 L1094.89,829.96 L1088.69,820.96 L1082.69,811.47 L1076.87,801.49 L1071.26,791.01 L1065.84,780.04 L1060.61,768.57 L1055.58,756.61 L1050.74,744.17 L1046.1,731.22 L1044.16,731.9 L1042.22,732.59 L1040.29,733.3 L1045.22,746.14 L1050.34,758.51 L1055.66,770.39 L1061.17,781.79 L1066.86,792.7 L1072.75,803.14 L1078.84,813.1 L1085.11,822.57 L1091.58,831.56 L1098.23,840.07 L1105.08,848.1 L1112.13,855.65 L1119.36,862.71 L1126.78,869.3 L1134.4,875.4 L1142.21,881.02 L1150.21,886.16 L1158.4,890.82 L1166.79,894.99 L1175.36,898.69 L1184.13,901.9 L1193.09,904.63 L1202.24,906.88 L1211.58,908.65 L1221.12,909.94 L1230.84,910.74 L1240.76,911.07 L1250.87,910.91 L1261.17,910.27 L1271.67,909.15 L1282.35,907.55 L1293.23,905.46 L1304.3,902.9 L1315.56,899.85 L1327.01,896.32 L1338.66,892.31 L1350.5,887.82 L1362.52,882.85 L1374.74,877.39 L1387.16,871.46 L1386,869.14 L1384.82,866.84Z" fill="#e17a6e" stroke="#e17a6e"/>
<path d="M1387.16,871.46 L1374.73,877.4 L1362.46,882.88 L1350.35,887.88 L1338.39,892.43 L1326.6,896.5 L1314.97,900.11 L1303.49,903.25 L1292.17,905.92 L1281.01,908.12 L1270.01,909.86 L1259.17,911.13 L1248.49,911.93 L1237.97,912.27 L1227.6,912.14 L1217.4,911.54 L1207.35,910.47 L1197.46,908.94 L1187.73,906.93 L1178.16,904.47 L1168.75,901.53 L1159.49,898.13 L1150.4,894.25 L1141.46,889.92 L1132.68,885.11 L1124.07,879.84 L1115.61,874.1 L1107.3,867.89 L1099.16,861.21 L1091.18,854.07 L1083.35,846.46 L1075.69,838.38 L1068.18,829.84 L1060.83,820.83 L1053.64,811.35 L1046.61,801.4 L1039.74,790.99 L1033.02,780.11 L1026.47,768.76 L1020.07,756.94 L1013.83,744.66 L1012.6,745.27 L1011.38,745.88 L1010.15,746.5 L1016.57,758.7 L1023.15,770.44 L1029.89,781.72 L1036.79,792.55 L1043.84,802.92 L1051.06,812.84 L1058.43,822.3 L1065.96,831.3 L1073.65,839.85 L1081.49,847.94 L1089.5,855.57 L1097.66,862.75 L1105.98,869.47 L1114.46,875.73 L1123.1,881.54 L1131.89,886.89 L1140.85,891.79 L1149.96,896.23 L1159.23,900.21 L1168.66,903.74 L1178.25,906.81 L1188,909.43 L1197.9,911.58 L1207.96,913.29 L1218.18,914.53 L1228.56,915.32 L1239.1,915.65 L1249.8,915.53 L1260.65,914.95 L1271.66,913.91 L1282.83,912.42 L1294.16,910.47 L1305.65,908.07 L1317.3,905.21 L1329.1,901.89 L1341.06,898.12 L1353.18,893.89 L1365.46,889.2 L1377.9,884.06 L1390.49,878.46 L1389.4,876.11 L1388.29,873.78Z" fill="#e17a6e" stroke="#e17a6e"/>
<path d="M1390.49,878.46 L1377.87,884.08 L1365.35,889.27 L1352.93,894.05 L1340.61,898.4 L1328.4,902.34 L1316.28,905.85 L1304.27,908.95 L1292.36,911.62 L1280.55,913.88 L1268.85,915.71 L1257.24,917.12 L1245.74,918.12 L1234.34,918.69 L1223.05,918.84 L1211.85,918.57 L1200.76,917.88 L1189.77,916.77 L1178.88,915.24 L1168.09,913.29 L1157.4,910.92 L1146.82,908.13 L1136.34,904.92 L1125.96,901.29 L1115.68,897.24 L1105.51,892.76 L1095.43,887.87 L1085.46,882.56 L1075.59,876.82 L1065.83,870.67 L1056.16,864.1 L1046.6,857.1 L1037.14,849.69 L1027.78,841.85 L1018.52,833.59 L1009.37,824.92 L1000.31,815.82 L991.36,806.3 L982.51,796.37 L973.77,786.01 L965.12,775.23 L963.51,776.5 L961.9,777.79 L960.3,779.09 L969.19,789.68 L978.17,799.86 L987.26,809.64 L996.44,819.01 L1005.73,827.98 L1015.11,836.54 L1024.59,844.69 L1034.18,852.44 L1043.86,859.78 L1053.65,866.71 L1063.53,873.23 L1073.52,879.35 L1083.6,885.06 L1093.78,890.37 L1104.07,895.27 L1114.45,899.76 L1124.93,903.84 L1135.52,907.52 L1146.2,910.79 L1156.98,913.66 L1167.87,916.12 L1178.85,918.17 L1189.93,919.81 L1201.12,921.05 L1212.4,921.88 L1223.78,922.31 L1235.27,922.33 L1246.85,921.94 L1258.53,921.14 L1270.31,919.94 L1282.2,918.33 L1294.18,916.32 L1306.26,913.89 L1318.44,911.06 L1330.73,907.83 L1343.11,904.19 L1355.59,900.14 L1368.17,895.68 L1380.85,890.82 L1393.64,885.55 L1392.61,883.18 L1391.56,880.81Z" fill="#e17a6e" stroke="#e17a6e"/>
<path d="M1393.64,885.55 L1380.84,890.83 L1368.14,895.71 L1355.51,900.21 L1342.97,904.31 L1330.51,908.02 L1318.13,911.34 L1305.83,914.27 L1293.62,916.8 L1281.49,918.95 L1269.44,920.7 L1257.48,922.06 L1245.59,923.03 L1233.79,923.61 L1222.08,923.8 L1210.44,923.6 L1198.89,923 L1187.42,922.02 L1176.03,920.64 L1164.72,918.87 L1153.5,916.71 L1142.36,914.15 L1131.3,911.21 L1120.33,907.88 L1109.44,904.15 L1098.63,900.03 L1087.9,895.52 L1077.25,890.62 L1066.69,885.33 L1056.21,879.64 L1045.81,873.57 L1035.5,867.1 L1025.26,860.24 L1015.11,852.99 L1005.05,845.35 L995.06,837.32 L985.16,828.89 L975.34,820.08 L965.6,810.87 L955.94,801.27 L946.37,791.28 L943.39,794.11 L940.45,796.99 L937.55,799.91 L947.56,809.48 L957.64,818.68 L967.8,827.5 L978.04,835.96 L988.35,844.04 L998.74,851.75 L1009.2,859.09 L1019.73,866.05 L1030.34,872.65 L1041.03,878.87 L1051.79,884.72 L1062.63,890.2 L1073.54,895.31 L1084.53,900.05 L1095.59,904.41 L1106.73,908.4 L1117.94,912.03 L1129.23,915.28 L1140.59,918.15 L1152.03,920.66 L1163.54,922.79 L1175.13,924.56 L1186.8,925.95 L1198.54,926.97 L1210.35,927.61 L1222.24,927.89 L1234.2,927.8 L1246.24,927.33 L1258.36,926.49 L1270.55,925.28 L1282.81,923.7 L1295.15,921.74 L1307.57,919.42 L1320.06,916.72 L1332.62,913.65 L1345.26,910.21 L1357.98,906.39 L1370.77,902.21 L1383.64,897.65 L1396.58,892.73 L1395.62,890.32 L1394.64,887.93Z" fill="#e17a6e" stroke="#e17a6e"/>
<path d="M1396.58,892.73 L1383.64,897.66 L1370.77,902.22 L1357.97,906.41 L1345.24,910.23 L1332.59,913.68 L1320.01,916.77 L1307.5,919.48 L1295.07,921.83 L1282.7,923.81 L1270.41,925.42 L1258.2,926.66 L1246.05,927.53 L1233.98,928.03 L1221.98,928.16 L1210.05,927.93 L1198.19,927.32 L1186.41,926.35 L1174.7,925.01 L1163.06,923.29 L1151.49,921.21 L1140,918.76 L1128.58,915.95 L1117.23,912.76 L1105.96,909.2 L1094.75,905.28 L1083.62,900.98 L1072.56,896.32 L1061.58,891.29 L1050.67,885.89 L1039.82,880.12 L1029.06,873.98 L1018.36,867.47 L1007.74,860.6 L997.19,853.35 L986.71,845.74 L976.3,837.75 L965.97,829.4 L955.71,820.68 L945.52,811.59 L935.4,802.13 L934.69,802.87 L933.98,803.62 L933.28,804.37 L943.5,813.72 L953.8,822.72 L964.17,831.36 L974.61,839.64 L985.13,847.57 L995.71,855.13 L1006.38,862.34 L1017.11,869.2 L1027.92,875.69 L1038.8,881.83 L1049.76,887.62 L1060.79,893.04 L1071.89,898.11 L1083.06,902.82 L1094.31,907.17 L1105.63,911.17 L1117.03,914.81 L1128.49,918.09 L1140.04,921.02 L1151.65,923.59 L1163.34,925.8 L1175.1,927.65 L1186.93,929.15 L1198.84,930.29 L1210.82,931.08 L1222.88,931.5 L1235,931.57 L1247.2,931.28 L1259.48,930.64 L1271.82,929.64 L1284.24,928.28 L1296.74,926.56 L1309.3,924.49 L1321.94,922.06 L1334.66,919.27 L1347.44,916.13 L1360.3,912.63 L1373.24,908.77 L1386.24,904.55 L1399.32,899.98 L1398.43,897.55 L1397.52,895.14Z" fill="#e17a6e" stroke="#e17a6e"/>
<path d="M1399.32,899.98 L1386.22,904.58 L1373.15,908.89 L1360.1,912.89 L1347.09,916.6 L1334.11,920 L1321.15,923.11 L1308.22,925.92 L1295.33,928.43 L1282.46,930.64 L1269.62,932.56 L1256.81,934.17 L1244.03,935.49 L1231.27,936.5 L1218.55,937.22 L1205.86,937.64 L1193.19,937.76 L1180.56,937.59 L1167.95,937.11 L1155.38,936.34 L1142.83,935.26 L1130.31,933.89 L1117.82,932.22 L1105.36,930.25 L1092.93,927.98 L1080.53,925.42 L1068.15,922.55 L1055.81,919.39 L1043.49,915.92 L1031.21,912.16 L1018.95,908.1 L1006.73,903.74 L994.53,899.08 L982.36,894.13 L970.22,888.87 L958.11,883.32 L946.03,877.47 L933.97,871.31 L921.95,864.86 L909.96,858.12 L897.99,851.07 L897.46,851.95 L896.94,852.84 L896.41,853.72 L908.46,860.64 L920.53,867.28 L932.64,873.63 L944.77,879.69 L956.94,885.46 L969.14,890.95 L981.36,896.16 L993.62,901.07 L1005.91,905.71 L1018.22,910.05 L1030.57,914.11 L1042.95,917.88 L1055.36,921.37 L1067.8,924.57 L1080.27,927.48 L1092.77,930.11 L1105.3,932.45 L1117.86,934.51 L1130.45,936.28 L1143.07,937.76 L1155.72,938.95 L1168.4,939.87 L1181.11,940.49 L1193.86,940.83 L1206.63,940.88 L1219.43,940.64 L1232.27,940.12 L1245.13,939.32 L1258.02,938.22 L1270.95,936.84 L1283.9,935.18 L1296.89,933.23 L1309.9,930.99 L1322.95,928.47 L1336.03,925.66 L1349.13,922.56 L1362.27,919.18 L1375.44,915.51 L1388.63,911.55 L1401.86,907.31 L1401.04,904.86 L1400.19,902.42Z" fill="#e17a6e" stroke="#e17a6e"/>
<path d="M1401.86,907.31 L1388.63,911.55 L1375.43,915.52 L1362.25,919.21 L1349.1,922.61 L1335.98,925.74 L1322.88,928.59 L1309.81,931.15 L1296.77,933.44 L1283.75,935.45 L1270.76,937.18 L1257.79,938.63 L1244.85,939.8 L1231.94,940.69 L1219.06,941.3 L1206.2,941.63 L1193.37,941.68 L1180.56,941.46 L1167.78,940.95 L1155.03,940.16 L1142.3,939.1 L1129.6,937.75 L1116.93,936.13 L1104.28,934.22 L1091.66,932.04 L1079.07,929.57 L1066.5,926.83 L1053.96,923.81 L1041.45,920.51 L1028.96,916.92 L1016.5,913.06 L1004.06,908.92 L991.66,904.5 L979.28,899.8 L966.92,894.82 L954.59,889.57 L942.29,884.03 L930.01,878.21 L917.77,872.11 L905.54,865.74 L893.35,859.08 L892.68,860.28 L892.02,861.48 L891.37,862.69 L903.66,869.17 L915.99,875.39 L928.34,881.34 L940.71,887.02 L953.11,892.44 L965.54,897.6 L978,902.49 L990.48,907.11 L1003,911.46 L1015.53,915.56 L1028.1,919.38 L1040.69,922.94 L1053.31,926.23 L1065.95,929.26 L1078.63,932.02 L1091.32,934.52 L1104.05,936.75 L1116.8,938.72 L1129.58,940.42 L1142.39,941.85 L1155.23,943.02 L1168.09,943.92 L1180.97,944.55 L1193.89,944.92 L1206.83,945.03 L1219.8,944.87 L1232.8,944.44 L1245.82,943.75 L1258.87,942.79 L1271.95,941.57 L1285.05,940.08 L1298.18,938.32 L1311.34,936.3 L1324.52,934.01 L1337.73,931.46 L1350.97,928.64 L1364.24,925.55 L1377.53,922.2 L1390.85,918.59 L1404.2,914.71 L1403.44,912.23 L1402.66,909.77Z" fill="#e17a6e" stroke="#e17a6e"/>
<path d="M1404.2,914.71 L1390.84,918.6 L1377.5,922.26 L1364.18,925.68 L1350.87,928.86 L1337.57,931.81 L1324.28,934.51 L1311.01,936.98 L1297.75,939.21 L1284.51,941.2 L1271.28,942.95 L1258.06,944.47 L1244.85,945.75 L1231.66,946.79 L1218.49,947.59 L1205.32,948.15 L1192.17,948.48 L1179.04,948.57 L1165.91,948.42 L1152.8,948.03 L1139.71,947.41 L1126.63,946.54 L1113.56,945.44 L1100.5,944.1 L1087.46,942.52 L1074.43,940.71 L1061.42,938.65 L1048.42,936.36 L1035.43,933.83 L1022.46,931.06 L1009.5,928.06 L996.55,924.81 L983.62,921.33 L970.7,917.61 L957.79,913.66 L944.9,909.46 L932.02,905.03 L919.15,900.36 L906.3,895.45 L893.46,890.3 L880.64,884.91 L880.1,886.18 L879.57,887.44 L879.04,888.71 L891.95,893.91 L904.87,898.89 L917.8,903.64 L930.75,908.17 L943.71,912.48 L956.68,916.56 L969.67,920.42 L982.68,924.06 L995.7,927.47 L1008.73,930.66 L1021.78,933.62 L1034.84,936.36 L1047.92,938.88 L1061,941.17 L1074.11,943.24 L1087.23,945.08 L1100.36,946.7 L1113.51,948.1 L1126.67,949.27 L1139.84,950.22 L1153.03,950.94 L1166.23,951.44 L1179.45,951.72 L1192.68,951.77 L1205.93,951.6 L1219.19,951.21 L1232.46,950.59 L1245.75,949.74 L1259.06,948.68 L1272.37,947.39 L1285.7,945.87 L1299.05,944.13 L1312.41,942.17 L1325.78,939.99 L1339.17,937.58 L1352.57,934.94 L1365.99,932.08 L1379.42,929 L1392.87,925.7 L1406.33,922.17 L1405.64,919.67 L1404.93,917.19Z" fill="#e17a6e" stroke="#e17a6e"/>
<path d="M1406.33,922.17 L1392.87,925.7 L1379.42,929.01 L1365.98,932.1 L1352.56,934.98 L1339.15,937.63 L1325.75,940.07 L1312.36,942.29 L1298.99,944.29 L1285.63,946.07 L1272.28,947.63 L1258.94,948.97 L1245.61,950.09 L1232.3,950.99 L1219,951.67 L1205.71,952.14 L1192.44,952.38 L1179.17,952.41 L1165.92,952.22 L1152.68,951.8 L1139.46,951.17 L1126.24,950.32 L1113.04,949.25 L1099.85,947.96 L1086.67,946.45 L1073.51,944.73 L1060.35,942.78 L1047.21,940.62 L1034.09,938.23 L1020.97,935.63 L1007.86,932.8 L994.77,929.76 L981.69,926.5 L968.63,923.02 L955.57,919.32 L942.53,915.4 L929.5,911.27 L916.48,906.91 L903.48,902.33 L890.48,897.54 L877.5,892.52 L876.02,896.36 L874.59,900.22 L873.22,904.1 L886.42,908.55 L899.62,912.8 L912.83,916.86 L926.05,920.72 L939.28,924.39 L952.52,927.86 L965.77,931.13 L979.03,934.21 L992.3,937.1 L1005.58,939.79 L1018.87,942.28 L1032.16,944.58 L1045.47,946.69 L1058.78,948.59 L1072.11,950.31 L1085.44,951.83 L1098.78,953.15 L1112.13,954.28 L1125.5,955.21 L1138.87,955.95 L1152.25,956.49 L1165.64,956.83 L1179.04,956.99 L1192.44,956.94 L1205.86,956.7 L1219.29,956.27 L1232.72,955.64 L1246.17,954.81 L1259.63,953.79 L1273.09,952.58 L1286.56,951.17 L1300.05,949.56 L1313.54,947.76 L1327.04,945.76 L1340.55,943.57 L1354.07,941.18 L1367.6,938.6 L1381.14,935.82 L1394.69,932.85 L1408.25,929.68 L1407.63,927.17 L1406.99,924.66Z" fill="#e17a6e" stroke="#e17a6e"/>
<path d="M1408.25,929.68 L1394.68,932.88 L1381.11,935.95 L1367.53,938.89 L1353.95,941.7 L1340.36,944.38 L1326.76,946.93 L1313.16,949.35 L1299.55,951.64 L1285.93,953.79 L1272.31,955.82 L1258.68,957.72 L1245.05,959.49 L1231.41,961.12 L1217.76,962.63 L1204.11,964 L1190.45,965.25 L1176.78,966.37 L1163.11,967.35 L1149.43,968.2 L1135.75,968.93 L1122.05,969.52 L1108.36,969.99 L1094.65,970.32 L1080.94,970.52 L1067.23,970.59 L1053.51,970.54 L1039.78,970.35 L1026.04,970.03 L1012.3,969.58 L998.55,969 L984.8,968.29 L971.04,967.45 L957.27,966.48 L943.5,965.38 L929.72,964.15 L915.94,962.79 L902.15,961.29 L888.35,959.67 L874.54,957.92 L860.73,956.03 L860.55,957.39 L860.36,958.75 L860.19,960.11 L874.03,961.8 L887.86,963.37 L901.69,964.83 L915.51,966.16 L929.33,967.39 L943.15,968.5 L956.96,969.49 L970.76,970.36 L984.56,971.12 L998.35,971.77 L1012.14,972.3 L1025.93,972.71 L1039.71,973 L1053.48,973.19 L1067.26,973.25 L1081.02,973.2 L1094.78,973.03 L1108.54,972.75 L1122.29,972.35 L1136.04,971.84 L1149.78,971.21 L1163.52,970.46 L1177.25,969.6 L1190.97,968.63 L1204.7,967.53 L1218.41,966.33 L1232.13,965 L1245.84,963.56 L1259.54,962 L1273.24,960.33 L1286.93,958.55 L1300.62,956.64 L1314.3,954.62 L1327.98,952.49 L1341.66,950.24 L1355.33,947.87 L1368.99,945.39 L1382.65,942.79 L1396.31,940.08 L1409.96,937.25 L1409.41,934.72 L1408.84,932.2Z" fill="#e17a6e" stroke="#e17a6e"/>
<path d="M1409.96,937.25 L1396.43,940.27 L1383.16,943.55 L1370.14,947.1 L1357.36,950.91 L1344.84,954.99 L1332.56,959.33 L1320.54,963.94 L1308.76,968.81 L1297.24,973.94 L1285.96,979.34 L1274.94,985 L1264.16,990.93 L1253.63,997.12 L1243.36,1003.58 L1233.33,1010.3 L1223.55,1017.28 L1214.02,1024.53 L1204.75,1032.05 L1195.72,1039.83 L1186.94,1047.87 L1178.41,1056.17 L1170.13,1064.75 L1162.1,1073.58 L1154.32,1082.68 L1146.79,1092.04 L1139.51,1101.67 L1132.48,1111.57 L1125.7,1121.72 L1119.16,1132.14 L1112.88,1142.83 L1106.85,1153.78 L1101.07,1164.99 L1095.54,1176.47 L1090.25,1188.22 L1085.22,1200.22 L1080.43,1212.49 L1075.9,1225.03 L1071.62,1237.83 L1067.58,1250.9 L1063.8,1264.23 L1067.77,1265.28 L1071.77,1266.27 L1075.78,1267.2 L1078.97,1253.73 L1082.43,1240.53 L1086.16,1227.62 L1090.15,1214.98 L1094.41,1202.62 L1098.94,1190.54 L1103.74,1178.73 L1108.8,1167.2 L1114.12,1155.95 L1119.72,1144.98 L1125.58,1134.28 L1131.7,1123.86 L1138.09,1113.72 L1144.75,1103.86 L1151.68,1094.28 L1158.87,1084.97 L1166.33,1075.94 L1174.06,1067.19 L1182.05,1058.71 L1190.31,1050.51 L1198.83,1042.59 L1207.63,1034.95 L1216.68,1027.59 L1226.01,1020.5 L1235.6,1013.69 L1245.46,1007.16 L1255.58,1000.9 L1265.97,994.93 L1276.63,989.23 L1287.56,983.81 L1298.75,978.66 L1310.2,973.8 L1321.93,969.21 L1333.92,964.9 L1346.17,960.86 L1358.7,957.11 L1371.49,953.63 L1384.54,950.43 L1397.87,947.5 L1411.46,944.86 L1410.98,942.31 L1410.48,939.78Z" fill="#e17a6e" stroke="#e17a6e"/>
<path d="M1411.46,944.86 L1397.9,947.16 L1384.67,949.05 L1371.76,950.53 L1359.19,951.6 L1346.94,952.25 L1335.02,952.5 L1323.42,952.33 L1312.16,951.76 L1301.22,950.77 L1290.61,949.37 L1280.33,947.56 L1270.37,945.34 L1260.75,942.71 L1251.45,939.67 L1242.47,936.22 L1233.83,932.35 L1225.51,928.08 L1217.52,923.39 L1209.86,918.29 L1202.53,912.78 L1195.52,906.86 L1188.84,900.53 L1182.49,893.79 L1176.47,886.64 L1170.77,879.07 L1165.41,871.1 L1160.37,862.71 L1155.65,853.91 L1151.27,844.7 L1147.21,835.08 L1143.48,825.05 L1140.08,814.61 L1137.01,803.76 L1134.26,792.49 L1131.84,780.82 L1129.75,768.73 L1127.98,756.23 L1126.55,743.32 L1125.44,730 L1124.66,716.27 L1120.55,716.49 L1116.44,716.76 L1112.34,717.09 L1113.73,730.79 L1115.44,744.08 L1117.45,756.98 L1119.78,769.47 L1122.43,781.56 L1125.39,793.26 L1128.66,804.55 L1132.25,815.44 L1136.15,825.93 L1140.36,836.02 L1144.89,845.71 L1149.73,855 L1154.89,863.89 L1160.36,872.38 L1166.14,880.47 L1172.24,888.15 L1178.65,895.44 L1185.38,902.33 L1192.42,908.81 L1199.77,914.9 L1207.44,920.58 L1215.42,925.87 L1223.71,930.75 L1232.32,935.24 L1241.25,939.32 L1250.48,943 L1260.03,946.28 L1269.9,949.17 L1280.07,951.65 L1290.57,953.73 L1301.37,955.41 L1312.49,956.69 L1323.92,957.57 L1335.67,958.04 L1347.73,958.12 L1360.11,957.8 L1372.8,957.08 L1385.8,955.95 L1399.11,954.43 L1412.74,952.5 L1412.34,949.95 L1411.91,947.4Z" fill="#8bb0d6" stroke="#8bb0d6"/>
<path d="M1412.74,952.5 L1399.11,954.43 L1385.77,955.96 L1372.73,957.08 L1359.98,957.81 L1347.54,958.14 L1335.39,958.07 L1323.55,957.61 L1312,956.74 L1300.75,955.48 L1289.8,953.81 L1279.15,951.75 L1268.79,949.29 L1258.74,946.43 L1248.98,943.17 L1239.52,939.51 L1230.36,935.45 L1221.5,931 L1212.94,926.14 L1204.67,920.89 L1196.7,915.24 L1189.04,909.19 L1181.67,902.74 L1174.6,895.89 L1167.83,888.64 L1161.35,881 L1155.18,872.95 L1149.3,864.51 L1143.72,855.67 L1138.44,846.43 L1133.46,836.79 L1128.78,826.75 L1124.4,816.31 L1120.31,805.47 L1116.52,794.24 L1113.04,782.61 L1109.85,770.57 L1106.96,758.14 L1104.36,745.31 L1102.07,732.08 L1100.07,718.45 L1098.03,718.73 L1096,719.03 L1093.96,719.34 L1096.26,732.93 L1098.85,746.13 L1101.73,758.94 L1104.91,771.37 L1108.38,783.4 L1112.14,795.05 L1116.19,806.31 L1120.53,817.18 L1125.17,827.67 L1130.09,837.76 L1135.31,847.47 L1140.83,856.79 L1146.63,865.72 L1152.73,874.27 L1159.12,882.42 L1165.8,890.19 L1172.77,897.57 L1180.04,904.56 L1187.6,911.17 L1195.45,917.38 L1203.59,923.21 L1212.02,928.65 L1220.75,933.7 L1229.77,938.36 L1239.08,942.64 L1248.68,946.52 L1258.58,950.02 L1268.77,953.13 L1279.25,955.85 L1290.02,958.19 L1301.09,960.13 L1312.44,961.69 L1324.09,962.86 L1336.03,963.64 L1348.27,964.04 L1360.79,964.04 L1373.61,963.66 L1386.72,962.89 L1400.12,961.73 L1413.82,960.19 L1413.48,957.62 L1413.13,955.06Z" fill="#8bb0d6" stroke="#8bb0d6"/>
<path d="M1413.82,960.19 L1400.12,961.73 L1386.71,962.89 L1373.58,963.67 L1360.73,964.05 L1348.17,964.05 L1335.9,963.67 L1323.91,962.89 L1312.2,961.73 L1300.78,960.19 L1289.64,958.25 L1278.79,955.93 L1268.22,953.22 L1257.94,950.13 L1247.94,946.65 L1238.22,942.78 L1228.8,938.52 L1219.65,933.88 L1210.79,928.85 L1202.21,923.44 L1193.92,917.64 L1185.92,911.45 L1178.2,904.87 L1170.76,897.91 L1163.61,890.56 L1156.74,882.82 L1150.16,874.7 L1143.86,866.19 L1137.84,857.29 L1132.11,848.01 L1126.67,838.34 L1121.51,828.28 L1116.63,817.84 L1112.04,807.01 L1107.74,795.79 L1103.72,784.18 L1099.98,772.19 L1096.53,759.81 L1093.36,747.05 L1090.48,733.9 L1087.88,720.36 L1083.83,721.11 L1079.8,721.93 L1075.78,722.8 L1078.97,736.22 L1082.44,749.27 L1086.18,761.95 L1090.19,774.25 L1094.46,786.17 L1099.01,797.73 L1103.83,808.9 L1108.92,819.71 L1114.29,830.14 L1119.92,840.19 L1125.82,849.88 L1131.99,859.18 L1138.44,868.12 L1145.15,876.68 L1152.13,884.86 L1159.39,892.67 L1166.91,900.11 L1174.71,907.17 L1182.78,913.86 L1191.11,920.17 L1199.72,926.11 L1208.6,931.68 L1217.75,936.87 L1227.17,941.69 L1236.86,946.13 L1246.82,950.2 L1257.05,953.9 L1267.55,957.22 L1278.33,960.17 L1289.37,962.74 L1300.68,964.94 L1312.27,966.76 L1324.12,968.22 L1336.25,969.29 L1348.64,969.99 L1361.31,970.32 L1374.25,970.28 L1387.45,969.86 L1400.93,969.06 L1414.68,967.89 L1414.42,965.32 L1414.13,962.75Z" fill="#8bb0d6" stroke="#8bb0d6"/>
<path d="M1414.68,967.89 L1400.93,969.06 L1387.45,969.86 L1374.25,970.28 L1361.31,970.32 L1348.64,969.99 L1336.25,969.29 L1324.12,968.22 L1312.27,966.76 L1300.68,964.94 L1289.37,962.74 L1278.33,960.17 L1267.55,957.22 L1257.05,953.9 L1246.82,950.2 L1236.86,946.13 L1227.17,941.69 L1217.75,936.87 L1208.6,931.68 L1199.72,926.11 L1191.11,920.17 L1182.78,913.86 L1174.71,907.17 L1166.91,900.11 L1159.39,892.67 L1152.13,884.86 L1145.15,876.68 L1138.44,868.12 L1131.99,859.18 L1125.82,849.88 L1119.92,840.19 L1114.29,830.14 L1108.92,819.71 L1103.83,808.9 L1099.01,797.73 L1094.46,786.17 L1090.19,774.25 L1086.18,761.95 L1082.44,749.27 L1078.97,736.22 L1075.78,722.8 L1071.77,723.73 L1067.77,724.72 L1063.8,725.77 L1067.58,739.06 L1071.63,751.98 L1075.93,764.54 L1080.49,776.73 L1085.3,788.57 L1090.37,800.05 L1095.7,811.17 L1101.28,821.92 L1107.12,832.32 L1113.22,842.35 L1119.57,852.02 L1126.18,861.34 L1133.04,870.29 L1140.17,878.88 L1147.54,887.11 L1155.18,894.98 L1163.07,902.49 L1171.22,909.64 L1179.62,916.42 L1188.28,922.85 L1197.2,928.92 L1206.37,934.62 L1215.8,939.96 L1225.48,944.95 L1235.43,949.57 L1245.63,953.83 L1256.08,957.73 L1266.79,961.28 L1277.76,964.46 L1288.98,967.27 L1300.46,969.73 L1312.2,971.83 L1324.19,973.57 L1336.44,974.94 L1348.95,975.96 L1361.71,976.61 L1374.73,976.91 L1388.01,976.84 L1401.54,976.41 L1415.33,975.62 L1415.13,973.05 L1414.92,970.47Z" fill="#8bb0d6" stroke="#8bb0d6"/>
<path d="M1415.33,975.62 L1401.54,976.41 L1388.01,976.84 L1374.73,976.91 L1361.71,976.61 L1348.95,975.96 L1336.44,974.94 L1324.19,973.57 L1312.2,971.83 L1300.46,969.73 L1288.98,967.27 L1277.76,964.46 L1266.79,961.28 L1256.08,957.73 L1245.63,953.83 L1235.43,949.57 L1225.48,944.95 L1215.8,939.96 L1206.37,934.62 L1197.2,928.92 L1188.28,922.85 L1179.62,916.42 L1171.22,909.64 L1163.07,902.49 L1155.18,894.98 L1147.54,887.11 L1140.17,878.88 L1133.04,870.29 L1126.18,861.34 L1119.57,852.02 L1113.22,842.35 L1107.12,832.32 L1101.28,821.92 L1095.7,811.17 L1090.37,800.05 L1085.3,788.57 L1080.49,776.73 L1075.93,764.54 L1071.63,751.98 L1067.58,739.06 L1063.8,725.77 L1061.81,726.32 L1059.83,726.88 L1057.86,727.46 L1061.94,740.66 L1066.27,753.52 L1070.85,766.02 L1075.68,778.18 L1080.76,789.98 L1086.09,801.44 L1091.67,812.55 L1097.5,823.31 L1103.58,833.72 L1109.91,843.78 L1116.48,853.49 L1123.31,862.86 L1130.38,871.87 L1137.71,880.54 L1145.29,888.86 L1153.11,896.82 L1161.18,904.44 L1169.51,911.71 L1178.08,918.63 L1186.9,925.21 L1195.98,931.43 L1205.3,937.3 L1214.87,942.83 L1224.69,948.01 L1234.76,952.83 L1245.08,957.31 L1255.65,961.44 L1266.47,965.22 L1277.54,968.65 L1288.85,971.74 L1300.42,974.47 L1312.24,976.85 L1324.31,978.89 L1336.62,980.58 L1349.19,981.91 L1362,982.9 L1375.07,983.54 L1388.38,983.83 L1401.94,983.78 L1415.76,983.37 L1415.64,980.79 L1415.49,978.2Z" fill="#8bb0d6" stroke="#8bb0d6"/>
<path d="M1415.76,983.37 L1401.88,983.81 L1388.14,983.96 L1374.52,983.83 L1361.03,983.42 L1347.66,982.72 L1334.43,981.74 L1321.32,980.47 L1308.34,978.92 L1295.48,977.08 L1282.76,974.96 L1270.16,972.56 L1257.69,969.87 L1245.35,966.89 L1233.13,963.64 L1221.04,960.09 L1209.08,956.27 L1197.25,952.15 L1185.54,947.76 L1173.97,943.08 L1162.52,938.11 L1151.19,932.86 L1140,927.33 L1128.93,921.51 L1117.99,915.41 L1107.18,909.02 L1096.49,902.35 L1085.94,895.4 L1075.51,888.16 L1065.2,880.63 L1055.03,872.82 L1044.98,864.73 L1035.06,856.35 L1025.27,847.69 L1015.61,838.74 L1006.07,829.51 L996.66,819.99 L987.38,810.19 L978.23,800.11 L969.2,789.74 L960.3,779.09 L958.72,780.39 L957.14,781.72 L955.57,783.05 L964.7,793.51 L973.96,803.7 L983.33,813.63 L992.83,823.28 L1002.45,832.66 L1012.19,841.78 L1022.06,850.62 L1032.04,859.2 L1042.15,867.5 L1052.38,875.53 L1062.73,883.3 L1073.21,890.79 L1083.8,898.02 L1094.52,904.97 L1105.36,911.66 L1116.32,918.08 L1127.4,924.22 L1138.61,930.1 L1149.94,935.71 L1161.39,941.04 L1172.96,946.11 L1184.65,950.91 L1196.46,955.43 L1208.4,959.69 L1220.46,963.68 L1232.64,967.4 L1244.94,970.85 L1257.37,974.02 L1269.91,976.93 L1282.58,979.57 L1295.37,981.94 L1308.29,984.04 L1321.32,985.87 L1334.48,987.43 L1347.75,988.72 L1361.15,989.74 L1374.68,990.49 L1388.32,990.97 L1402.09,991.18 L1415.97,991.12 L1415.93,988.54 L1415.85,985.95Z" fill="#8bb0d6" stroke="#8bb0d6"/>
<path d="M1415.97,991.12 L1402.05,991.22 L1388.19,991.12 L1374.39,990.82 L1360.64,990.32 L1346.95,989.63 L1333.32,988.74 L1319.74,987.66 L1306.22,986.38 L1292.76,984.9 L1279.36,983.22 L1266.02,981.35 L1252.73,979.28 L1239.5,977.02 L1226.33,974.56 L1213.21,971.9 L1200.15,969.04 L1187.15,965.99 L1174.21,962.74 L1161.33,959.3 L1148.5,955.65 L1135.73,951.82 L1123.02,947.78 L1110.36,943.55 L1097.76,939.12 L1085.22,934.49 L1072.74,929.67 L1060.32,924.65 L1047.95,919.43 L1035.64,914.02 L1023.39,908.41 L1011.19,902.61 L999.05,896.6 L986.97,890.4 L974.95,884.01 L962.99,877.41 L951.08,870.62 L939.23,863.64 L927.44,856.45 L915.7,849.07 L904.02,841.5 L903.27,842.64 L902.53,843.79 L901.79,844.95 L913.57,852.36 L925.42,859.59 L937.31,866.63 L949.27,873.5 L961.27,880.18 L973.33,886.68 L985.45,892.99 L997.62,899.12 L1009.85,905.07 L1022.13,910.84 L1034.46,916.42 L1046.85,921.82 L1059.3,927.04 L1071.8,932.08 L1084.35,936.93 L1096.96,941.6 L1109.62,946.09 L1122.34,950.39 L1135.11,954.52 L1147.94,958.46 L1160.82,962.21 L1173.76,965.79 L1186.75,969.18 L1199.8,972.39 L1212.9,975.41 L1226.05,978.26 L1239.26,980.92 L1252.53,983.4 L1265.85,985.69 L1279.22,987.8 L1292.65,989.73 L1306.13,991.48 L1319.67,993.04 L1333.27,994.43 L1346.91,995.62 L1360.62,996.64 L1374.37,997.47 L1388.19,998.12 L1402.05,998.59 L1415.97,998.88 L1416,996.29 L1416,993.71Z" fill="#8bb0d6" stroke="#8bb0d6"/>
<path d="M1415.97,998.88 L1402.03,998.65 L1388.09,998.36 L1374.16,998.01 L1360.23,997.59 L1346.32,997.11 L1332.4,996.56 L1318.5,995.95 L1304.6,995.27 L1290.71,994.54 L1276.83,993.73 L1262.95,992.86 L1249.08,991.93 L1235.22,990.94 L1221.36,989.88 L1207.51,988.75 L1193.67,987.57 L1179.84,986.31 L1166.01,985 L1152.19,983.62 L1138.37,982.17 L1124.56,980.66 L1110.76,979.09 L1096.97,977.45 L1083.18,975.75 L1069.4,973.99 L1055.63,972.16 L1041.86,970.27 L1028.1,968.31 L1014.35,966.29 L1000.6,964.2 L986.86,962.05 L973.13,959.84 L959.4,957.56 L945.68,955.21 L931.97,952.81 L918.26,950.34 L904.57,947.8 L890.87,945.2 L877.19,942.54 L863.51,939.81 L862.73,943.85 L862,947.9 L861.34,951.96 L875.12,954.1 L888.91,956.19 L902.71,958.24 L916.5,960.26 L930.3,962.23 L944.11,964.17 L957.92,966.07 L971.73,967.92 L985.54,969.74 L999.36,971.52 L1013.19,973.26 L1027.01,974.96 L1040.85,976.62 L1054.68,978.24 L1068.52,979.82 L1082.36,981.37 L1096.21,982.87 L1110.06,984.34 L1123.92,985.76 L1137.77,987.15 L1151.64,988.5 L1165.5,989.8 L1179.37,991.07 L1193.25,992.3 L1207.12,993.49 L1221.01,994.64 L1234.89,995.75 L1248.78,996.83 L1262.68,997.86 L1276.57,998.85 L1290.47,999.81 L1304.38,1000.72 L1318.29,1001.6 L1332.2,1002.44 L1346.12,1003.23 L1360.04,1003.99 L1373.96,1004.71 L1387.89,1005.39 L1401.82,1006.03 L1415.76,1006.63 L1415.85,1004.05 L1415.93,1001.46Z" fill="#8bb0d6" stroke="#8bb0d6"/>
<path d="M1415.76,1006.63 L1401.83,1006.11 L1387.91,1005.7 L1374.01,1005.4 L1360.12,1005.21 L1346.24,1005.14 L1332.38,1005.18 L1318.54,1005.34 L1304.7,1005.61 L1290.88,1005.99 L1277.08,1006.49 L1263.29,1007.1 L1249.51,1007.82 L1235.75,1008.66 L1222,1009.61 L1208.27,1010.67 L1194.55,1011.85 L1180.84,1013.14 L1167.15,1014.54 L1153.47,1016.06 L1139.8,1017.69 L1126.15,1019.44 L1112.52,1021.3 L1098.9,1023.27 L1085.29,1025.35 L1071.69,1027.55 L1058.11,1029.86 L1044.55,1032.29 L1030.99,1034.83 L1017.46,1037.48 L1003.93,1040.24 L990.42,1043.12 L976.92,1046.12 L963.44,1049.22 L949.97,1052.44 L936.52,1055.77 L923.08,1059.22 L909.65,1062.78 L896.24,1066.45 L882.84,1070.24 L869.46,1074.14 L870.05,1076.11 L870.66,1078.08 L871.28,1080.04 L884.57,1075.85 L897.88,1071.8 L911.21,1067.87 L924.55,1064.08 L937.9,1060.41 L951.28,1056.88 L964.67,1053.47 L978.07,1050.2 L991.49,1047.06 L1004.93,1044.05 L1018.38,1041.16 L1031.84,1038.41 L1045.33,1035.79 L1058.83,1033.3 L1072.34,1030.94 L1085.87,1028.71 L1099.42,1026.62 L1112.98,1024.65 L1126.56,1022.81 L1140.15,1021.1 L1153.76,1019.53 L1167.38,1018.08 L1181.03,1016.77 L1194.68,1015.58 L1208.35,1014.53 L1222.04,1013.6 L1235.75,1012.81 L1249.46,1012.15 L1263.2,1011.62 L1276.95,1011.21 L1290.72,1010.94 L1304.5,1010.8 L1318.3,1010.79 L1332.11,1010.91 L1345.94,1011.16 L1359.79,1011.55 L1373.65,1012.06 L1387.53,1012.7 L1401.42,1013.47 L1415.33,1014.38 L1415.49,1011.8 L1415.64,1009.21Z" fill="#8bb0d6" stroke="#8bb0d6"/>
<path d="M1415.33,1014.38 L1401.47,1013.55 L1387.72,1013 L1374.09,1012.74 L1360.57,1012.76 L1347.16,1013.06 L1333.87,1013.65 L1320.69,1014.51 L1307.62,1015.66 L1294.67,1017.09 L1281.83,1018.81 L1269.11,1020.8 L1256.5,1023.08 L1244,1025.64 L1231.61,1028.48 L1219.34,1031.61 L1207.18,1035.02 L1195.14,1038.71 L1183.2,1042.68 L1171.39,1046.93 L1159.68,1051.47 L1148.09,1056.29 L1136.61,1061.39 L1125.25,1066.78 L1114,1072.44 L1102.86,1078.39 L1091.83,1084.62 L1080.92,1091.14 L1070.12,1097.93 L1059.44,1105.01 L1048.87,1112.37 L1038.41,1120.02 L1028.07,1127.94 L1017.84,1136.15 L1007.72,1144.64 L997.72,1153.41 L987.82,1162.47 L978.05,1171.8 L968.38,1181.42 L958.83,1191.33 L949.4,1201.51 L950.41,1202.43 L951.44,1203.34 L952.46,1204.25 L961.75,1193.94 L971.15,1183.92 L980.67,1174.2 L990.3,1164.77 L1000.05,1155.63 L1009.92,1146.8 L1019.9,1138.25 L1030,1130.01 L1040.22,1122.06 L1050.55,1114.4 L1061,1107.04 L1071.57,1099.97 L1082.25,1093.2 L1093.05,1086.73 L1103.96,1080.55 L1115,1074.67 L1126.14,1069.08 L1137.41,1063.79 L1148.79,1058.79 L1160.29,1054.09 L1171.9,1049.68 L1183.63,1045.57 L1195.48,1041.76 L1207.44,1038.24 L1219.52,1035.01 L1231.71,1032.09 L1244.03,1029.45 L1256.45,1027.11 L1269,1025.07 L1281.66,1023.33 L1294.44,1021.87 L1307.33,1020.72 L1320.34,1019.86 L1333.47,1019.29 L1346.72,1019.02 L1360.08,1019.05 L1373.55,1019.37 L1387.15,1019.99 L1400.85,1020.9 L1414.68,1022.11 L1414.92,1019.53 L1415.13,1016.95Z" fill="#8bb0d6" stroke="#8bb0d6"/>
<path d="M1414.68,1022.11 L1400.89,1020.61 L1387.28,1018.85 L1373.86,1016.81 L1360.62,1014.49 L1347.56,1011.9 L1334.69,1009.04 L1322,1005.9 L1309.5,1002.48 L1297.18,998.8 L1285.04,994.83 L1273.09,990.6 L1261.32,986.09 L1249.73,981.3 L1238.33,976.24 L1227.12,970.91 L1216.09,965.3 L1205.24,959.42 L1194.57,953.26 L1184.09,946.83 L1173.8,940.13 L1163.68,933.15 L1153.75,925.89 L1144.01,918.36 L1134.45,910.56 L1125.07,902.48 L1115.88,894.13 L1106.87,885.51 L1098.05,876.61 L1089.41,867.43 L1080.95,857.98 L1072.68,848.26 L1064.59,838.26 L1056.68,827.99 L1048.96,817.44 L1041.43,806.62 L1034.07,795.53 L1026.9,784.16 L1019.92,772.51 L1013.12,760.59 L1006.5,748.4 L1004.69,749.37 L1002.88,750.35 L1001.08,751.35 L1007.96,763.4 L1015.02,775.19 L1022.26,786.72 L1029.67,797.99 L1037.26,809 L1045.03,819.74 L1052.97,830.23 L1061.08,840.46 L1069.38,850.42 L1077.85,860.12 L1086.49,869.56 L1095.31,878.74 L1104.31,887.66 L1113.48,896.32 L1122.83,904.72 L1132.36,912.86 L1142.06,920.73 L1151.94,928.35 L1161.99,935.7 L1172.22,942.79 L1182.63,949.62 L1193.21,956.19 L1203.97,962.5 L1214.91,968.55 L1226.02,974.34 L1237.31,979.86 L1248.77,985.13 L1260.41,990.13 L1272.22,994.87 L1284.22,999.35 L1296.38,1003.58 L1308.73,1007.53 L1321.25,1011.23 L1333.94,1014.67 L1346.82,1017.85 L1359.86,1020.76 L1373.09,1023.42 L1386.49,1025.81 L1400.07,1027.94 L1413.82,1029.81 L1414.13,1027.25 L1414.42,1024.68Z" fill="#eab267" stroke="#eab267"/>
<path d="M1413.82,1029.81 L1400,1028 L1386.24,1026.04 L1372.53,1023.94 L1358.87,1021.7 L1345.26,1019.31 L1331.71,1016.78 L1318.21,1014.1 L1304.76,1011.28 L1291.36,1008.31 L1278.01,1005.2 L1264.72,1001.95 L1251.47,998.55 L1238.28,995.01 L1225.14,991.33 L1212.06,987.5 L1199.02,983.52 L1186.04,979.41 L1173.11,975.15 L1160.23,970.74 L1147.4,966.19 L1134.63,961.5 L1121.9,956.66 L1109.23,951.68 L1096.61,946.55 L1084.05,941.28 L1071.53,935.87 L1059.07,930.31 L1046.66,924.61 L1034.3,918.76 L1021.99,912.77 L1009.74,906.64 L997.54,900.36 L985.39,893.94 L973.29,887.37 L961.24,880.66 L949.24,873.81 L937.3,866.81 L925.41,859.67 L913.57,852.38 L901.79,844.95 L901.05,846.11 L900.32,847.27 L899.6,848.43 L911.49,855.7 L923.43,862.83 L935.42,869.83 L947.46,876.71 L959.55,883.45 L971.68,890.06 L983.86,896.55 L996.09,902.9 L1008.37,909.12 L1020.7,915.21 L1033.07,921.18 L1045.49,927.01 L1057.96,932.71 L1070.48,938.28 L1083.04,943.72 L1095.65,949.04 L1108.32,954.22 L1121.02,959.27 L1133.78,964.19 L1146.59,968.98 L1159.44,973.64 L1172.34,978.18 L1185.29,982.58 L1198.28,986.85 L1211.33,990.99 L1224.42,995 L1237.56,998.88 L1250.75,1002.63 L1263.98,1006.25 L1277.27,1009.74 L1290.6,1013.1 L1303.98,1016.33 L1317.41,1019.44 L1330.88,1022.41 L1344.41,1025.25 L1357.98,1027.96 L1371.6,1030.54 L1385.27,1032.99 L1398.98,1035.31 L1412.74,1037.5 L1413.13,1034.94 L1413.48,1032.38Z" fill="#eab267" stroke="#eab267"/>
<path d="M1412.74,1037.5 L1398.96,1035.41 L1385.16,1033.39 L1371.37,1031.44 L1357.57,1029.57 L1343.76,1027.76 L1329.96,1026.03 L1316.15,1024.36 L1302.33,1022.77 L1288.51,1021.25 L1274.69,1019.8 L1260.87,1018.43 L1247.04,1017.12 L1233.21,1015.88 L1219.37,1014.72 L1205.53,1013.62 L1191.69,1012.6 L1177.84,1011.65 L1163.99,1010.77 L1150.14,1009.96 L1136.28,1009.22 L1122.42,1008.56 L1108.55,1007.96 L1094.68,1007.44 L1080.81,1006.98 L1066.94,1006.6 L1053.06,1006.29 L1039.18,1006.05 L1025.29,1005.88 L1011.4,1005.78 L997.51,1005.75 L983.61,1005.8 L969.71,1005.91 L955.8,1006.1 L941.9,1006.36 L927.98,1006.69 L914.07,1007.09 L900.15,1007.56 L886.23,1008.1 L872.3,1008.71 L858.37,1009.4 L858.45,1010.77 L858.53,1012.14 L858.61,1013.5 L872.53,1012.62 L886.44,1011.83 L900.35,1011.11 L914.25,1010.49 L928.15,1009.95 L942.04,1009.5 L955.93,1009.13 L969.81,1008.85 L983.69,1008.65 L997.56,1008.54 L1011.43,1008.52 L1025.29,1008.58 L1039.15,1008.73 L1053,1008.96 L1066.85,1009.28 L1080.69,1009.68 L1094.53,1010.18 L1108.37,1010.75 L1122.19,1011.41 L1136.02,1012.16 L1149.84,1013 L1163.65,1013.92 L1177.46,1014.92 L1191.26,1016.01 L1205.06,1017.19 L1218.86,1018.45 L1232.64,1019.8 L1246.43,1021.24 L1260.21,1022.76 L1273.98,1024.36 L1287.75,1026.05 L1301.52,1027.83 L1315.28,1029.7 L1329.03,1031.65 L1342.78,1033.68 L1356.53,1035.8 L1370.27,1038.01 L1384,1040.3 L1397.73,1042.68 L1411.46,1045.14 L1411.91,1042.6 L1412.34,1040.05Z" fill="#eab267" stroke="#eab267"/>
<path d="M1411.46,1045.14 L1397.73,1042.69 L1384.01,1040.34 L1370.28,1038.1 L1356.54,1035.97 L1342.81,1033.94 L1329.07,1032.01 L1315.32,1030.2 L1301.58,1028.49 L1287.83,1026.88 L1274.08,1025.39 L1260.33,1024 L1246.57,1022.71 L1232.81,1021.53 L1219.05,1020.46 L1205.28,1019.49 L1191.51,1018.63 L1177.74,1017.88 L1163.97,1017.23 L1150.19,1016.69 L1136.41,1016.26 L1122.63,1015.93 L1108.84,1015.71 L1095.05,1015.59 L1081.26,1015.58 L1067.47,1015.68 L1053.67,1015.88 L1039.87,1016.19 L1026.06,1016.61 L1012.26,1017.13 L998.45,1017.76 L984.64,1018.49 L970.82,1019.33 L957,1020.28 L943.18,1021.33 L929.36,1022.49 L915.53,1023.76 L901.7,1025.13 L887.86,1026.61 L874.03,1028.2 L860.19,1029.89 L860.36,1031.25 L860.55,1032.61 L860.73,1033.97 L874.55,1032.08 L888.35,1030.31 L902.16,1028.66 L915.95,1027.14 L929.75,1025.74 L943.54,1024.45 L957.33,1023.29 L971.11,1022.25 L984.89,1021.33 L998.66,1020.53 L1012.43,1019.85 L1026.2,1019.29 L1039.96,1018.85 L1053.71,1018.54 L1067.47,1018.34 L1081.22,1018.27 L1094.96,1018.31 L1108.7,1018.48 L1122.44,1018.77 L1136.17,1019.18 L1149.9,1019.71 L1163.63,1020.36 L1177.35,1021.13 L1191.06,1022.03 L1204.77,1023.04 L1218.48,1024.17 L1232.19,1025.43 L1245.88,1026.81 L1259.58,1028.3 L1273.27,1029.92 L1286.96,1031.66 L1300.64,1033.52 L1314.32,1035.5 L1328,1037.6 L1341.67,1039.83 L1355.33,1042.17 L1368.99,1044.64 L1382.65,1047.22 L1396.31,1049.93 L1409.96,1052.75 L1410.48,1050.22 L1410.98,1047.69Z" fill="#eab267" stroke="#eab267"/>
<path d="M1409.96,1052.75 L1396.31,1049.93 L1382.65,1047.23 L1369,1044.66 L1355.34,1042.21 L1341.68,1039.89 L1328.01,1037.7 L1314.34,1035.63 L1300.67,1033.68 L1286.99,1031.87 L1273.31,1030.18 L1259.63,1028.61 L1245.94,1027.17 L1232.25,1025.86 L1218.56,1024.67 L1204.86,1023.61 L1191.16,1022.68 L1177.46,1021.87 L1163.75,1021.19 L1150.04,1020.63 L1136.32,1020.2 L1122.61,1019.89 L1108.89,1019.71 L1095.16,1019.66 L1081.44,1019.73 L1067.7,1019.93 L1053.97,1020.26 L1040.23,1020.71 L1026.49,1021.29 L1012.75,1021.99 L999,1022.82 L985.25,1023.77 L971.5,1024.85 L957.74,1026.06 L943.98,1027.39 L930.21,1028.85 L916.44,1030.44 L902.67,1032.15 L888.9,1033.98 L875.12,1035.95 L861.34,1038.04 L862,1042.1 L862.73,1046.15 L863.51,1050.19 L877.19,1047.5 L890.86,1044.97 L904.52,1042.59 L918.19,1040.35 L931.85,1038.27 L945.51,1036.34 L959.16,1034.56 L972.82,1032.93 L986.47,1031.45 L1000.12,1030.13 L1013.76,1028.95 L1027.4,1027.92 L1041.04,1027.04 L1054.68,1026.32 L1068.31,1025.74 L1081.94,1025.32 L1095.57,1025.04 L1109.2,1024.92 L1122.82,1024.95 L1136.44,1025.13 L1150.06,1025.46 L1163.67,1025.93 L1177.28,1026.56 L1190.89,1027.35 L1204.5,1028.28 L1218.1,1029.36 L1231.7,1030.59 L1245.3,1031.97 L1258.89,1033.51 L1272.48,1035.19 L1286.07,1037.03 L1299.66,1039.01 L1313.24,1041.15 L1326.82,1043.44 L1340.4,1045.87 L1353.97,1048.46 L1367.55,1051.2 L1381.12,1054.09 L1394.68,1057.13 L1408.25,1060.32 L1408.84,1057.8 L1409.41,1055.28Z" fill="#eab267" stroke="#eab267"/>
<path d="M1408.25,1060.32 L1394.68,1057.13 L1381.12,1054.09 L1367.55,1051.2 L1353.97,1048.46 L1340.4,1045.87 L1326.82,1043.44 L1313.24,1041.15 L1299.66,1039.01 L1286.07,1037.03 L1272.48,1035.19 L1258.89,1033.51 L1245.3,1031.97 L1231.7,1030.59 L1218.1,1029.36 L1204.5,1028.28 L1190.89,1027.35 L1177.28,1026.56 L1163.67,1025.93 L1150.06,1025.46 L1136.44,1025.13 L1122.82,1024.95 L1109.2,1024.92 L1095.57,1025.04 L1081.94,1025.32 L1068.31,1025.74 L1054.68,1026.32 L1041.04,1027.04 L1027.4,1027.92 L1013.76,1028.95 L1000.12,1030.13 L986.47,1031.45 L972.82,1032.93 L959.16,1034.56 L945.51,1036.34 L931.85,1038.27 L918.19,1040.35 L904.52,1042.59 L890.86,1044.97 L877.19,1047.5 L863.51,1050.19 L863.93,1052.2 L864.36,1054.21 L864.8,1056.22 L878.41,1053.25 L892.01,1050.44 L905.61,1047.79 L919.21,1045.32 L932.81,1043.01 L946.4,1040.87 L959.98,1038.9 L973.57,1037.1 L987.14,1035.46 L1000.72,1033.99 L1014.29,1032.69 L1027.86,1031.55 L1041.43,1030.59 L1054.99,1029.79 L1068.55,1029.16 L1082.1,1028.69 L1095.65,1028.4 L1109.2,1028.27 L1122.74,1028.31 L1136.28,1028.51 L1149.82,1028.89 L1163.35,1029.43 L1176.88,1030.14 L1190.41,1031.02 L1203.93,1032.06 L1217.45,1033.27 L1230.96,1034.65 L1244.47,1036.2 L1257.98,1037.91 L1271.48,1039.8 L1284.98,1041.85 L1298.48,1044.06 L1311.97,1046.45 L1325.46,1049 L1338.95,1051.72 L1352.43,1054.61 L1365.91,1057.66 L1379.39,1060.89 L1392.86,1064.28 L1406.33,1067.83 L1406.99,1065.34 L1407.63,1062.83Z" fill="#eab267" stroke="#eab267"/>
<path d="M1406.33,1067.83 L1392.86,1064.3 L1379.41,1060.96 L1365.96,1057.83 L1352.52,1054.91 L1339.08,1052.18 L1325.65,1049.67 L1312.23,1047.36 L1298.82,1045.25 L1285.41,1043.35 L1272.01,1041.65 L1258.62,1040.16 L1245.23,1038.87 L1231.85,1037.79 L1218.48,1036.91 L1205.11,1036.23 L1191.75,1035.76 L1178.4,1035.5 L1165.06,1035.44 L1151.72,1035.58 L1138.39,1035.93 L1125.06,1036.49 L1111.75,1037.25 L1098.44,1038.21 L1085.13,1039.38 L1071.84,1040.75 L1058.55,1042.33 L1045.26,1044.11 L1031.99,1046.1 L1018.72,1048.29 L1005.46,1050.68 L992.2,1053.28 L978.96,1056.09 L965.71,1059.1 L952.48,1062.31 L939.25,1065.73 L926.03,1069.36 L912.82,1073.18 L899.61,1077.22 L886.41,1081.46 L873.22,1085.9 L874.59,1089.78 L876.02,1093.64 L877.5,1097.48 L890.48,1092.47 L903.47,1087.69 L916.47,1083.13 L929.48,1078.81 L942.5,1074.71 L955.52,1070.85 L968.56,1067.21 L981.61,1063.8 L994.67,1060.62 L1007.73,1057.66 L1020.81,1054.94 L1033.89,1052.44 L1046.99,1050.17 L1060.09,1048.13 L1073.21,1046.32 L1086.33,1044.74 L1099.47,1043.38 L1112.61,1042.26 L1125.76,1041.36 L1138.92,1040.69 L1152.1,1040.25 L1165.28,1040.04 L1178.47,1040.06 L1191.67,1040.3 L1204.88,1040.78 L1218.1,1041.48 L1231.33,1042.41 L1244.57,1043.57 L1257.82,1044.95 L1271.08,1046.57 L1284.35,1048.41 L1297.63,1050.49 L1310.91,1052.79 L1324.21,1055.32 L1337.52,1058.08 L1350.83,1061.06 L1364.16,1064.28 L1377.5,1067.72 L1390.84,1071.39 L1404.2,1075.29 L1404.93,1072.81 L1405.64,1070.33Z" fill="#eab267" stroke="#eab267"/>
<path d="M1404.2,1075.29 L1390.86,1071.42 L1377.56,1067.84 L1364.29,1064.54 L1351.07,1061.53 L1337.89,1058.81 L1324.74,1056.37 L1311.64,1054.22 L1298.58,1052.36 L1285.55,1050.78 L1272.56,1049.49 L1259.62,1048.49 L1246.71,1047.77 L1233.84,1047.34 L1221.01,1047.2 L1208.22,1047.34 L1195.47,1047.77 L1182.76,1048.49 L1170.08,1049.5 L1157.45,1050.79 L1144.86,1052.37 L1132.3,1054.23 L1119.79,1056.39 L1107.31,1058.83 L1094.88,1061.55 L1082.48,1064.57 L1070.12,1067.87 L1057.8,1071.45 L1045.52,1075.33 L1033.28,1079.49 L1021.08,1083.93 L1008.92,1088.67 L996.8,1093.69 L984.71,1099 L972.67,1104.59 L960.67,1110.47 L948.7,1116.64 L936.78,1123.1 L924.89,1129.84 L913.04,1136.87 L901.23,1144.18 L901.79,1145.05 L902.34,1145.92 L902.9,1146.78 L914.62,1139.34 L926.39,1132.2 L938.19,1125.36 L950.03,1118.82 L961.9,1112.58 L973.82,1106.64 L985.78,1100.99 L997.77,1095.65 L1009.8,1090.6 L1021.87,1085.86 L1033.98,1081.41 L1046.13,1077.27 L1058.31,1073.42 L1070.54,1069.87 L1082.8,1066.62 L1095.1,1063.67 L1107.44,1061.02 L1119.82,1058.67 L1132.24,1056.62 L1144.69,1054.87 L1157.18,1053.42 L1169.72,1052.26 L1182.29,1051.41 L1194.89,1050.85 L1207.54,1050.6 L1220.23,1050.64 L1232.95,1050.99 L1245.71,1051.63 L1258.51,1052.57 L1271.35,1053.81 L1284.23,1055.35 L1297.15,1057.19 L1310.1,1059.33 L1323.1,1061.77 L1336.13,1064.51 L1349.2,1067.55 L1362.31,1070.88 L1375.45,1074.52 L1388.64,1078.45 L1401.86,1082.69 L1402.66,1080.23 L1403.44,1077.77Z" fill="#eab267" stroke="#eab267"/>
<path d="M1401.86,1082.69 L1388.67,1078.49 L1375.58,1074.66 L1362.58,1071.21 L1349.69,1068.12 L1336.9,1065.41 L1324.21,1063.06 L1311.62,1061.09 L1299.13,1059.49 L1286.74,1058.26 L1274.45,1057.4 L1262.26,1056.92 L1250.17,1056.8 L1238.19,1057.06 L1226.3,1057.68 L1214.51,1058.68 L1202.82,1060.05 L1191.24,1061.79 L1179.75,1063.9 L1168.37,1066.38 L1157.08,1069.24 L1145.9,1072.46 L1134.81,1076.06 L1123.83,1080.02 L1112.94,1084.36 L1102.16,1089.07 L1091.48,1094.15 L1080.9,1099.6 L1070.41,1105.43 L1060.03,1111.62 L1049.75,1118.19 L1039.57,1125.12 L1029.49,1132.43 L1019.51,1140.11 L1009.63,1148.16 L999.85,1156.58 L990.17,1165.37 L980.6,1174.54 L971.12,1184.07 L961.74,1193.98 L952.46,1204.25 L953.49,1205.16 L954.53,1206.06 L955.57,1206.95 L964.69,1196.55 L973.91,1186.52 L983.24,1176.89 L992.66,1167.63 L1002.19,1158.76 L1011.82,1150.27 L1021.55,1142.17 L1031.38,1134.45 L1041.31,1127.11 L1051.34,1120.16 L1061.47,1113.59 L1071.71,1107.41 L1082.04,1101.61 L1092.48,1096.19 L1103.02,1091.16 L1113.66,1086.51 L1124.4,1082.24 L1135.24,1078.36 L1146.18,1074.86 L1157.22,1071.74 L1168.37,1069.01 L1179.61,1066.66 L1190.96,1064.7 L1202.41,1063.12 L1213.96,1061.92 L1225.61,1061.11 L1237.36,1060.68 L1249.21,1060.63 L1261.16,1060.97 L1273.22,1061.69 L1285.37,1062.8 L1297.63,1064.29 L1309.99,1066.16 L1322.44,1068.42 L1335,1071.06 L1347.67,1074.08 L1360.43,1077.49 L1373.29,1081.28 L1386.26,1085.46 L1399.32,1090.02 L1400.19,1087.58 L1401.04,1085.14Z" fill="#eab267" stroke="#eab267"/>
<path d="M1399.32,1090.02 L1386.26,1085.46 L1373.29,1081.28 L1360.43,1077.49 L1347.67,1074.08 L1335,1071.06 L1322.44,1068.42 L1309.99,1066.16 L1297.63,1064.29 L1285.37,1062.8 L1273.22,1061.69 L1261.16,1060.97 L1249.21,1060.63 L1237.36,1060.68 L1225.61,1061.11 L1213.96,1061.92 L1202.41,1063.12 L1190.96,1064.7 L1179.61,1066.66 L1168.37,1069.01 L1157.22,1071.74 L1146.18,1074.86 L1135.24,1078.36 L1124.4,1082.24 L1113.66,1086.51 L1103.02,1091.16 L1092.48,1096.19 L1082.04,1101.61 L1071.71,1107.41 L1061.47,1113.59 L1051.34,1120.16 L1041.31,1127.11 L1031.38,1134.45 L1021.55,1142.17 L1011.82,1150.27 L1002.19,1158.76 L992.66,1167.63 L983.24,1176.89 L973.91,1186.52 L964.69,1196.55 L955.57,1206.95 L958.72,1209.61 L961.9,1212.21 L965.12,1214.77 L973.77,1203.98 L982.53,1193.6 L991.4,1183.62 L1000.37,1174.04 L1009.46,1164.86 L1018.66,1156.09 L1027.97,1147.71 L1037.38,1139.74 L1046.91,1132.18 L1056.54,1125.01 L1066.29,1118.25 L1076.14,1111.89 L1086.11,1105.94 L1096.18,1100.38 L1106.36,1095.23 L1116.66,1090.48 L1127.06,1086.13 L1137.57,1082.19 L1148.19,1078.65 L1158.93,1075.51 L1169.77,1072.77 L1180.72,1070.44 L1191.78,1068.51 L1202.95,1066.98 L1214.23,1065.86 L1225.62,1065.13 L1237.12,1064.81 L1248.72,1064.89 L1260.44,1065.38 L1272.27,1066.26 L1284.21,1067.55 L1296.26,1069.25 L1308.41,1071.34 L1320.68,1073.84 L1333.05,1076.74 L1345.54,1080.04 L1358.14,1083.74 L1370.84,1087.85 L1383.65,1092.36 L1396.58,1097.27 L1397.52,1094.86 L1398.43,1092.45Z" fill="#eab267" stroke="#eab267"/>
<path d="M1396.58,1097.27 L1383.67,1092.37 L1370.92,1087.9 L1358.31,1083.86 L1345.85,1080.25 L1333.53,1077.06 L1321.37,1074.31 L1309.35,1071.98 L1297.48,1070.08 L1285.76,1068.61 L1274.18,1067.57 L1262.76,1066.95 L1251.48,1066.77 L1240.35,1067.01 L1229.37,1067.68 L1218.53,1068.78 L1207.84,1070.31 L1197.3,1072.27 L1186.91,1074.66 L1176.67,1077.47 L1166.58,1080.71 L1156.63,1084.39 L1146.83,1088.49 L1137.18,1093.02 L1127.67,1097.97 L1118.32,1103.36 L1109.11,1109.18 L1100.05,1115.42 L1091.14,1122.09 L1082.37,1129.19 L1073.75,1136.72 L1065.29,1144.68 L1056.97,1153.07 L1048.79,1161.88 L1040.77,1171.12 L1032.89,1180.8 L1025.16,1190.9 L1017.58,1201.43 L1010.15,1212.38 L1002.86,1223.77 L995.72,1235.59 L997.5,1236.62 L999.29,1237.64 L1001.08,1238.65 L1007.95,1226.69 L1014.97,1215.17 L1022.15,1204.09 L1029.47,1193.45 L1036.95,1183.26 L1044.57,1173.5 L1052.35,1164.19 L1060.28,1155.32 L1068.35,1146.88 L1076.58,1138.9 L1084.96,1131.35 L1093.5,1124.24 L1102.18,1117.57 L1111.01,1111.35 L1120,1105.57 L1129.13,1100.23 L1138.42,1095.33 L1147.85,1090.87 L1157.44,1086.85 L1167.18,1083.28 L1177.07,1080.14 L1187.11,1077.45 L1197.3,1075.2 L1207.64,1073.39 L1218.13,1072.02 L1228.78,1071.09 L1239.57,1070.6 L1250.52,1070.56 L1261.61,1070.96 L1272.86,1071.79 L1284.26,1073.07 L1295.81,1074.79 L1307.51,1076.96 L1319.36,1079.56 L1331.36,1082.6 L1343.52,1086.09 L1355.82,1090.02 L1368.27,1094.39 L1380.88,1099.2 L1393.64,1104.45 L1394.64,1102.07 L1395.62,1099.68Z" fill="#eab267" stroke="#eab267"/>
<path d="M1393.64,1104.45 L1380.89,1099.2 L1368.32,1094.41 L1355.93,1090.08 L1343.72,1086.19 L1331.68,1082.76 L1319.82,1079.79 L1308.13,1077.27 L1296.62,1075.2 L1285.28,1073.59 L1274.12,1072.43 L1263.14,1071.73 L1252.34,1071.48 L1241.71,1071.68 L1231.25,1072.34 L1220.97,1073.45 L1210.87,1075.02 L1200.95,1077.04 L1191.2,1079.52 L1181.62,1082.45 L1172.23,1085.83 L1163.01,1089.67 L1153.96,1093.96 L1145.09,1098.7 L1136.4,1103.9 L1127.88,1109.56 L1119.54,1115.67 L1111.38,1122.23 L1103.39,1129.24 L1095.58,1136.71 L1087.94,1144.64 L1080.48,1153.02 L1073.2,1161.85 L1066.09,1171.14 L1059.16,1180.88 L1052.4,1191.08 L1045.82,1201.73 L1039.42,1212.83 L1033.19,1224.39 L1027.14,1236.4 L1021.27,1248.86 L1022.52,1249.43 L1023.77,1249.99 L1025.03,1250.54 L1030.71,1238 L1036.58,1225.92 L1042.62,1214.31 L1048.84,1203.16 L1055.23,1192.47 L1061.8,1182.25 L1068.55,1172.5 L1075.48,1163.21 L1082.58,1154.39 L1089.86,1146.03 L1097.31,1138.13 L1104.95,1130.71 L1112.76,1123.74 L1120.74,1117.24 L1128.91,1111.21 L1137.25,1105.64 L1145.77,1100.54 L1154.46,1095.9 L1163.33,1091.73 L1172.38,1088.02 L1181.61,1084.78 L1191.01,1082 L1200.59,1079.69 L1210.34,1077.84 L1220.27,1076.46 L1230.38,1075.54 L1240.67,1075.09 L1251.13,1075.1 L1261.77,1075.58 L1272.59,1076.53 L1283.59,1077.93 L1294.76,1079.81 L1306.1,1082.15 L1317.63,1084.95 L1329.33,1088.22 L1341.21,1091.95 L1353.27,1096.15 L1365.5,1100.82 L1377.91,1105.95 L1390.49,1111.54 L1391.56,1109.19 L1392.61,1106.82Z" fill="#eab267" stroke="#eab267"/>
<path d="M1390.49,1111.54 L1377.92,1105.95 L1365.57,1100.84 L1353.42,1096.21 L1341.48,1092.06 L1329.75,1088.38 L1318.24,1085.18 L1306.93,1082.46 L1295.83,1080.22 L1284.95,1078.45 L1274.28,1077.16 L1263.81,1076.35 L1253.56,1076.02 L1243.52,1076.17 L1233.68,1076.79 L1224.06,1077.89 L1214.65,1079.47 L1205.45,1081.53 L1196.46,1084.06 L1187.68,1087.08 L1179.11,1090.57 L1170.76,1094.53 L1162.61,1098.98 L1154.67,1103.91 L1146.94,1109.31 L1139.43,1115.19 L1132.12,1121.54 L1125.03,1128.38 L1118.14,1135.69 L1111.47,1143.48 L1105.01,1151.75 L1098.76,1160.5 L1092.71,1169.72 L1086.88,1179.43 L1081.26,1189.61 L1075.85,1200.27 L1070.65,1211.4 L1065.66,1223.02 L1060.88,1235.11 L1056.32,1247.68 L1051.96,1260.72 L1055.89,1261.95 L1059.83,1263.12 L1063.8,1264.23 L1067.57,1251.01 L1071.56,1238.28 L1075.77,1226.05 L1080.21,1214.31 L1084.86,1203.06 L1089.74,1192.29 L1094.84,1182.02 L1100.16,1172.25 L1105.7,1162.96 L1111.46,1154.16 L1117.44,1145.85 L1123.64,1138.04 L1130.07,1130.72 L1136.72,1123.88 L1143.58,1117.54 L1150.67,1111.69 L1157.98,1106.33 L1165.51,1101.46 L1173.26,1097.08 L1181.24,1093.19 L1189.43,1089.8 L1197.85,1086.89 L1206.49,1084.48 L1215.34,1082.55 L1224.42,1081.12 L1233.72,1080.18 L1243.25,1079.73 L1252.99,1079.77 L1262.95,1080.3 L1273.14,1081.32 L1283.54,1082.83 L1294.17,1084.84 L1305.02,1087.33 L1316.09,1090.32 L1327.38,1093.79 L1338.89,1097.76 L1350.63,1102.22 L1362.58,1107.17 L1374.76,1112.61 L1387.16,1118.54 L1388.29,1116.22 L1389.4,1113.89Z" fill="#eab267" stroke="#eab267"/>
<path d="M1387.16,1118.54 L1374.77,1112.62 L1362.64,1107.18 L1350.76,1102.25 L1339.14,1097.82 L1327.76,1093.88 L1316.63,1090.44 L1305.76,1087.5 L1295.13,1085.05 L1284.76,1083.11 L1274.64,1081.66 L1264.77,1080.71 L1255.16,1080.25 L1245.79,1080.3 L1236.67,1080.84 L1227.81,1081.88 L1219.2,1083.42 L1210.83,1085.45 L1202.72,1087.99 L1194.87,1091.02 L1187.26,1094.55 L1179.9,1098.57 L1172.8,1103.1 L1165.94,1108.12 L1159.34,1113.64 L1152.99,1119.66 L1146.89,1126.17 L1141.04,1133.18 L1135.44,1140.69 L1130.1,1148.7 L1125,1157.21 L1120.16,1166.21 L1115.57,1175.71 L1111.23,1185.71 L1107.14,1196.21 L1103.3,1207.2 L1099.71,1218.69 L1096.38,1230.69 L1093.29,1243.17 L1090.46,1256.16 L1087.88,1269.64 L1091.93,1270.34 L1096,1270.97 L1100.07,1271.55 L1102.05,1257.97 L1104.29,1244.91 L1106.79,1232.35 L1109.56,1220.31 L1112.58,1208.77 L1115.87,1197.74 L1119.42,1187.22 L1123.23,1177.21 L1127.31,1167.7 L1131.64,1158.71 L1136.24,1150.22 L1141.1,1142.25 L1146.23,1134.78 L1151.61,1127.82 L1157.26,1121.37 L1163.17,1115.43 L1169.34,1110 L1175.77,1105.07 L1182.47,1100.66 L1189.42,1096.75 L1196.64,1093.35 L1204.13,1090.46 L1211.87,1088.08 L1219.88,1086.21 L1228.15,1084.85 L1236.68,1083.99 L1245.47,1083.65 L1254.52,1083.81 L1263.84,1084.48 L1273.42,1085.66 L1283.26,1087.35 L1293.36,1089.55 L1303.73,1092.26 L1314.36,1095.47 L1325.25,1099.2 L1336.4,1103.43 L1347.81,1108.17 L1359.49,1113.42 L1371.42,1119.18 L1383.63,1125.45 L1384.82,1123.16 L1386,1120.86Z" fill="#eab267" stroke="#eab267"/>
<path d="M1383.63,1125.45 L1371.36,1118.86 L1359.24,1112.12 L1347.25,1105.25 L1335.41,1098.23 L1323.7,1091.07 L1312.13,1083.77 L1300.7,1076.33 L1289.4,1068.74 L1278.25,1061.02 L1267.23,1053.15 L1256.35,1045.14 L1245.61,1036.99 L1235.01,1028.7 L1224.55,1020.27 L1214.22,1011.69 L1204.04,1002.98 L1193.99,994.12 L1184.08,985.12 L1174.31,975.98 L1164.68,966.7 L1155.18,957.28 L1145.83,947.71 L1136.61,938 L1127.53,928.16 L1118.59,918.17 L1109.78,908.04 L1101.12,897.76 L1092.59,887.35 L1084.21,876.8 L1075.96,866.1 L1067.85,855.26 L1059.88,844.28 L1052.04,833.16 L1044.35,821.9 L1036.79,810.49 L1029.37,798.95 L1022.09,787.26 L1014.95,775.43 L1007.94,763.46 L1001.08,751.35 L999.29,752.36 L997.5,753.38 L995.72,754.41 L1002.85,766.38 L1010.1,778.21 L1017.49,789.92 L1024.99,801.5 L1032.63,812.95 L1040.39,824.27 L1048.28,835.45 L1056.3,846.52 L1064.44,857.45 L1072.71,868.25 L1081.11,878.92 L1089.64,889.47 L1098.29,899.88 L1107.07,910.17 L1115.97,920.32 L1125,930.35 L1134.16,940.25 L1143.45,950.02 L1152.87,959.66 L1162.41,969.17 L1172.07,978.55 L1181.87,987.8 L1191.79,996.92 L1201.84,1005.92 L1212.02,1014.78 L1222.32,1023.52 L1232.75,1032.12 L1243.31,1040.6 L1253.99,1048.95 L1264.8,1057.17 L1275.74,1065.26 L1286.81,1073.22 L1298,1081.05 L1309.32,1088.75 L1320.77,1096.33 L1332.34,1103.77 L1344.04,1111.09 L1355.87,1118.27 L1367.82,1125.33 L1379.9,1132.25 L1381.16,1130 L1382.41,1127.73Z" fill="#b9de6a" stroke="#b9de6a"/>
<path d="M1379.9,1132.25 L1367.78,1125.37 L1355.68,1118.43 L1343.62,1111.44 L1331.59,1104.41 L1319.6,1097.32 L1307.64,1090.19 L1295.71,1083.01 L1283.82,1075.78 L1271.96,1068.49 L1260.14,1061.16 L1248.35,1053.78 L1236.59,1046.35 L1224.87,1038.87 L1213.18,1031.34 L1201.52,1023.77 L1189.9,1016.14 L1178.31,1008.46 L1166.76,1000.74 L1155.23,992.96 L1143.75,985.14 L1132.29,977.27 L1120.87,969.34 L1109.49,961.37 L1098.14,953.35 L1086.82,945.28 L1075.53,937.16 L1064.28,928.99 L1053.06,920.77 L1041.88,912.5 L1030.73,904.19 L1019.61,895.82 L1008.53,887.4 L997.48,878.94 L986.47,870.42 L975.49,861.86 L964.54,853.25 L953.62,844.59 L942.74,835.87 L931.9,827.11 L921.09,818.3 L918.5,821.51 L915.97,824.75 L913.48,828.03 L924.67,836.36 L935.87,844.67 L947.1,852.94 L958.34,861.19 L969.6,869.41 L980.88,877.6 L992.19,885.76 L1003.51,893.89 L1014.85,902 L1026.21,910.07 L1037.59,918.12 L1048.99,926.14 L1060.4,934.13 L1071.84,942.09 L1083.3,950.02 L1094.77,957.92 L1106.27,965.8 L1117.78,973.64 L1129.32,981.46 L1140.87,989.25 L1152.44,997 L1164.03,1004.73 L1175.64,1012.44 L1187.27,1020.11 L1198.92,1027.75 L1210.59,1035.37 L1222.28,1042.95 L1233.99,1050.51 L1245.72,1058.04 L1257.46,1065.54 L1269.23,1073.01 L1281.02,1080.45 L1292.82,1087.87 L1304.64,1095.25 L1316.49,1102.61 L1328.35,1109.93 L1340.23,1117.23 L1352.13,1124.5 L1364.05,1131.74 L1375.99,1138.95 L1377.32,1136.73 L1378.62,1134.5Z" fill="#b9de6a" stroke="#b9de6a"/>
<path d="M1375.99,1138.95 L1364.05,1131.74 L1352.13,1124.5 L1340.23,1117.23 L1328.35,1109.93 L1316.49,1102.61 L1304.64,1095.25 L1292.82,1087.87 L1281.02,1080.45 L1269.23,1073.01 L1257.46,1065.54 L1245.72,1058.04 L1233.99,1050.51 L1222.28,1042.95 L1210.59,1035.37 L1198.92,1027.75 L1187.27,1020.11 L1175.64,1012.44 L1164.03,1004.73 L1152.44,997 L1140.87,989.25 L1129.32,981.46 L1117.78,973.64 L1106.27,965.8 L1094.77,957.92 L1083.3,950.02 L1071.84,942.09 L1060.4,934.13 L1048.99,926.14 L1037.59,918.12 L1026.21,910.07 L1014.85,902 L1003.51,893.89 L992.19,885.76 L980.88,877.6 L969.6,869.41 L958.34,861.19 L947.1,852.94 L935.87,844.67 L924.67,836.36 L913.48,828.03 L911.04,831.34 L908.65,834.69 L906.31,838.08 L917.85,845.92 L929.39,853.75 L940.94,861.58 L952.49,869.4 L964.05,877.21 L975.61,885.01 L987.18,892.8 L998.76,900.59 L1010.34,908.37 L1021.92,916.14 L1033.51,923.9 L1045.1,931.66 L1056.7,939.4 L1068.31,947.14 L1079.92,954.87 L1091.54,962.59 L1103.16,970.31 L1114.78,978.02 L1126.42,985.71 L1138.05,993.4 L1149.7,1001.09 L1161.34,1008.76 L1173,1016.43 L1184.65,1024.09 L1196.32,1031.74 L1207.99,1039.38 L1219.66,1047.02 L1231.34,1054.64 L1243.02,1062.26 L1254.71,1069.87 L1266.41,1077.48 L1278.11,1085.07 L1289.81,1092.66 L1301.52,1100.24 L1313.24,1107.81 L1324.96,1115.37 L1336.69,1122.92 L1348.42,1130.47 L1360.16,1138.01 L1371.9,1145.54 L1373.29,1143.36 L1374.65,1141.16Z" fill="#b9de6a" stroke="#b9de6a"/>
<path d="M1371.9,1145.54 L1360.13,1138.06 L1348.33,1130.67 L1336.48,1123.36 L1324.59,1116.15 L1312.67,1109.02 L1300.7,1101.99 L1288.69,1095.04 L1276.63,1088.18 L1264.54,1081.41 L1252.41,1074.73 L1240.24,1068.14 L1228.02,1061.64 L1215.77,1055.23 L1203.47,1048.91 L1191.14,1042.68 L1178.76,1036.53 L1166.34,1030.48 L1153.88,1024.51 L1141.38,1018.64 L1128.84,1012.85 L1116.26,1007.15 L1103.64,1001.54 L1090.97,996.03 L1078.27,990.6 L1065.53,985.26 L1052.74,980 L1039.91,974.84 L1027.05,969.77 L1014.14,964.79 L1001.19,959.89 L988.2,955.09 L975.17,950.37 L962.1,945.74 L948.99,941.21 L935.84,936.76 L922.64,932.4 L909.41,928.13 L896.13,923.95 L882.82,919.86 L869.46,915.86 L868.32,919.81 L867.24,923.78 L866.22,927.77 L879.74,931.19 L893.2,934.72 L906.61,938.36 L919.98,942.11 L933.29,945.98 L946.55,949.96 L959.76,954.05 L972.93,958.25 L986.04,962.57 L999.1,967 L1012.11,971.54 L1025.07,976.19 L1037.99,980.95 L1050.85,985.83 L1063.66,990.82 L1076.42,995.92 L1089.13,1001.13 L1101.79,1006.46 L1114.4,1011.9 L1126.96,1017.45 L1139.47,1023.11 L1151.93,1028.88 L1164.34,1034.77 L1176.7,1040.77 L1189.01,1046.88 L1201.27,1053.1 L1213.48,1059.44 L1225.64,1065.89 L1237.74,1072.45 L1249.8,1079.12 L1261.81,1085.9 L1273.77,1092.8 L1285.68,1099.81 L1297.53,1106.93 L1309.34,1114.16 L1321.1,1121.51 L1332.81,1128.97 L1344.46,1136.54 L1356.07,1144.22 L1367.62,1152.01 L1369.07,1149.87 L1370.49,1147.71Z" fill="#b9de6a" stroke="#b9de6a"/>
<path d="M1367.62,1152.01 L1356.07,1144.22 L1344.46,1136.54 L1332.81,1128.97 L1321.1,1121.51 L1309.34,1114.16 L1297.53,1106.93 L1285.68,1099.81 L1273.77,1092.8 L1261.81,1085.9 L1249.8,1079.12 L1237.74,1072.45 L1225.64,1065.89 L1213.48,1059.44 L1201.27,1053.1 L1189.01,1046.88 L1176.7,1040.77 L1164.34,1034.77 L1151.93,1028.88 L1139.47,1023.11 L1126.96,1017.45 L1114.4,1011.9 L1101.79,1006.46 L1089.13,1001.13 L1076.42,995.92 L1063.66,990.82 L1050.85,985.83 L1037.99,980.95 L1025.07,976.19 L1012.11,971.54 L999.1,967 L986.04,962.57 L972.93,958.25 L959.76,954.05 L946.55,949.96 L933.29,945.98 L919.98,942.11 L906.61,938.36 L893.2,934.72 L879.74,931.19 L866.22,927.77 L865.26,931.77 L864.36,935.79 L863.51,939.81 L877.16,942.64 L890.74,945.6 L904.27,948.7 L917.74,951.93 L931.15,955.3 L944.49,958.8 L957.78,962.44 L971.01,966.22 L984.19,970.12 L997.3,974.17 L1010.35,978.35 L1023.35,982.66 L1036.28,987.11 L1049.16,991.7 L1061.97,996.42 L1074.73,1001.27 L1087.43,1006.26 L1100.07,1011.39 L1112.65,1016.65 L1125.17,1022.04 L1137.63,1027.58 L1150.04,1033.24 L1162.38,1039.04 L1174.66,1044.98 L1186.89,1051.05 L1199.05,1057.26 L1211.16,1063.6 L1223.21,1070.08 L1235.2,1076.69 L1247.13,1083.44 L1259,1090.33 L1270.81,1097.35 L1282.56,1104.5 L1294.25,1111.79 L1305.89,1119.21 L1317.46,1126.77 L1328.98,1134.47 L1340.44,1142.3 L1351.83,1150.26 L1363.17,1158.36 L1364.67,1156.26 L1366.16,1154.14Z" fill="#b9de6a" stroke="#b9de6a"/>
<path d="M1363.17,1158.36 L1351.83,1150.28 L1340.43,1142.36 L1328.96,1134.61 L1317.43,1127.02 L1305.83,1119.59 L1294.17,1112.34 L1282.45,1105.25 L1270.66,1098.32 L1258.81,1091.56 L1246.89,1084.97 L1234.91,1078.54 L1222.87,1072.28 L1210.76,1066.18 L1198.59,1060.25 L1186.35,1054.48 L1174.05,1048.88 L1161.69,1043.45 L1149.26,1038.18 L1136.77,1033.08 L1124.22,1028.14 L1111.6,1023.37 L1098.92,1018.76 L1086.17,1014.32 L1073.36,1010.05 L1060.49,1005.94 L1047.55,1002 L1034.55,998.22 L1021.48,994.61 L1008.35,991.17 L995.16,987.89 L981.9,984.77 L968.58,981.82 L955.19,979.04 L941.74,976.42 L928.23,973.97 L914.65,971.69 L901.01,969.57 L887.31,967.61 L873.54,965.82 L859.71,964.2 L859.28,968.29 L858.92,972.39 L858.61,976.5 L872.5,977.52 L886.31,978.72 L900.05,980.12 L913.72,981.71 L927.32,983.48 L940.85,985.45 L954.31,987.6 L967.69,989.94 L981.01,992.47 L994.25,995.19 L1007.43,998.1 L1020.53,1001.2 L1033.56,1004.48 L1046.52,1007.96 L1059.41,1011.62 L1072.23,1015.47 L1084.97,1019.51 L1097.65,1023.74 L1110.26,1028.16 L1122.79,1032.77 L1135.25,1037.57 L1147.64,1042.55 L1159.96,1047.73 L1172.21,1053.09 L1184.39,1058.64 L1196.5,1064.38 L1208.54,1070.31 L1220.5,1076.43 L1232.4,1082.74 L1244.22,1089.24 L1255.97,1095.92 L1267.65,1102.8 L1279.26,1109.86 L1290.8,1117.11 L1302.27,1124.55 L1313.67,1132.18 L1324.99,1140 L1336.25,1148.01 L1347.43,1156.2 L1358.54,1164.59 L1360.1,1162.53 L1361.65,1160.45Z" fill="#b9de6a" stroke="#b9de6a"/>
<path d="M1358.54,1164.59 L1347.45,1156.3 L1336.33,1148.39 L1325.19,1140.87 L1314.01,1133.73 L1302.81,1126.96 L1291.58,1120.59 L1280.33,1114.59 L1269.04,1108.97 L1257.73,1103.74 L1246.39,1098.89 L1235.02,1094.42 L1223.63,1090.33 L1212.2,1086.63 L1200.75,1083.3 L1189.28,1080.36 L1177.77,1077.8 L1166.24,1075.62 L1154.68,1073.82 L1143.09,1072.41 L1131.47,1071.38 L1119.83,1070.73 L1108.16,1070.46 L1096.46,1070.57 L1084.73,1071.07 L1072.98,1071.94 L1061.2,1073.2 L1049.39,1074.84 L1037.55,1076.86 L1025.68,1079.27 L1013.79,1082.05 L1001.87,1085.22 L989.92,1088.77 L977.95,1092.71 L965.95,1097.02 L953.92,1101.71 L941.86,1106.79 L929.77,1112.25 L917.66,1118.09 L905.52,1124.32 L893.35,1130.92 L895.38,1134.5 L897.46,1138.05 L899.6,1141.57 L911.46,1134.44 L923.29,1127.71 L935.09,1121.39 L946.87,1115.48 L958.63,1109.96 L970.35,1104.85 L982.06,1100.14 L993.73,1095.83 L1005.38,1091.92 L1017.01,1088.42 L1028.61,1085.32 L1040.18,1082.63 L1051.73,1080.34 L1063.25,1078.44 L1074.74,1076.96 L1086.21,1075.87 L1097.66,1075.19 L1109.08,1074.91 L1120.47,1075.04 L1131.84,1075.56 L1143.18,1076.49 L1154.49,1077.82 L1165.78,1079.56 L1177.04,1081.7 L1188.28,1084.24 L1199.49,1087.18 L1210.68,1090.53 L1221.84,1094.27 L1232.97,1098.43 L1244.08,1102.98 L1255.16,1107.94 L1266.22,1113.3 L1277.25,1119.06 L1288.25,1125.23 L1299.23,1131.8 L1310.19,1138.77 L1321.11,1146.14 L1332.02,1153.92 L1342.89,1162.1 L1353.74,1170.68 L1355.36,1168.66 L1356.96,1166.63Z" fill="#b9de6a" stroke="#b9de6a"/>
<path d="M1353.74,1170.68 L1342.89,1162.1 L1332.02,1153.93 L1321.13,1146.17 L1310.22,1138.82 L1299.29,1131.88 L1288.33,1125.34 L1277.35,1119.22 L1266.35,1113.51 L1255.33,1108.2 L1244.29,1103.31 L1233.22,1098.82 L1222.13,1094.74 L1211.03,1091.08 L1199.9,1087.82 L1188.74,1084.97 L1177.57,1082.53 L1166.38,1080.5 L1155.16,1078.88 L1143.92,1077.67 L1132.66,1076.87 L1121.38,1076.47 L1110.07,1076.49 L1098.75,1076.92 L1087.4,1077.75 L1076.03,1078.99 L1064.64,1080.65 L1053.23,1082.71 L1041.8,1085.18 L1030.34,1088.07 L1018.86,1091.36 L1007.37,1095.06 L995.84,1099.17 L984.3,1103.69 L972.74,1108.62 L961.15,1113.95 L949.55,1119.7 L937.92,1125.86 L926.27,1132.42 L914.59,1139.4 L902.9,1146.78 L903.46,1147.64 L904.02,1148.5 L904.59,1149.36 L916.2,1141.85 L927.78,1134.77 L939.34,1128.1 L950.87,1121.85 L962.37,1116.02 L973.85,1110.61 L985.3,1105.63 L996.73,1101.06 L1008.13,1096.91 L1019.51,1093.18 L1030.86,1089.87 L1042.18,1086.98 L1053.48,1084.52 L1064.75,1082.47 L1076,1080.84 L1087.22,1079.63 L1098.41,1078.84 L1109.58,1078.48 L1120.72,1078.53 L1131.84,1079 L1142.93,1079.89 L1154,1081.2 L1165.04,1082.94 L1176.05,1085.09 L1187.04,1087.66 L1198,1090.65 L1208.94,1094.06 L1219.85,1097.9 L1230.74,1102.15 L1241.6,1106.82 L1252.43,1111.91 L1263.24,1117.42 L1274.02,1123.35 L1284.78,1129.71 L1295.51,1136.48 L1306.21,1143.67 L1316.89,1151.28 L1327.55,1159.31 L1338.17,1167.77 L1348.77,1176.64 L1350.45,1174.67 L1352.1,1172.68Z" fill="#b9de6a" stroke="#b9de6a"/>
<path d="M1348.77,1176.64 L1338.18,1167.77 L1327.57,1159.35 L1316.94,1151.35 L1306.3,1143.8 L1295.65,1136.68 L1284.98,1129.99 L1274.29,1123.74 L1263.6,1117.93 L1252.88,1112.55 L1242.15,1107.61 L1231.41,1103.1 L1220.65,1099.03 L1209.88,1095.4 L1199.09,1092.2 L1188.29,1089.43 L1177.48,1087.11 L1166.64,1085.21 L1155.8,1083.76 L1144.94,1082.74 L1134.06,1082.15 L1123.17,1082 L1112.27,1082.29 L1101.35,1083.01 L1090.42,1084.17 L1079.47,1085.77 L1068.51,1087.8 L1057.53,1090.26 L1046.54,1093.16 L1035.53,1096.5 L1024.51,1100.28 L1013.47,1104.48 L1002.42,1109.13 L991.35,1114.21 L980.27,1119.73 L969.18,1125.68 L958.07,1132.07 L946.94,1138.89 L935.8,1146.15 L924.65,1153.84 L913.48,1161.97 L915.97,1165.25 L918.5,1168.49 L921.09,1171.7 L931.88,1163.09 L942.65,1154.94 L953.42,1147.24 L964.18,1140 L974.92,1133.21 L985.65,1126.88 L996.37,1121.01 L1007.08,1115.58 L1017.78,1110.62 L1028.46,1106.11 L1039.14,1102.05 L1049.8,1098.45 L1060.45,1095.31 L1071.09,1092.62 L1081.72,1090.38 L1092.33,1088.6 L1102.94,1087.28 L1113.53,1086.41 L1124.11,1086 L1134.68,1086.04 L1145.24,1086.53 L1155.79,1087.49 L1166.32,1088.89 L1176.85,1090.76 L1187.36,1093.07 L1197.86,1095.85 L1208.35,1099.07 L1218.82,1102.76 L1229.29,1106.89 L1239.74,1111.49 L1250.18,1116.54 L1260.62,1122.04 L1271.03,1128 L1281.44,1134.41 L1291.84,1141.28 L1302.22,1148.61 L1312.6,1156.38 L1322.96,1164.62 L1333.31,1173.31 L1343.64,1182.45 L1345.37,1180.53 L1347.08,1178.59Z" fill="#b9de6a" stroke="#b9de6a"/>
<path d="M1343.64,1182.45 L1333.36,1173.35 L1323.17,1164.79 L1313.08,1156.78 L1303.08,1149.3 L1293.17,1142.37 L1283.36,1135.98 L1273.65,1130.14 L1264.03,1124.84 L1254.51,1120.07 L1245.08,1115.86 L1235.75,1112.18 L1226.51,1109.05 L1217.37,1106.46 L1208.32,1104.41 L1199.37,1102.9 L1190.51,1101.94 L1181.75,1101.52 L1173.08,1101.64 L1164.51,1102.31 L1156.04,1103.51 L1147.66,1105.26 L1139.37,1107.56 L1131.18,1110.39 L1123.08,1113.77 L1115.08,1117.69 L1107.18,1122.15 L1099.37,1127.16 L1091.65,1132.7 L1084.03,1138.8 L1076.51,1145.43 L1069.08,1152.6 L1061.75,1160.32 L1054.51,1168.58 L1047.36,1177.39 L1040.32,1186.73 L1033.36,1196.62 L1026.51,1207.05 L1019.74,1218.02 L1013.07,1229.54 L1006.5,1241.6 L1008.32,1242.56 L1010.15,1243.5 L1011.99,1244.43 L1018.29,1232.23 L1024.68,1220.59 L1031.17,1209.5 L1037.75,1198.97 L1044.43,1188.98 L1051.21,1179.56 L1058.08,1170.68 L1065.05,1162.36 L1072.11,1154.59 L1079.27,1147.37 L1086.52,1140.71 L1093.87,1134.6 L1101.31,1129.04 L1108.85,1124.04 L1116.48,1119.59 L1124.21,1115.69 L1132.04,1112.35 L1139.96,1109.56 L1147.97,1107.32 L1156.09,1105.64 L1164.29,1104.51 L1172.59,1103.93 L1180.99,1103.91 L1189.49,1104.43 L1198.07,1105.52 L1206.76,1107.15 L1215.54,1109.34 L1224.41,1112.08 L1233.38,1115.38 L1242.45,1119.22 L1251.61,1123.62 L1260.87,1128.58 L1270.22,1134.09 L1279.66,1140.15 L1289.21,1146.76 L1298.85,1153.93 L1308.58,1161.65 L1318.41,1169.92 L1328.33,1178.75 L1338.35,1188.13 L1340.13,1186.25 L1341.9,1184.36Z" fill="#b9de6a" stroke="#b9de6a"/>
<path d="M1338.35,1188.13 L1328.41,1178.42 L1318.72,1168.6 L1309.28,1158.67 L1300.1,1148.64 L1291.16,1138.5 L1282.48,1128.26 L1274.05,1117.9 L1265.87,1107.44 L1257.94,1096.87 L1250.26,1086.2 L1242.84,1075.41 L1235.66,1064.52 L1228.74,1053.52 L1222.07,1042.42 L1215.65,1031.21 L1209.49,1019.89 L1203.57,1008.46 L1197.91,996.92 L1192.5,985.28 L1187.34,973.53 L1182.43,961.67 L1177.77,949.71 L1173.37,937.64 L1169.22,925.46 L1165.32,913.17 L1161.67,900.78 L1158.27,888.28 L1155.12,875.67 L1152.23,862.96 L1149.58,850.13 L1147.19,837.2 L1145.05,824.17 L1143.17,811.02 L1141.53,797.77 L1140.15,784.41 L1139.01,770.94 L1138.13,757.37 L1137.5,743.69 L1137.13,729.9 L1137,716 L1132.89,716.03 L1128.77,716.12 L1124.66,716.27 L1125.39,730.16 L1126.35,743.95 L1127.54,757.63 L1128.96,771.22 L1130.61,784.7 L1132.49,798.09 L1134.6,811.38 L1136.94,824.56 L1139.51,837.65 L1142.3,850.63 L1145.33,863.52 L1148.58,876.3 L1152.07,888.99 L1155.78,901.57 L1159.73,914.06 L1163.9,926.44 L1168.31,938.73 L1172.94,950.91 L1177.8,963 L1182.89,974.98 L1188.21,986.86 L1193.76,998.65 L1199.54,1010.33 L1205.55,1021.92 L1211.79,1033.4 L1218.26,1044.79 L1224.96,1056.07 L1231.88,1067.25 L1239.04,1078.34 L1246.43,1089.32 L1254.04,1100.2 L1261.89,1110.99 L1269.96,1121.67 L1278.27,1132.25 L1286.8,1142.74 L1295.56,1153.12 L1304.55,1163.4 L1313.78,1173.58 L1323.23,1183.67 L1332.91,1193.65 L1334.74,1191.83 L1336.55,1189.98Z" fill="#efc8e7" stroke="#efc8e7"/>
<path d="M1332.91,1193.65 L1323.09,1183.94 L1313.22,1174.67 L1303.32,1165.84 L1293.36,1157.45 L1283.36,1149.5 L1273.31,1142 L1263.22,1134.93 L1253.08,1128.31 L1242.9,1122.13 L1232.67,1116.39 L1222.4,1111.09 L1212.08,1106.23 L1201.71,1101.81 L1191.3,1097.84 L1180.84,1094.3 L1170.34,1091.21 L1159.79,1088.56 L1149.2,1086.35 L1138.56,1084.58 L1127.87,1083.25 L1117.14,1082.37 L1106.37,1081.92 L1095.55,1081.92 L1084.68,1082.35 L1073.77,1083.23 L1062.81,1084.55 L1051.8,1086.31 L1040.75,1088.52 L1029.66,1091.16 L1018.51,1094.24 L1007.33,1097.77 L996.1,1101.74 L984.82,1106.15 L973.49,1111 L962.12,1116.29 L950.71,1122.02 L939.25,1128.19 L927.74,1134.81 L916.19,1141.86 L904.59,1149.36 L905.16,1150.22 L905.74,1151.07 L906.31,1151.92 L917.82,1144.3 L929.28,1137.13 L940.69,1130.42 L952.05,1124.15 L963.35,1118.33 L974.61,1112.97 L985.82,1108.05 L996.97,1103.59 L1008.08,1099.58 L1019.13,1096.02 L1030.14,1092.91 L1041.09,1090.25 L1052,1088.05 L1062.85,1086.29 L1073.65,1084.99 L1084.4,1084.14 L1095.1,1083.73 L1105.76,1083.78 L1116.36,1084.28 L1126.91,1085.24 L1137.41,1086.64 L1147.85,1088.49 L1158.25,1090.8 L1168.6,1093.55 L1178.9,1096.76 L1189.15,1100.42 L1199.34,1104.53 L1209.49,1109.09 L1219.59,1114.1 L1229.63,1119.57 L1239.63,1125.48 L1249.57,1131.85 L1259.46,1138.67 L1269.31,1145.93 L1279.1,1153.65 L1288.84,1161.82 L1298.54,1170.45 L1308.18,1179.52 L1317.77,1189.04 L1327.31,1199.02 L1329.19,1197.25 L1331.06,1195.46Z" fill="#efc8e7" stroke="#efc8e7"/>
<path d="M1327.31,1199.02 L1317.79,1189.07 L1308.26,1179.61 L1298.71,1170.66 L1289.16,1162.21 L1279.59,1154.25 L1270.01,1146.79 L1260.42,1139.83 L1250.82,1133.38 L1241.21,1127.41 L1231.58,1121.95 L1221.95,1116.99 L1212.3,1112.53 L1202.64,1108.56 L1192.97,1105.1 L1183.29,1102.13 L1173.6,1099.66 L1163.89,1097.69 L1154.18,1096.22 L1144.45,1095.25 L1134.71,1094.78 L1124.96,1094.8 L1115.2,1095.33 L1105.43,1096.35 L1095.65,1097.87 L1085.85,1099.9 L1076.04,1102.42 L1066.23,1105.44 L1056.4,1108.95 L1046.55,1112.97 L1036.7,1117.49 L1026.84,1122.5 L1016.96,1128.02 L1007.08,1134.03 L997.18,1140.54 L987.27,1147.55 L977.35,1155.06 L967.41,1163.07 L957.47,1171.58 L947.51,1180.58 L937.55,1190.09 L940.45,1193.01 L943.39,1195.89 L946.37,1198.72 L955.9,1188.79 L965.42,1179.38 L974.93,1170.48 L984.44,1162.11 L993.93,1154.24 L1003.42,1146.9 L1012.91,1140.06 L1022.38,1133.75 L1031.85,1127.95 L1041.31,1122.67 L1050.76,1117.9 L1060.2,1113.65 L1069.64,1109.92 L1079.07,1106.7 L1088.49,1104 L1097.9,1101.82 L1107.31,1100.15 L1116.71,1098.99 L1126.1,1098.36 L1135.48,1098.24 L1144.86,1098.63 L1154.23,1099.55 L1163.59,1100.97 L1172.94,1102.92 L1182.29,1105.38 L1191.63,1108.36 L1200.96,1111.85 L1210.28,1115.86 L1219.6,1120.38 L1228.9,1125.42 L1238.2,1130.98 L1247.5,1137.06 L1256.78,1143.65 L1266.06,1150.75 L1275.33,1158.37 L1284.59,1166.51 L1293.85,1175.17 L1303.09,1184.34 L1312.33,1194.03 L1321.56,1204.23 L1323.5,1202.51 L1325.41,1200.77Z" fill="#efc8e7" stroke="#efc8e7"/>
<path d="M1321.56,1204.23 L1312.37,1194.05 L1303.23,1184.44 L1294.15,1175.39 L1285.14,1166.91 L1276.18,1159 L1267.29,1151.65 L1258.46,1144.87 L1249.68,1138.65 L1240.97,1133 L1232.32,1127.92 L1223.73,1123.4 L1215.2,1119.45 L1206.74,1116.07 L1198.33,1113.25 L1189.98,1110.99 L1181.7,1109.31 L1173.47,1108.19 L1165.31,1107.63 L1157.2,1107.64 L1149.16,1108.22 L1141.18,1109.36 L1133.26,1111.07 L1125.4,1113.35 L1117.6,1116.19 L1109.86,1119.6 L1102.18,1123.57 L1094.57,1128.11 L1087.01,1133.22 L1079.51,1138.89 L1072.08,1145.13 L1064.71,1151.94 L1057.39,1159.31 L1050.14,1167.24 L1042.95,1175.75 L1035.82,1184.82 L1028.75,1194.45 L1021.74,1204.65 L1014.79,1215.42 L1007.91,1226.75 L1001.08,1238.65 L1002.88,1239.65 L1004.69,1240.63 L1006.5,1241.6 L1013.06,1229.56 L1019.67,1218.09 L1026.35,1207.2 L1033.08,1196.89 L1039.88,1187.15 L1046.74,1177.99 L1053.65,1169.4 L1060.63,1161.39 L1067.67,1153.96 L1074.76,1147.1 L1081.92,1140.82 L1089.14,1135.12 L1096.41,1129.99 L1103.75,1125.44 L1111.15,1121.46 L1118.61,1118.06 L1126.13,1115.24 L1133.71,1112.99 L1141.35,1111.32 L1149.04,1110.22 L1156.8,1109.7 L1164.62,1109.76 L1172.5,1110.39 L1180.44,1111.6 L1188.44,1113.38 L1196.5,1115.74 L1204.63,1118.68 L1212.81,1122.19 L1221.05,1126.28 L1229.35,1130.94 L1237.71,1136.19 L1246.13,1142 L1254.62,1148.4 L1263.16,1155.37 L1271.76,1162.91 L1280.42,1171.03 L1289.15,1179.73 L1297.93,1189 L1306.77,1198.85 L1315.68,1209.28 L1317.65,1207.61 L1319.62,1205.93Z" fill="#efc8e7" stroke="#efc8e7"/>
<path d="M1315.68,1209.28 L1306.78,1198.86 L1297.98,1189.03 L1289.25,1179.78 L1280.61,1171.12 L1272.05,1163.05 L1263.57,1155.57 L1255.18,1148.67 L1246.87,1142.36 L1238.65,1136.64 L1230.51,1131.5 L1222.45,1126.96 L1214.47,1123 L1206.58,1119.62 L1198.77,1116.84 L1191.05,1114.64 L1183.41,1113.03 L1175.85,1112 L1168.37,1111.57 L1160.98,1111.72 L1153.68,1112.46 L1146.45,1113.78 L1139.31,1115.69 L1132.25,1118.19 L1125.28,1121.28 L1118.39,1124.96 L1111.58,1129.22 L1104.85,1134.07 L1098.21,1139.5 L1091.66,1145.53 L1085.18,1152.14 L1078.79,1159.33 L1072.48,1167.12 L1066.26,1175.49 L1060.12,1184.45 L1054.06,1194 L1048.09,1204.13 L1042.2,1214.86 L1036.39,1226.16 L1030.67,1238.06 L1025.03,1250.54 L1026.28,1251.09 L1027.54,1251.63 L1028.81,1252.17 L1034.26,1239.61 L1039.79,1227.64 L1045.4,1216.27 L1051.09,1205.5 L1056.86,1195.32 L1062.72,1185.73 L1068.65,1176.75 L1074.66,1168.35 L1080.76,1160.56 L1086.93,1153.35 L1093.19,1146.75 L1099.52,1140.74 L1105.94,1135.32 L1112.44,1130.5 L1119.02,1126.28 L1125.67,1122.65 L1132.41,1119.61 L1139.23,1117.17 L1146.13,1115.33 L1153.11,1114.08 L1160.18,1113.43 L1167.32,1113.37 L1174.54,1113.91 L1181.84,1115.05 L1189.23,1116.77 L1196.69,1119.1 L1204.24,1122.02 L1211.86,1125.54 L1219.57,1129.65 L1227.35,1134.35 L1235.22,1139.65 L1243.17,1145.55 L1251.2,1152.04 L1259.31,1159.13 L1267.5,1166.82 L1275.77,1175.09 L1284.12,1183.97 L1292.55,1193.44 L1301.06,1203.5 L1309.65,1214.16 L1311.67,1212.55 L1313.68,1210.93Z" fill="#efc8e7" stroke="#efc8e7"/>
<path d="M1309.65,1214.16 L1301.1,1203.17 L1292.71,1192.11 L1284.48,1180.97 L1276.42,1169.77 L1268.51,1158.49 L1260.77,1147.14 L1253.19,1135.73 L1245.78,1124.24 L1238.52,1112.68 L1231.43,1101.05 L1224.5,1089.35 L1217.73,1077.58 L1211.12,1065.74 L1204.67,1053.83 L1198.39,1041.85 L1192.27,1029.79 L1186.31,1017.67 L1180.51,1005.48 L1174.88,993.21 L1169.4,980.88 L1164.09,968.47 L1158.94,955.99 L1153.96,943.45 L1149.13,930.83 L1144.47,918.14 L1139.97,905.38 L1135.63,892.55 L1131.45,879.65 L1127.44,866.68 L1123.58,853.64 L1119.89,840.53 L1116.36,827.34 L1113,814.09 L1109.79,800.77 L1106.75,787.37 L1103.87,773.91 L1101.15,760.37 L1098.59,746.76 L1096.2,733.09 L1093.96,719.34 L1091.93,719.66 L1089.9,720 L1087.88,720.36 L1090.41,734.06 L1093.08,747.7 L1095.91,761.27 L1098.88,774.78 L1101.99,788.23 L1105.25,801.61 L1108.66,814.93 L1112.22,828.18 L1115.92,841.38 L1119.77,854.51 L1123.77,867.57 L1127.91,880.57 L1132.2,893.51 L1136.64,906.39 L1141.22,919.2 L1145.95,931.95 L1150.83,944.63 L1155.85,957.26 L1161.03,969.81 L1166.34,982.31 L1171.81,994.74 L1177.42,1007.11 L1183.17,1019.41 L1189.08,1031.65 L1195.13,1043.83 L1201.33,1055.94 L1207.67,1068 L1214.16,1079.98 L1220.8,1091.91 L1227.58,1103.77 L1234.51,1115.56 L1241.59,1127.3 L1248.81,1138.97 L1256.19,1150.57 L1263.7,1162.12 L1271.37,1173.59 L1279.18,1185.01 L1287.14,1196.36 L1295.24,1207.65 L1303.49,1218.88 L1305.56,1217.33 L1307.61,1215.75Z" fill="#d8d8d8" stroke="#d8d8d8"/>
<path d="M1303.49,1218.88 L1295.22,1207.66 L1287.06,1196.38 L1279.01,1185.05 L1271.07,1173.67 L1263.23,1162.23 L1255.51,1150.73 L1247.89,1139.18 L1240.39,1127.58 L1232.99,1115.92 L1225.71,1104.21 L1218.53,1092.44 L1211.46,1080.62 L1204.5,1068.75 L1197.65,1056.81 L1190.91,1044.83 L1184.27,1032.79 L1177.75,1020.7 L1171.34,1008.55 L1165.03,996.34 L1158.84,984.08 L1152.75,971.77 L1146.77,959.4 L1140.91,946.98 L1135.15,934.51 L1129.5,921.98 L1123.96,909.39 L1118.53,896.75 L1113.2,884.05 L1107.99,871.31 L1102.89,858.5 L1097.89,845.64 L1093.01,832.73 L1088.23,819.76 L1083.57,806.74 L1079.01,793.66 L1074.56,780.53 L1070.22,767.35 L1065.99,754.1 L1061.87,740.81 L1057.86,727.46 L1055.89,728.05 L1053.92,728.66 L1051.96,729.28 L1056.26,742.54 L1060.65,755.76 L1065.14,768.93 L1069.72,782.05 L1074.39,795.12 L1079.16,808.15 L1084.03,821.14 L1088.98,834.07 L1094.03,846.96 L1099.18,859.81 L1104.42,872.6 L1109.75,885.35 L1115.17,898.06 L1120.7,910.71 L1126.31,923.32 L1132.02,935.89 L1137.82,948.4 L1143.72,960.87 L1149.71,973.3 L1155.79,985.67 L1161.97,998 L1168.24,1010.29 L1174.61,1022.52 L1181.07,1034.72 L1187.62,1046.86 L1194.27,1058.96 L1201.01,1071.01 L1207.85,1083.01 L1214.78,1094.97 L1221.8,1106.88 L1228.92,1118.74 L1236.13,1130.56 L1243.43,1142.33 L1250.83,1154.05 L1258.33,1165.73 L1265.92,1177.36 L1273.6,1188.95 L1281.37,1200.48 L1289.24,1211.98 L1297.2,1223.42 L1299.31,1221.93 L1301.41,1220.41Z" fill="#d8d8d8" stroke="#d8d8d8"/>
<path d="M1297.2,1223.42 L1289.23,1211.98 L1281.31,1200.51 L1273.47,1189 L1265.68,1177.45 L1257.97,1165.87 L1250.31,1154.25 L1242.73,1142.59 L1235.2,1130.9 L1227.75,1119.18 L1220.35,1107.41 L1213.03,1095.61 L1205.76,1083.78 L1198.57,1071.91 L1191.43,1060 L1184.37,1048.06 L1177.36,1036.08 L1170.43,1024.07 L1163.55,1012.02 L1156.75,999.93 L1150,987.81 L1143.33,975.66 L1136.71,963.46 L1130.17,951.23 L1123.68,938.97 L1117.27,926.67 L1110.91,914.33 L1104.63,901.95 L1098.4,889.55 L1092.25,877.1 L1086.15,864.62 L1080.13,852.1 L1074.16,839.55 L1068.27,826.96 L1062.44,814.34 L1056.67,801.67 L1050.97,788.98 L1045.33,776.25 L1039.76,763.48 L1034.25,750.67 L1028.81,737.83 L1026.91,738.64 L1025.03,739.46 L1023.14,740.29 L1028.86,753.01 L1034.63,765.7 L1040.45,778.37 L1046.32,791.01 L1052.23,803.62 L1058.2,816.21 L1064.22,828.77 L1070.28,841.3 L1076.4,853.8 L1082.57,866.27 L1088.79,878.72 L1095.05,891.14 L1101.37,903.53 L1107.74,915.9 L1114.15,928.24 L1120.62,940.55 L1127.14,952.83 L1133.7,965.09 L1140.32,977.32 L1146.98,989.52 L1153.7,1001.69 L1160.47,1013.84 L1167.28,1025.96 L1174.15,1038.05 L1181.06,1050.11 L1188.03,1062.15 L1195.05,1074.16 L1202.11,1086.14 L1209.23,1098.09 L1216.39,1110.02 L1223.61,1121.92 L1230.87,1133.79 L1238.19,1145.64 L1245.55,1157.46 L1252.97,1169.25 L1260.43,1181.01 L1267.95,1192.74 L1275.51,1204.45 L1283.13,1216.13 L1290.79,1227.78 L1292.94,1226.35 L1295.08,1224.89Z" fill="#d8d8d8" stroke="#d8d8d8"/>
<path d="M1290.79,1227.78 L1283.07,1216.17 L1275.29,1204.61 L1267.44,1193.1 L1259.53,1181.65 L1251.56,1170.25 L1243.53,1158.9 L1235.44,1147.6 L1227.28,1136.36 L1219.06,1125.17 L1210.78,1114.03 L1202.43,1102.94 L1194.02,1091.91 L1185.55,1080.93 L1177.02,1070 L1168.43,1059.12 L1159.77,1048.3 L1151.05,1037.53 L1142.27,1026.82 L1133.42,1016.15 L1124.52,1005.54 L1115.55,994.98 L1106.52,984.47 L1097.42,974.02 L1088.27,963.62 L1079.05,953.27 L1069.77,942.98 L1060.42,932.73 L1051.02,922.54 L1041.55,912.41 L1032.02,902.32 L1022.43,892.29 L1012.77,882.31 L1003.05,872.38 L993.27,862.51 L983.43,852.69 L973.52,842.92 L963.56,833.2 L953.53,823.54 L943.43,813.93 L933.28,804.37 L932.58,805.12 L931.88,805.88 L931.18,806.64 L941.44,816.09 L951.62,825.59 L961.73,835.16 L971.76,844.8 L981.72,854.49 L991.61,864.24 L1001.43,874.05 L1011.17,883.93 L1020.84,893.86 L1030.43,903.86 L1039.95,913.91 L1049.4,924.03 L1058.78,934.21 L1068.08,944.45 L1077.31,954.74 L1086.47,965.1 L1095.55,975.53 L1104.56,986.01 L1113.5,996.55 L1122.36,1007.15 L1131.15,1017.82 L1139.87,1028.54 L1148.51,1039.33 L1157.08,1050.17 L1165.58,1061.08 L1174.01,1072.05 L1182.36,1083.07 L1190.64,1094.16 L1198.84,1105.31 L1206.97,1116.52 L1215.03,1127.79 L1223.02,1139.13 L1230.93,1150.52 L1238.77,1161.97 L1246.53,1173.49 L1254.22,1185.06 L1261.84,1196.7 L1269.39,1208.39 L1276.86,1220.15 L1284.26,1231.97 L1286.45,1230.6 L1288.63,1229.2Z" fill="#d8d8d8" stroke="#d8d8d8"/>
<path d="M1284.26,1231.97 L1276.84,1220.18 L1269.3,1208.51 L1261.65,1196.96 L1253.88,1185.53 L1245.99,1174.22 L1237.98,1163.03 L1229.86,1151.96 L1221.62,1141.01 L1213.27,1130.18 L1204.8,1119.47 L1196.21,1108.87 L1187.51,1098.4 L1178.68,1088.05 L1169.75,1077.81 L1160.69,1067.7 L1151.52,1057.7 L1142.23,1047.83 L1132.83,1038.07 L1123.31,1028.44 L1113.67,1018.92 L1103.91,1009.53 L1094.04,1000.25 L1084.06,991.09 L1073.95,982.06 L1063.73,973.14 L1053.39,964.34 L1042.94,955.66 L1032.37,947.1 L1021.68,938.66 L1010.87,930.34 L999.95,922.14 L988.92,914.06 L977.76,906.1 L966.49,898.26 L955.1,890.54 L943.6,882.93 L931.98,875.45 L920.24,868.09 L908.39,860.85 L896.41,853.72 L895.89,854.61 L895.38,855.5 L894.87,856.39 L906.91,863.39 L918.83,870.51 L930.62,877.76 L942.28,885.14 L953.81,892.64 L965.22,900.28 L976.5,908.04 L987.66,915.93 L998.69,923.95 L1009.59,932.09 L1020.36,940.37 L1031.01,948.77 L1041.53,957.3 L1051.92,965.96 L1062.19,974.74 L1072.33,983.66 L1082.34,992.7 L1092.23,1001.87 L1101.99,1011.17 L1111.62,1020.59 L1121.13,1030.14 L1130.5,1039.83 L1139.76,1049.64 L1148.88,1059.57 L1157.88,1069.64 L1166.75,1079.83 L1175.49,1090.15 L1184.11,1100.6 L1192.6,1111.18 L1200.96,1121.88 L1209.2,1132.72 L1217.31,1143.68 L1225.29,1154.77 L1233.15,1165.98 L1240.88,1177.33 L1248.48,1188.8 L1255.95,1200.4 L1263.3,1212.13 L1270.52,1223.99 L1277.62,1235.97 L1279.85,1234.66 L1282.06,1233.32Z" fill="#d8d8d8" stroke="#d8d8d8"/>
<path d="M1277.62,1235.97 L1270.52,1223.99 L1263.29,1212.15 L1255.93,1200.44 L1248.44,1188.86 L1240.82,1177.43 L1233.07,1166.13 L1225.19,1154.96 L1217.17,1143.93 L1209.02,1133.04 L1200.75,1122.28 L1192.34,1111.65 L1183.8,1101.17 L1175.12,1090.82 L1166.32,1080.6 L1157.39,1070.52 L1148.32,1060.58 L1139.12,1050.77 L1129.8,1041.1 L1120.34,1031.56 L1110.75,1022.16 L1101.03,1012.9 L1091.17,1003.77 L1081.19,994.78 L1071.07,985.92 L1060.83,977.2 L1050.45,968.62 L1039.94,960.17 L1029.3,951.85 L1018.52,943.68 L1007.62,935.63 L996.59,927.73 L985.42,919.96 L974.12,912.32 L962.7,904.83 L951.14,897.46 L939.45,890.24 L927.62,883.15 L915.67,876.19 L903.59,869.37 L891.37,862.69 L890.72,863.9 L890.08,865.11 L889.44,866.32 L901.75,872.83 L913.92,879.48 L925.94,886.28 L937.82,893.22 L949.56,900.31 L961.15,907.54 L972.61,914.92 L983.92,922.44 L995.09,930.11 L1006.12,937.92 L1017,945.88 L1027.75,953.98 L1038.35,962.23 L1048.81,970.62 L1059.12,979.16 L1069.3,987.84 L1079.33,996.67 L1089.22,1005.65 L1098.97,1014.76 L1108.58,1024.03 L1118.04,1033.44 L1127.36,1042.99 L1136.54,1052.69 L1145.58,1062.54 L1154.48,1072.53 L1163.23,1082.66 L1171.84,1092.94 L1180.31,1103.37 L1188.64,1113.94 L1196.83,1124.65 L1204.87,1135.51 L1212.77,1146.52 L1220.53,1157.67 L1228.15,1168.96 L1235.62,1180.41 L1242.96,1191.99 L1250.15,1203.72 L1257.19,1215.6 L1264.1,1227.62 L1270.87,1239.79 L1273.13,1238.54 L1275.38,1237.26Z" fill="#d8d8d8" stroke="#d8d8d8"/>
<path d="M1270.87,1239.79 L1264.09,1227.64 L1257.17,1215.66 L1250.09,1203.85 L1242.85,1192.22 L1235.46,1180.75 L1227.91,1169.47 L1220.21,1158.35 L1212.36,1147.41 L1204.34,1136.64 L1196.18,1126.05 L1187.85,1115.63 L1179.38,1105.38 L1170.75,1095.3 L1161.96,1085.4 L1153.02,1075.67 L1143.92,1066.12 L1134.67,1056.73 L1125.26,1047.52 L1115.69,1038.49 L1105.98,1029.62 L1096.1,1020.93 L1086.08,1012.42 L1075.89,1004.07 L1065.55,995.9 L1055.06,987.9 L1044.41,980.08 L1033.61,972.43 L1022.65,964.95 L1011.53,957.64 L1000.26,950.51 L988.84,943.55 L977.26,936.76 L965.53,930.15 L953.64,923.71 L941.59,917.44 L929.39,911.35 L917.04,905.43 L904.53,899.68 L891.86,894.11 L879.04,888.71 L878.52,889.98 L878.01,891.25 L877.5,892.52 L890.39,897.74 L903.12,903.14 L915.68,908.72 L928.08,914.48 L940.31,920.42 L952.37,926.55 L964.27,932.86 L976,939.35 L987.57,946.03 L998.97,952.88 L1010.21,959.92 L1021.28,967.14 L1032.18,974.55 L1042.92,982.13 L1053.49,989.9 L1063.9,997.85 L1074.14,1005.99 L1084.22,1014.3 L1094.13,1022.8 L1103.88,1031.48 L1113.46,1040.35 L1122.87,1049.39 L1132.12,1058.62 L1141.2,1068.03 L1150.12,1077.63 L1158.87,1087.4 L1167.46,1097.36 L1175.88,1107.5 L1184.13,1117.82 L1192.22,1128.33 L1200.15,1139.02 L1207.91,1149.89 L1215.5,1160.94 L1222.93,1172.17 L1230.19,1183.59 L1237.28,1195.19 L1244.21,1206.97 L1250.98,1218.94 L1257.58,1231.08 L1264.01,1243.41 L1266.31,1242.23 L1268.59,1241.02Z" fill="#d8d8d8" stroke="#d8d8d8"/>
<path d="M1264.01,1243.41 L1257.57,1231.09 L1250.96,1218.98 L1244.18,1207.06 L1237.23,1195.35 L1230.1,1183.83 L1222.8,1172.52 L1215.33,1161.41 L1207.68,1150.51 L1199.86,1139.8 L1191.87,1129.3 L1183.71,1118.99 L1175.38,1108.89 L1166.87,1098.99 L1158.19,1089.3 L1149.33,1079.8 L1140.31,1070.51 L1131.11,1061.42 L1121.74,1052.53 L1112.2,1043.84 L1102.48,1035.35 L1092.59,1027.07 L1082.53,1018.99 L1072.3,1011.11 L1061.89,1003.43 L1051.31,995.95 L1040.56,988.67 L1029.63,981.6 L1018.54,974.73 L1007.27,968.06 L995.83,961.59 L984.21,955.32 L972.42,949.26 L960.46,943.39 L948.33,937.73 L936.03,932.27 L923.55,927.02 L910.9,921.96 L898.07,917.11 L885.08,912.45 L871.91,908 L871.49,909.31 L871.07,910.61 L870.66,911.92 L883.88,916.18 L896.93,920.65 L909.79,925.33 L922.46,930.22 L934.96,935.33 L947.27,940.64 L959.4,946.17 L971.34,951.9 L983.11,957.85 L994.69,964.01 L1006.08,970.38 L1017.3,976.96 L1028.33,983.75 L1039.18,990.75 L1049.84,997.96 L1060.32,1005.39 L1070.62,1013.02 L1080.74,1020.87 L1090.68,1028.92 L1100.43,1037.19 L1110,1045.67 L1119.38,1054.36 L1128.58,1063.26 L1137.6,1072.37 L1146.44,1081.7 L1155.1,1091.23 L1163.57,1100.97 L1171.86,1110.93 L1179.96,1121.1 L1187.88,1131.47 L1195.62,1142.06 L1203.18,1152.86 L1210.56,1163.87 L1217.75,1175.09 L1224.75,1186.52 L1231.58,1198.17 L1238.22,1210.02 L1244.68,1222.09 L1250.96,1234.36 L1257.05,1246.85 L1259.38,1245.73 L1261.7,1244.58Z" fill="#d8d8d8" stroke="#d8d8d8"/>
<path d="M1257.05,1246.85 L1250.95,1234.39 L1244.66,1222.21 L1238.16,1210.29 L1231.48,1198.65 L1224.59,1187.28 L1217.51,1176.18 L1210.23,1165.35 L1202.76,1154.79 L1195.09,1144.5 L1187.23,1134.48 L1179.17,1124.74 L1170.91,1115.27 L1162.46,1106.06 L1153.81,1097.13 L1144.97,1088.47 L1135.93,1080.08 L1126.69,1071.97 L1117.26,1064.12 L1107.63,1056.54 L1097.81,1049.24 L1087.79,1042.21 L1077.58,1035.45 L1067.16,1028.96 L1056.56,1022.74 L1045.75,1016.79 L1034.75,1011.11 L1023.56,1005.71 L1012.17,1000.57 L1000.58,995.71 L988.8,991.12 L976.82,986.8 L964.64,982.75 L952.27,978.97 L939.71,975.46 L926.94,972.23 L913.98,969.26 L900.83,966.57 L887.48,964.14 L873.93,961.99 L860.19,960.11 L860.02,961.48 L859.86,962.84 L859.71,964.2 L873.47,965.88 L887.02,967.84 L900.38,970.08 L913.52,972.6 L926.46,975.4 L939.2,978.49 L951.73,981.85 L964.05,985.49 L976.17,989.41 L988.08,993.62 L999.79,998.1 L1011.3,1002.87 L1022.59,1007.91 L1033.69,1013.24 L1044.57,1018.84 L1055.26,1024.73 L1065.73,1030.89 L1076,1037.34 L1086.07,1044.07 L1095.93,1051.07 L1105.58,1058.36 L1115.03,1065.93 L1124.28,1073.78 L1133.32,1081.9 L1142.15,1090.31 L1150.78,1099 L1159.2,1107.97 L1167.42,1117.22 L1175.43,1126.75 L1183.24,1136.56 L1190.84,1146.65 L1198.23,1157.03 L1205.42,1167.68 L1212.41,1178.61 L1219.19,1189.82 L1225.76,1201.31 L1232.13,1213.09 L1238.3,1225.14 L1244.25,1237.47 L1250.01,1250.09 L1252.37,1249.03 L1254.72,1247.95Z" fill="#d8d8d8" stroke="#d8d8d8"/>
<path d="M1250.01,1250.09 L1244.25,1237.52 L1238.3,1225.32 L1232.14,1213.48 L1225.77,1202.01 L1219.2,1190.91 L1212.43,1180.18 L1205.45,1169.81 L1198.27,1159.82 L1190.89,1150.19 L1183.3,1140.92 L1175.51,1132.03 L1167.51,1123.5 L1159.31,1115.34 L1150.9,1107.55 L1142.29,1100.12 L1133.48,1093.07 L1124.46,1086.38 L1115.24,1080.05 L1105.82,1074.1 L1096.19,1068.51 L1086.35,1063.29 L1076.31,1058.44 L1066.07,1053.96 L1055.63,1049.84 L1044.98,1046.09 L1034.12,1042.71 L1023.06,1039.7 L1011.8,1037.05 L1000.33,1034.77 L988.66,1032.86 L976.79,1031.32 L964.71,1030.14 L952.43,1029.33 L939.94,1028.89 L927.25,1028.82 L914.35,1029.11 L901.26,1029.77 L887.95,1030.8 L874.45,1032.2 L860.73,1033.97 L860.93,1035.32 L861.13,1036.68 L861.34,1038.04 L875.02,1036.07 L888.48,1034.48 L901.73,1033.27 L914.77,1032.44 L927.6,1031.98 L940.22,1031.9 L952.62,1032.2 L964.81,1032.87 L976.79,1033.92 L988.56,1035.34 L1000.11,1037.14 L1011.45,1039.32 L1022.58,1041.87 L1033.5,1044.8 L1044.21,1048.11 L1054.7,1051.79 L1064.98,1055.85 L1075.05,1060.29 L1084.91,1065.1 L1094.55,1070.29 L1103.99,1075.86 L1113.21,1081.8 L1122.21,1088.12 L1131.01,1094.81 L1139.59,1101.88 L1147.96,1109.33 L1156.12,1117.16 L1164.07,1125.36 L1171.8,1133.94 L1179.32,1142.89 L1186.63,1152.22 L1193.73,1161.93 L1200.62,1172.01 L1207.29,1182.47 L1213.75,1193.3 L1220,1204.52 L1226.04,1216.11 L1231.86,1228.07 L1237.47,1240.41 L1242.87,1253.13 L1245.26,1252.14 L1247.64,1251.13Z" fill="#d8d8d8" stroke="#d8d8d8"/>
<path d="M1242.87,1253.13 L1237.47,1240.42 L1231.87,1228.12 L1226.06,1216.21 L1220.03,1204.7 L1213.81,1193.59 L1207.37,1182.88 L1200.72,1172.57 L1193.87,1162.65 L1186.81,1153.14 L1179.54,1144.03 L1172.06,1135.31 L1164.38,1126.99 L1156.49,1119.08 L1148.39,1111.56 L1140.08,1104.44 L1131.56,1097.72 L1122.84,1091.4 L1113.91,1085.48 L1104.77,1079.96 L1095.42,1074.84 L1085.86,1070.12 L1076.1,1065.79 L1066.13,1061.87 L1055.95,1058.34 L1045.56,1055.22 L1034.96,1052.49 L1024.16,1050.16 L1013.15,1048.23 L1001.93,1046.7 L990.5,1045.57 L978.87,1044.84 L967.03,1044.51 L954.98,1044.58 L942.72,1045.04 L930.25,1045.91 L917.58,1047.17 L904.69,1048.84 L891.6,1050.9 L878.31,1053.36 L864.8,1056.22 L865.26,1058.23 L865.73,1060.23 L866.22,1062.23 L879.65,1059.07 L892.87,1056.33 L905.87,1053.99 L918.66,1052.07 L931.23,1050.55 L943.58,1049.45 L955.72,1048.75 L967.65,1048.47 L979.36,1048.59 L990.85,1049.13 L1002.13,1050.07 L1013.2,1051.43 L1024.05,1053.2 L1034.68,1055.37 L1045.1,1057.96 L1055.3,1060.96 L1065.29,1064.37 L1075.07,1068.18 L1084.63,1072.41 L1093.97,1077.05 L1103.1,1082.1 L1112.01,1087.56 L1120.71,1093.43 L1129.19,1099.71 L1137.46,1106.4 L1145.51,1113.5 L1153.35,1121.01 L1160.97,1128.93 L1168.38,1137.26 L1175.57,1146 L1182.55,1155.15 L1189.31,1164.71 L1195.85,1174.69 L1202.19,1185.07 L1208.3,1195.86 L1214.2,1207.06 L1219.89,1218.68 L1225.36,1230.7 L1230.62,1243.13 L1235.66,1255.98 L1238.07,1255.05 L1240.48,1254.1Z" fill="#d8d8d8" stroke="#d8d8d8"/>
<path d="M1235.66,1255.98 L1230.65,1243.2 L1225.5,1230.97 L1220.2,1219.29 L1214.75,1208.16 L1209.16,1197.57 L1203.42,1187.53 L1197.54,1178.04 L1191.5,1169.09 L1185.32,1160.69 L1179,1152.84 L1172.53,1145.54 L1165.91,1138.78 L1159.14,1132.57 L1152.23,1126.91 L1145.17,1121.79 L1137.97,1117.22 L1130.62,1113.2 L1123.12,1109.73 L1115.48,1106.8 L1107.69,1104.42 L1099.75,1102.58 L1091.66,1101.3 L1083.43,1100.56 L1075.06,1100.37 L1066.53,1100.72 L1057.86,1101.62 L1049.04,1103.07 L1040.08,1105.07 L1030.97,1107.61 L1021.71,1110.7 L1012.31,1114.34 L1002.76,1118.53 L993.06,1123.26 L983.22,1128.54 L973.23,1134.36 L963.1,1140.73 L952.81,1147.65 L942.38,1155.12 L931.81,1163.14 L921.09,1171.7 L923.72,1174.86 L926.39,1177.99 L929.11,1181.08 L939.43,1172.05 L949.61,1163.59 L959.64,1155.69 L969.52,1148.36 L979.26,1141.58 L988.86,1135.37 L998.3,1129.72 L1007.61,1124.63 L1016.76,1120.11 L1025.77,1116.14 L1034.64,1112.74 L1043.36,1109.9 L1051.93,1107.62 L1060.36,1105.91 L1068.64,1104.76 L1076.78,1104.17 L1084.77,1104.14 L1092.62,1104.67 L1100.31,1105.77 L1107.87,1107.42 L1115.28,1109.64 L1122.54,1112.42 L1129.66,1115.77 L1136.63,1119.67 L1143.45,1124.14 L1150.13,1129.17 L1156.67,1134.76 L1163.06,1140.92 L1169.3,1147.64 L1175.4,1154.91 L1181.35,1162.75 L1187.16,1171.16 L1192.82,1180.12 L1198.33,1189.65 L1203.7,1199.74 L1208.93,1210.39 L1214,1221.6 L1218.94,1233.38 L1223.72,1245.72 L1228.36,1258.62 L1230.8,1257.76 L1233.23,1256.88Z" fill="#d8d8d8" stroke="#d8d8d8"/>
<path d="M1228.36,1258.62 L1223.77,1245.76 L1219.14,1233.54 L1214.47,1221.96 L1209.75,1211.02 L1205,1200.73 L1200.2,1191.08 L1195.36,1182.06 L1190.47,1173.69 L1185.55,1165.96 L1180.58,1158.87 L1175.57,1152.43 L1170.52,1146.62 L1165.42,1141.46 L1160.29,1136.93 L1155.11,1133.05 L1149.89,1129.81 L1144.63,1127.21 L1139.32,1125.25 L1133.98,1123.94 L1128.59,1123.26 L1123.16,1123.23 L1117.69,1123.83 L1112.17,1125.08 L1106.61,1126.97 L1101.02,1129.5 L1095.37,1132.68 L1089.69,1136.49 L1083.97,1140.94 L1078.2,1146.04 L1072.39,1151.78 L1066.54,1158.16 L1060.65,1165.18 L1054.71,1172.84 L1048.74,1181.14 L1042.72,1190.09 L1036.66,1199.67 L1030.55,1209.9 L1024.41,1220.77 L1018.22,1232.28 L1011.99,1244.43 L1013.83,1245.34 L1015.68,1246.24 L1017.54,1247.13 L1023.49,1234.85 L1029.4,1223.21 L1035.26,1212.23 L1041.08,1201.89 L1046.85,1192.19 L1052.58,1183.15 L1058.26,1174.75 L1063.9,1167.01 L1069.5,1159.9 L1075.05,1153.45 L1080.56,1147.65 L1086.02,1142.49 L1091.44,1137.98 L1096.82,1134.12 L1102.15,1130.9 L1107.43,1128.34 L1112.68,1126.42 L1117.87,1125.15 L1123.03,1124.52 L1128.13,1124.55 L1133.2,1125.22 L1138.22,1126.54 L1143.19,1128.51 L1148.13,1131.12 L1153.01,1134.38 L1157.86,1138.29 L1162.65,1142.85 L1167.41,1148.06 L1172.12,1153.91 L1176.78,1160.41 L1181.4,1167.56 L1185.98,1175.36 L1190.51,1183.8 L1195,1192.9 L1199.45,1202.64 L1203.85,1213.03 L1208.2,1224.06 L1212.51,1235.74 L1216.78,1248.08 L1221,1261.05 L1223.46,1260.26 L1225.92,1259.45Z" fill="#d8d8d8" stroke="#d8d8d8"/>
<path d="M1221,1261.05 L1216.81,1248.09 L1212.66,1235.79 L1208.53,1224.17 L1204.43,1213.23 L1200.36,1202.95 L1196.31,1193.35 L1192.3,1184.42 L1188.31,1176.16 L1184.35,1168.58 L1180.42,1161.67 L1176.52,1155.43 L1172.65,1149.86 L1168.81,1144.97 L1164.99,1140.75 L1161.2,1137.21 L1157.44,1134.33 L1153.71,1132.13 L1150.01,1130.6 L1146.34,1129.75 L1142.69,1129.56 L1139.08,1130.05 L1135.49,1131.22 L1131.93,1133.05 L1128.4,1135.56 L1124.9,1138.74 L1121.42,1142.6 L1117.98,1147.12 L1114.56,1152.32 L1111.17,1158.2 L1107.81,1164.74 L1104.48,1171.96 L1101.18,1179.85 L1097.9,1188.41 L1094.66,1197.65 L1091.44,1207.56 L1088.25,1218.14 L1085.09,1229.4 L1081.96,1241.33 L1078.85,1253.93 L1075.78,1267.2 L1079.8,1268.07 L1083.83,1268.89 L1087.88,1269.64 L1090.35,1256.25 L1092.86,1243.53 L1095.4,1231.5 L1097.98,1220.14 L1100.59,1209.46 L1103.23,1199.46 L1105.91,1190.14 L1108.62,1181.5 L1111.37,1173.54 L1114.15,1166.25 L1116.97,1159.65 L1119.82,1153.72 L1122.71,1148.47 L1125.63,1143.9 L1128.58,1140.01 L1131.57,1136.8 L1134.59,1134.26 L1137.65,1132.41 L1140.74,1131.23 L1143.86,1130.73 L1147.02,1130.91 L1150.22,1131.77 L1153.44,1133.31 L1156.71,1135.53 L1160,1138.42 L1163.33,1141.99 L1166.7,1146.25 L1170.1,1151.18 L1173.53,1156.79 L1177,1163.08 L1180.5,1170.04 L1184.04,1177.69 L1187.61,1186.01 L1191.22,1195.02 L1194.86,1204.7 L1198.53,1215.06 L1202.24,1226.1 L1205.98,1237.82 L1209.76,1250.21 L1213.57,1263.29 L1216.05,1262.57 L1218.53,1261.82Z" fill="#d8d8d8" stroke="#d8d8d8"/>
<path d="M1213.57,1263.29 L1209.78,1249.87 L1206.04,1236.43 L1202.38,1222.99 L1198.78,1209.53 L1195.24,1196.06 L1191.77,1182.58 L1188.36,1169.09 L1185.02,1155.59 L1181.74,1142.07 L1178.53,1128.54 L1175.38,1115 L1172.3,1101.45 L1169.28,1087.88 L1166.33,1074.31 L1163.44,1060.72 L1160.62,1047.12 L1157.86,1033.51 L1155.17,1019.88 L1152.54,1006.24 L1149.98,992.59 L1147.48,978.93 L1145.05,965.26 L1142.68,951.58 L1140.37,937.88 L1138.14,924.17 L1135.96,910.45 L1133.85,896.72 L1131.81,882.97 L1129.83,869.21 L1127.92,855.44 L1126.07,841.66 L1124.28,827.87 L1122.56,814.06 L1120.91,800.25 L1119.32,786.42 L1117.79,772.58 L1116.33,758.72 L1114.94,744.86 L1113.61,730.98 L1112.34,717.09 L1108.25,717.49 L1104.16,717.94 L1100.07,718.45 L1101.94,732.28 L1103.85,746.09 L1105.79,759.9 L1107.78,773.7 L1109.81,787.49 L1111.87,801.28 L1113.98,815.05 L1116.13,828.82 L1118.32,842.58 L1120.55,856.34 L1122.81,870.08 L1125.12,883.82 L1127.47,897.55 L1129.86,911.27 L1132.29,924.99 L1134.76,938.69 L1137.27,952.39 L1139.82,966.08 L1142.41,979.77 L1145.04,993.44 L1147.71,1007.11 L1150.42,1020.77 L1153.17,1034.42 L1155.96,1048.06 L1158.79,1061.7 L1161.66,1075.33 L1164.58,1088.95 L1167.53,1102.56 L1170.52,1116.17 L1173.55,1129.77 L1176.62,1143.36 L1179.74,1156.94 L1182.89,1170.51 L1186.08,1184.08 L1189.32,1197.64 L1192.59,1211.19 L1195.9,1224.73 L1199.26,1238.26 L1202.65,1251.79 L1206.08,1265.31 L1208.59,1264.66 L1211.08,1263.98Z" fill="#ad7dc1" stroke="#ad7dc1"/>
<path d="M1206.08,1265.31 L1202.6,1251.81 L1199.06,1238.32 L1195.47,1224.85 L1191.82,1211.41 L1188.11,1197.98 L1184.35,1184.57 L1180.53,1171.18 L1176.66,1157.81 L1172.73,1144.46 L1168.74,1131.13 L1164.7,1117.82 L1160.6,1104.53 L1156.45,1091.26 L1152.24,1078 L1147.97,1064.77 L1143.65,1051.56 L1139.28,1038.36 L1134.84,1025.19 L1130.35,1012.04 L1125.81,998.9 L1121.21,985.78 L1116.55,972.69 L1111.83,959.61 L1107.07,946.55 L1102.24,933.52 L1097.36,920.5 L1092.42,907.5 L1087.43,894.52 L1082.38,881.56 L1077.27,868.62 L1072.11,855.7 L1066.9,842.8 L1061.62,829.92 L1056.29,817.05 L1050.91,804.21 L1045.47,791.39 L1039.97,778.58 L1034.42,765.8 L1028.81,753.03 L1023.14,740.29 L1021.27,741.14 L1019.4,742 L1017.54,742.87 L1023.47,755.49 L1029.34,768.13 L1035.13,780.8 L1040.85,793.5 L1046.5,806.21 L1052.07,818.96 L1057.58,831.73 L1063.01,844.52 L1068.36,857.34 L1073.65,870.18 L1078.86,883.05 L1084,895.95 L1089.07,908.87 L1094.07,921.81 L1098.99,934.78 L1103.84,947.77 L1108.62,960.79 L1113.33,973.84 L1117.96,986.91 L1122.52,1000 L1127.01,1013.12 L1131.43,1026.26 L1135.77,1039.43 L1140.04,1052.63 L1144.24,1065.84 L1148.37,1079.09 L1152.42,1092.36 L1156.4,1105.65 L1160.31,1118.97 L1164.15,1132.31 L1167.92,1145.68 L1171.61,1159.08 L1175.23,1172.5 L1178.78,1185.94 L1182.25,1199.41 L1185.66,1212.9 L1188.99,1226.42 L1192.24,1239.96 L1195.43,1253.53 L1198.54,1267.13 L1201.06,1266.55 L1203.58,1265.94Z" fill="#ad7dc1" stroke="#ad7dc1"/>
<path d="M1198.54,1267.13 L1195.43,1253.54 L1192.23,1239.97 L1188.94,1226.44 L1185.58,1212.94 L1182.14,1199.46 L1178.61,1186.02 L1175,1172.61 L1171.31,1159.22 L1167.54,1145.87 L1163.69,1132.54 L1159.76,1119.24 L1155.74,1105.98 L1151.64,1092.74 L1147.46,1079.53 L1143.2,1066.35 L1138.86,1053.21 L1134.44,1040.09 L1129.93,1027 L1125.34,1013.94 L1120.67,1000.91 L1115.92,987.91 L1111.09,974.94 L1106.18,961.99 L1101.18,949.08 L1096.11,936.2 L1090.95,923.35 L1085.71,910.52 L1080.38,897.73 L1074.98,884.96 L1069.5,872.23 L1063.93,859.52 L1058.28,846.85 L1052.55,834.2 L1046.74,821.58 L1040.84,809 L1034.87,796.44 L1028.81,783.91 L1022.67,771.41 L1016.45,758.94 L1010.15,746.5 L1008.93,747.13 L1007.72,747.76 L1006.5,748.4 L1012.98,760.75 L1019.36,773.13 L1025.65,785.54 L1031.84,797.99 L1037.93,810.47 L1043.93,822.99 L1049.83,835.54 L1055.64,848.13 L1061.35,860.74 L1066.97,873.4 L1072.49,886.08 L1077.91,898.8 L1083.24,911.56 L1088.47,924.34 L1093.61,937.17 L1098.65,950.02 L1103.6,962.91 L1108.45,975.83 L1113.21,988.79 L1117.86,1001.78 L1122.43,1014.81 L1126.9,1027.87 L1131.27,1040.96 L1135.54,1054.09 L1139.72,1067.25 L1143.81,1080.44 L1147.8,1093.67 L1151.69,1106.94 L1155.49,1120.23 L1159.19,1133.56 L1162.8,1146.93 L1166.31,1160.33 L1169.73,1173.76 L1173.05,1187.22 L1176.27,1200.72 L1179.4,1214.26 L1182.43,1227.83 L1185.37,1241.43 L1188.21,1255.06 L1190.95,1268.73 L1193.49,1268.22 L1196.02,1267.69Z" fill="#ad7dc1" stroke="#ad7dc1"/>
<path d="M1190.95,1268.73 L1188.16,1255.1 L1185.18,1241.57 L1182.01,1228.15 L1178.65,1214.84 L1175.09,1201.63 L1171.35,1188.53 L1167.42,1175.54 L1163.3,1162.65 L1158.99,1149.88 L1154.49,1137.2 L1149.8,1124.64 L1144.91,1112.18 L1139.84,1099.82 L1134.58,1087.58 L1129.13,1075.44 L1123.49,1063.41 L1117.66,1051.48 L1111.64,1039.66 L1105.43,1027.95 L1099.03,1016.34 L1092.45,1004.84 L1085.67,993.45 L1078.7,982.17 L1071.54,970.99 L1064.19,959.91 L1056.65,948.95 L1048.92,938.09 L1041.01,927.34 L1032.9,916.69 L1024.6,906.15 L1016.11,895.72 L1007.44,885.4 L998.57,875.18 L989.51,865.07 L980.27,855.06 L970.83,845.16 L961.2,835.37 L951.39,825.69 L941.38,816.11 L931.18,806.64 L930.49,807.4 L929.8,808.16 L929.11,808.92 L939.41,818.28 L949.5,827.76 L959.39,837.34 L969.07,847.03 L978.56,856.84 L987.84,866.75 L996.93,876.78 L1005.81,886.92 L1014.48,897.17 L1022.96,907.53 L1031.23,918 L1039.3,928.58 L1047.17,939.28 L1054.84,950.09 L1062.31,961 L1069.57,972.03 L1076.63,983.17 L1083.49,994.43 L1090.15,1005.79 L1096.61,1017.26 L1102.86,1028.85 L1108.92,1040.55 L1114.77,1052.35 L1120.41,1064.27 L1125.86,1076.3 L1131.11,1088.45 L1136.15,1100.7 L1140.99,1113.07 L1145.63,1125.54 L1150.06,1138.13 L1154.3,1150.83 L1158.33,1163.64 L1162.16,1176.56 L1165.79,1189.59 L1169.22,1202.74 L1172.44,1215.99 L1175.47,1229.36 L1178.29,1242.84 L1180.91,1256.43 L1183.32,1270.13 L1185.87,1269.69 L1188.42,1269.22Z" fill="#ad7dc1" stroke="#ad7dc1"/>
<path d="M1183.32,1270.13 L1180.89,1256.46 L1178.2,1242.96 L1175.27,1229.63 L1172.1,1216.47 L1168.68,1203.48 L1165.02,1190.66 L1161.11,1178.01 L1156.96,1165.54 L1152.57,1153.23 L1147.92,1141.1 L1143.04,1129.13 L1137.91,1117.34 L1132.53,1105.71 L1126.91,1094.26 L1121.05,1082.98 L1114.94,1071.87 L1108.58,1060.93 L1101.98,1050.16 L1095.14,1039.56 L1088.05,1029.13 L1080.71,1018.87 L1073.14,1008.78 L1065.31,998.87 L1057.24,989.12 L1048.93,979.55 L1040.37,970.14 L1031.57,960.91 L1022.52,951.84 L1013.23,942.95 L1003.7,934.23 L993.91,925.68 L983.89,917.3 L973.62,909.09 L963.1,901.05 L952.34,893.18 L941.33,885.48 L930.08,877.95 L918.59,870.59 L906.85,863.41 L894.87,856.39 L894.36,857.29 L893.85,858.18 L893.35,859.08 L905.4,865.96 L917.2,873.02 L928.74,880.26 L940.03,887.67 L951.06,895.25 L961.83,903.01 L972.35,910.95 L982.61,919.06 L992.61,927.35 L1002.36,935.81 L1011.85,944.45 L1021.09,953.27 L1030.07,962.26 L1038.79,971.42 L1047.26,980.76 L1055.47,990.28 L1063.43,999.97 L1071.12,1009.84 L1078.57,1019.88 L1085.75,1030.1 L1092.68,1040.49 L1099.35,1051.06 L1105.77,1061.8 L1111.93,1072.72 L1117.84,1083.82 L1123.49,1095.09 L1128.88,1106.54 L1134.01,1118.16 L1138.89,1129.96 L1143.52,1141.93 L1147.88,1154.08 L1152,1166.4 L1155.85,1178.9 L1159.45,1191.57 L1162.79,1204.43 L1165.88,1217.45 L1168.71,1230.65 L1171.28,1244.03 L1173.6,1257.58 L1175.66,1271.31 L1178.22,1270.94 L1180.77,1270.54Z" fill="#ad7dc1" stroke="#ad7dc1"/>
<path d="M1175.66,1271.31 L1173.6,1257.59 L1171.27,1244.05 L1168.68,1230.69 L1165.84,1217.52 L1162.73,1204.54 L1159.36,1191.74 L1155.73,1179.12 L1151.84,1166.69 L1147.69,1154.44 L1143.27,1142.38 L1138.6,1130.5 L1133.66,1118.81 L1128.47,1107.3 L1123.01,1095.98 L1117.29,1084.84 L1111.31,1073.88 L1105.07,1063.11 L1098.56,1052.53 L1091.8,1042.13 L1084.78,1031.91 L1077.49,1021.88 L1069.94,1012.03 L1062.13,1002.36 L1054.07,992.89 L1045.74,983.59 L1037.14,974.48 L1028.29,965.56 L1019.18,956.82 L1009.8,948.26 L1000.17,939.89 L990.27,931.7 L980.11,923.7 L969.69,915.88 L959.01,908.25 L948.07,900.8 L936.87,893.54 L925.4,886.46 L913.68,879.56 L901.69,872.85 L889.44,866.32 L888.82,867.54 L888.19,868.76 L887.57,869.99 L899.91,876.34 L911.97,882.87 L923.76,889.6 L935.27,896.51 L946.52,903.62 L957.49,910.92 L968.18,918.41 L978.61,926.08 L988.76,933.95 L998.63,942.01 L1008.24,950.26 L1017.57,958.7 L1026.63,967.33 L1035.41,976.15 L1043.92,985.16 L1052.16,994.36 L1060.13,1003.75 L1067.82,1013.33 L1075.24,1023.1 L1082.38,1033.07 L1089.26,1043.22 L1095.86,1053.56 L1102.18,1064.09 L1108.24,1074.82 L1114.02,1085.73 L1119.53,1096.84 L1124.76,1108.13 L1129.72,1119.61 L1134.41,1131.29 L1138.83,1143.15 L1142.97,1155.21 L1146.84,1167.46 L1150.44,1179.89 L1153.76,1192.52 L1156.81,1205.34 L1159.59,1218.34 L1162.09,1231.54 L1164.32,1244.93 L1166.28,1258.51 L1167.96,1272.28 L1170.53,1271.98 L1173.1,1271.66Z" fill="#ad7dc1" stroke="#ad7dc1"/>
<path d="M1167.96,1272.28 L1166.28,1258.51 L1164.32,1244.93 L1162.09,1231.54 L1159.59,1218.34 L1156.81,1205.34 L1153.76,1192.52 L1150.44,1179.89 L1146.84,1167.46 L1142.97,1155.21 L1138.83,1143.15 L1134.41,1131.29 L1129.72,1119.61 L1124.76,1108.13 L1119.53,1096.84 L1114.02,1085.73 L1108.24,1074.82 L1102.18,1064.09 L1095.86,1053.56 L1089.26,1043.22 L1082.38,1033.07 L1075.24,1023.1 L1067.82,1013.33 L1060.13,1003.75 L1052.16,994.36 L1043.92,985.16 L1035.41,976.15 L1026.63,967.33 L1017.57,958.7 L1008.24,950.26 L998.63,942.01 L988.76,933.95 L978.61,926.08 L968.18,918.41 L957.49,910.92 L946.52,903.62 L935.27,896.51 L923.76,889.6 L911.97,882.87 L899.91,876.34 L887.57,869.99 L885.76,873.68 L884,877.4 L882.29,881.14 L894.88,886.94 L907.18,892.94 L919.19,899.15 L930.92,905.56 L942.35,912.17 L953.49,919 L964.35,926.02 L974.91,933.25 L985.19,940.69 L995.18,948.33 L1004.88,956.18 L1014.28,964.23 L1023.4,972.49 L1032.23,980.95 L1040.77,989.62 L1049.02,998.5 L1056.98,1007.58 L1064.66,1016.86 L1072.04,1026.35 L1079.13,1036.04 L1085.94,1045.94 L1092.45,1056.05 L1098.68,1066.36 L1104.61,1076.87 L1110.26,1087.59 L1115.62,1098.52 L1120.69,1109.65 L1125.47,1120.99 L1129.95,1132.53 L1134.15,1144.28 L1138.07,1156.23 L1141.69,1168.39 L1145.02,1180.75 L1148.06,1193.32 L1150.82,1206.09 L1153.28,1219.07 L1155.45,1232.25 L1157.34,1245.64 L1158.94,1259.23 L1160.24,1273.03 L1162.82,1272.8 L1165.39,1272.55Z" fill="#ad7dc1" stroke="#ad7dc1"/>
<path d="M1160.24,1273.03 L1158.93,1259.25 L1157.31,1245.71 L1155.39,1232.42 L1153.16,1219.37 L1150.63,1206.57 L1147.8,1194.01 L1144.66,1181.69 L1141.22,1169.62 L1137.48,1157.79 L1133.43,1146.2 L1129.07,1134.86 L1124.42,1123.76 L1119.46,1112.9 L1114.19,1102.29 L1108.62,1091.92 L1102.75,1081.8 L1096.58,1071.92 L1090.1,1062.28 L1083.31,1052.89 L1076.22,1043.74 L1068.83,1034.83 L1061.14,1026.17 L1053.14,1017.75 L1044.84,1009.58 L1036.23,1001.65 L1027.32,993.96 L1018.1,986.51 L1008.58,979.31 L998.76,972.36 L988.63,965.65 L978.2,959.18 L967.47,952.95 L956.43,946.97 L945.09,941.23 L933.44,935.74 L921.49,930.49 L909.24,925.48 L896.68,920.72 L883.82,916.2 L870.66,911.92 L870.25,913.23 L869.85,914.54 L869.46,915.86 L882.68,919.94 L895.58,924.27 L908.17,928.85 L920.45,933.68 L932.41,938.76 L944.05,944.09 L955.38,949.67 L966.39,955.49 L977.09,961.57 L987.48,967.89 L997.55,974.47 L1007.3,981.29 L1016.74,988.36 L1025.86,995.69 L1034.67,1003.26 L1043.17,1011.08 L1051.35,1019.15 L1059.21,1027.47 L1066.76,1036.04 L1073.99,1044.86 L1080.91,1053.92 L1087.51,1063.24 L1093.8,1072.81 L1099.78,1082.62 L1105.43,1092.69 L1110.78,1103 L1115.81,1113.56 L1120.52,1124.38 L1124.92,1135.44 L1129,1146.75 L1132.77,1158.31 L1136.22,1170.12 L1139.36,1182.18 L1142.18,1194.49 L1144.69,1207.04 L1146.88,1219.85 L1148.76,1232.91 L1150.32,1246.21 L1151.57,1259.77 L1152.51,1273.57 L1155.09,1273.41 L1157.67,1273.23Z" fill="#ad7dc1" stroke="#ad7dc1"/>
<path d="M1152.51,1273.57 L1151.57,1259.81 L1150.3,1246.39 L1148.7,1233.32 L1146.77,1220.58 L1144.51,1208.18 L1141.93,1196.13 L1139.01,1184.41 L1135.77,1173.04 L1132.19,1162 L1128.29,1151.31 L1124.06,1140.96 L1119.49,1130.94 L1114.6,1121.27 L1109.38,1111.94 L1103.83,1102.95 L1097.95,1094.3 L1091.74,1085.99 L1085.21,1078.02 L1078.34,1070.39 L1071.14,1063.1 L1063.62,1056.15 L1055.76,1049.54 L1047.58,1043.28 L1039.07,1037.35 L1030.22,1031.76 L1021.05,1026.52 L1011.55,1021.61 L1001.72,1017.05 L991.56,1012.82 L981.07,1008.94 L970.25,1005.4 L959.1,1002.19 L947.63,999.33 L935.82,996.81 L923.69,994.63 L911.22,992.79 L898.43,991.29 L885.3,990.13 L871.85,989.31 L858.07,988.83 L858.01,992.94 L858.01,997.06 L858.07,1001.17 L871.85,1001.04 L885.28,1001.27 L898.38,1001.85 L911.14,1002.79 L923.56,1004.08 L935.65,1005.73 L947.39,1007.74 L958.79,1010.11 L969.86,1012.83 L980.59,1015.9 L990.97,1019.34 L1001.02,1023.12 L1010.73,1027.27 L1020.1,1031.77 L1029.13,1036.63 L1037.83,1041.84 L1046.18,1047.42 L1054.19,1053.34 L1061.87,1059.63 L1069.21,1066.27 L1076.2,1073.26 L1082.86,1080.61 L1089.18,1088.32 L1095.16,1096.39 L1100.8,1104.81 L1106.11,1113.59 L1111.07,1122.72 L1115.7,1132.21 L1119.98,1142.06 L1123.93,1152.26 L1127.54,1162.82 L1130.81,1173.74 L1133.74,1185.01 L1136.33,1196.64 L1138.58,1208.62 L1140.49,1220.96 L1142.07,1233.66 L1143.3,1246.72 L1144.2,1260.13 L1144.76,1273.89 L1147.34,1273.81 L1149.92,1273.7Z" fill="#ad7dc1" stroke="#ad7dc1"/>
<path d="M1144.76,1273.89 L1144.21,1260.18 L1143.34,1246.91 L1142.14,1234.11 L1140.62,1221.75 L1138.79,1209.86 L1136.62,1198.41 L1134.14,1187.43 L1131.33,1176.89 L1128.21,1166.81 L1124.75,1157.19 L1120.98,1148.02 L1116.89,1139.31 L1112.47,1131.05 L1107.73,1123.25 L1102.66,1115.9 L1097.28,1109.01 L1091.57,1102.57 L1085.54,1096.59 L1079.18,1091.06 L1072.51,1085.98 L1065.51,1081.36 L1058.19,1077.2 L1050.55,1073.49 L1042.58,1070.24 L1034.29,1067.44 L1025.68,1065.09 L1016.75,1063.2 L1007.49,1061.77 L997.92,1060.79 L988.02,1060.27 L977.79,1060.2 L967.25,1060.58 L956.38,1061.42 L945.19,1062.72 L933.68,1064.47 L921.84,1066.67 L909.68,1069.33 L897.2,1072.45 L884.4,1076.02 L871.28,1080.04 L871.91,1082 L872.56,1083.95 L873.22,1085.9 L886.25,1081.58 L898.94,1077.73 L911.31,1074.34 L923.34,1071.42 L935.05,1068.95 L946.42,1066.95 L957.47,1065.41 L968.18,1064.33 L978.57,1063.72 L988.63,1063.57 L998.35,1063.88 L1007.75,1064.65 L1016.82,1065.88 L1025.55,1067.58 L1033.96,1069.74 L1042.04,1072.36 L1049.79,1075.45 L1057.21,1078.99 L1064.3,1083 L1071.06,1087.47 L1077.49,1092.41 L1083.59,1097.8 L1089.36,1103.66 L1094.8,1109.98 L1099.91,1116.77 L1104.69,1124.01 L1109.14,1131.72 L1113.26,1139.89 L1117.05,1148.52 L1120.51,1157.62 L1123.65,1167.18 L1126.45,1177.2 L1128.92,1187.68 L1131.07,1198.62 L1132.88,1210.03 L1134.36,1221.9 L1135.52,1234.23 L1136.34,1247.02 L1136.84,1260.28 L1137,1274 L1139.59,1273.99 L1142.17,1273.95Z" fill="#ad7dc1" stroke="#ad7dc1"/>
</g>
<path d="M1137,716 L1140.68,716.02 L1144.37,716.1 L1148.05,716.22 L1151.73,716.39 L1155.41,716.61 L1159.08,716.88 L1162.75,717.19 L1166.42,717.56 L1170.08,717.97 L1173.74,718.43 L1177.39,718.94 L1181.03,719.5 L1184.66,720.1 L1188.29,720.75 L1191.91,721.46 L1195.51,722.2 L1199.11,723 L1202.7,723.85 L1206.27,724.74 L1209.83,725.67 L1213.38,726.66 L1216.92,727.69 L1220.44,728.77 L1223.95,729.9 L1227.45,731.07 L1230.92,732.28 L1234.38,733.55 L1237.83,734.86 L1241.26,736.21 L1244.66,737.61 L1248.05,739.05 L1251.42,740.54 L1254.77,742.08 L1258.1,743.65 L1261.41,745.27 L1264.7,746.94 L1267.96,748.65 L1271.21,750.4 L1274.42,752.19 L1277.62,754.03 L1291.68,729.93 L1288.17,727.91 L1284.63,725.94 L1281.06,724.01 L1277.47,722.13 L1273.85,720.3 L1270.21,718.52 L1266.55,716.78 L1262.87,715.1 L1259.16,713.46 L1255.43,711.87 L1251.68,710.33 L1247.91,708.84 L1244.12,707.4 L1240.32,706.01 L1236.49,704.67 L1232.65,703.39 L1228.79,702.15 L1224.91,700.96 L1221.02,699.83 L1217.12,698.74 L1213.2,697.71 L1209.27,696.73 L1205.32,695.8 L1201.36,694.93 L1197.4,694.1 L1193.42,693.33 L1189.43,692.61 L1185.43,691.95 L1181.42,691.33 L1177.41,690.77 L1173.39,690.27 L1169.36,689.81 L1165.33,689.41 L1161.29,689.06 L1157.25,688.77 L1153.2,688.53 L1149.16,688.34 L1145.1,688.21 L1141.05,688.13 L1137,688.1Z" fill="#a6c4bc"/>
<path d="M1277.62,754.03 L1279.29,755.01 L1280.95,756.01 L1282.61,757.01 L1284.26,758.03 L1285.91,759.06 L1287.54,760.1 L1289.17,761.15 L1290.79,762.22 L1292.41,763.29 L1294.01,764.38 L1295.61,765.47 L1297.2,766.58 L1298.79,767.7 L1300.36,768.83 L1301.93,769.97 L1303.49,771.12 L1305.04,772.28 L1306.59,773.46 L1308.12,774.64 L1309.65,775.84 L1311.17,777.04 L1312.68,778.26 L1314.18,779.48 L1315.68,780.72 L1317.16,781.97 L1318.64,783.23 L1320.11,784.49 L1321.56,785.77 L1323.01,787.06 L1324.45,788.36 L1325.89,789.66 L1327.31,790.98 L1328.72,792.31 L1330.13,793.65 L1331.52,794.99 L1332.91,796.35 L1334.28,797.72 L1335.65,799.09 L1337.01,800.48 L1338.35,801.87 L1358.49,782.56 L1357.01,781.03 L1355.51,779.5 L1354.01,777.99 L1352.5,776.49 L1350.97,774.99 L1349.44,773.51 L1347.89,772.04 L1346.34,770.58 L1344.78,769.13 L1343.2,767.69 L1341.62,766.26 L1340.02,764.85 L1338.42,763.44 L1336.8,762.05 L1335.18,760.66 L1333.54,759.29 L1331.9,757.93 L1330.25,756.58 L1328.59,755.25 L1326.92,753.92 L1325.24,752.61 L1323.55,751.3 L1321.85,750.01 L1320.14,748.73 L1318.43,747.47 L1316.7,746.21 L1314.97,744.97 L1313.22,743.74 L1311.47,742.52 L1309.72,741.31 L1307.95,740.12 L1306.17,738.94 L1304.39,737.77 L1302.6,736.61 L1300.8,735.47 L1298.99,734.33 L1297.17,733.21 L1295.35,732.11 L1293.52,731.01 L1291.68,729.93Z" fill="#deddb0"/>
<path d="M1338.35,801.87 L1339.69,803.28 L1341.02,804.69 L1342.34,806.11 L1343.64,807.55 L1344.94,808.99 L1346.23,810.44 L1347.51,811.89 L1348.77,813.36 L1350.03,814.84 L1351.28,816.32 L1352.52,817.82 L1353.74,819.32 L1354.96,820.83 L1356.16,822.35 L1357.36,823.88 L1358.54,825.41 L1359.72,826.96 L1360.88,828.51 L1362.03,830.07 L1363.17,831.64 L1364.3,833.21 L1365.42,834.8 L1366.53,836.39 L1367.62,837.99 L1368.71,839.59 L1369.78,841.21 L1370.85,842.83 L1371.9,844.46 L1372.94,846.09 L1373.97,847.74 L1374.99,849.39 L1375.99,851.05 L1376.99,852.71 L1377.97,854.38 L1378.94,856.06 L1379.9,857.75 L1380.85,859.44 L1381.79,861.13 L1382.71,862.84 L1383.63,864.55 L1408.29,851.51 L1407.28,849.62 L1406.27,847.75 L1405.24,845.88 L1404.19,844.02 L1403.14,842.17 L1402.07,840.32 L1400.99,838.48 L1399.89,836.65 L1398.79,834.83 L1397.67,833.01 L1396.53,831.2 L1395.39,829.4 L1394.23,827.61 L1393.06,825.83 L1391.88,824.05 L1390.69,822.28 L1389.48,820.53 L1388.26,818.78 L1387.03,817.03 L1385.79,815.3 L1384.53,813.57 L1383.27,811.86 L1381.99,810.15 L1380.7,808.45 L1379.39,806.76 L1378.08,805.08 L1376.75,803.41 L1375.42,801.75 L1374.07,800.1 L1372.71,798.46 L1371.34,796.82 L1369.95,795.2 L1368.56,793.58 L1367.15,791.98 L1365.74,790.38 L1364.31,788.8 L1362.87,787.22 L1361.42,785.66 L1359.96,784.11 L1358.49,782.56Z" fill="#b8b5cb"/>
<path d="M1383.63,864.55 L1384.62,866.44 L1385.59,868.34 L1386.55,870.24 L1387.5,872.15 L1388.43,874.07 L1389.35,876 L1390.25,877.93 L1391.14,879.87 L1392.01,881.82 L1392.87,883.77 L1393.71,885.73 L1394.54,887.69 L1395.35,889.67 L1396.15,891.64 L1396.93,893.63 L1397.7,895.62 L1398.45,897.62 L1399.19,899.62 L1399.91,901.62 L1400.62,903.64 L1401.31,905.66 L1401.98,907.68 L1402.64,909.71 L1403.29,911.74 L1403.92,913.78 L1404.53,915.82 L1405.13,917.87 L1405.71,919.92 L1406.27,921.98 L1406.83,924.04 L1407.36,926.1 L1407.88,928.17 L1408.38,930.25 L1408.87,932.32 L1409.34,934.4 L1409.8,936.49 L1410.23,938.57 L1410.66,940.66 L1411.07,942.76 L1411.46,944.86 L1438.9,939.84 L1438.47,937.53 L1438.02,935.23 L1437.56,932.93 L1437.07,930.64 L1436.57,928.34 L1436.06,926.05 L1435.52,923.77 L1434.97,921.49 L1434.4,919.21 L1433.81,916.94 L1433.2,914.68 L1432.58,912.41 L1431.94,910.16 L1431.28,907.9 L1430.61,905.66 L1429.92,903.41 L1429.21,901.18 L1428.48,898.95 L1427.74,896.72 L1426.98,894.5 L1426.2,892.29 L1425.41,890.08 L1424.6,887.88 L1423.77,885.68 L1422.93,883.49 L1422.06,881.31 L1421.19,879.13 L1420.29,876.96 L1419.38,874.8 L1418.46,872.65 L1417.51,870.5 L1416.55,868.36 L1415.58,866.22 L1414.58,864.1 L1413.57,861.98 L1412.55,859.87 L1411.51,857.77 L1410.45,855.67 L1409.38,853.58 L1408.29,851.51Z" fill="#d08c86"/>
<path d="M1411.46,944.86 L1411.8,946.76 L1412.13,948.68 L1412.44,950.59 L1412.74,952.5 L1413.03,954.42 L1413.31,956.34 L1413.57,958.26 L1413.82,960.19 L1414.05,962.11 L1414.28,964.04 L1414.49,965.97 L1414.68,967.89 L1414.86,969.83 L1415.03,971.76 L1415.18,973.69 L1415.33,975.62 L1415.45,977.56 L1415.57,979.49 L1415.67,981.43 L1415.76,983.37 L1415.83,985.31 L1415.89,987.24 L1415.94,989.18 L1415.97,991.12 L1415.99,993.06 L1416,995 L1415.99,996.94 L1415.97,998.88 L1415.94,1000.82 L1415.89,1002.76 L1415.83,1004.69 L1415.76,1006.63 L1415.67,1008.57 L1415.57,1010.51 L1415.45,1012.44 L1415.33,1014.38 L1415.18,1016.31 L1415.03,1018.24 L1414.86,1020.17 L1414.68,1022.11 L1442.45,1024.82 L1442.65,1022.69 L1442.83,1020.57 L1443,1018.44 L1443.16,1016.31 L1443.3,1014.19 L1443.43,1012.06 L1443.54,1009.93 L1443.63,1007.79 L1443.71,1005.66 L1443.78,1003.53 L1443.83,1001.4 L1443.87,999.27 L1443.89,997.13 L1443.9,995 L1443.89,992.87 L1443.87,990.73 L1443.83,988.6 L1443.78,986.47 L1443.71,984.34 L1443.63,982.21 L1443.54,980.07 L1443.43,977.94 L1443.3,975.81 L1443.16,973.69 L1443,971.56 L1442.83,969.43 L1442.65,967.31 L1442.45,965.18 L1442.23,963.06 L1442,960.94 L1441.76,958.82 L1441.5,956.7 L1441.23,954.59 L1440.94,952.48 L1440.64,950.36 L1440.32,948.25 L1439.99,946.15 L1439.64,944.04 L1439.28,941.94 L1438.9,939.84Z" fill="#98aec4"/>
<path d="M1414.68,1022.11 L1414.4,1024.81 L1414.1,1027.5 L1413.77,1030.2 L1413.42,1032.89 L1413.03,1035.58 L1412.63,1038.26 L1412.19,1040.94 L1411.73,1043.62 L1411.25,1046.29 L1410.73,1048.95 L1410.2,1051.62 L1409.63,1054.27 L1409.04,1056.92 L1408.43,1059.57 L1407.79,1062.2 L1407.12,1064.84 L1406.43,1067.46 L1405.71,1070.08 L1404.97,1072.69 L1404.2,1075.29 L1403.4,1077.89 L1402.58,1080.48 L1401.74,1083.06 L1400.87,1085.63 L1399.98,1088.19 L1399.06,1090.75 L1398.11,1093.29 L1397.14,1095.83 L1396.15,1098.36 L1395.13,1100.87 L1394.09,1103.38 L1393.02,1105.88 L1391.93,1108.36 L1390.82,1110.84 L1389.68,1113.3 L1388.51,1115.75 L1387.33,1118.2 L1386.12,1120.63 L1384.88,1123.04 L1383.63,1125.45 L1408.29,1138.49 L1409.67,1135.85 L1411.03,1133.19 L1412.36,1130.52 L1413.67,1127.83 L1414.95,1125.13 L1416.2,1122.42 L1417.42,1119.7 L1418.62,1116.96 L1419.8,1114.22 L1420.95,1111.46 L1422.06,1108.69 L1423.16,1105.91 L1424.22,1103.12 L1425.26,1100.32 L1426.27,1097.51 L1427.26,1094.69 L1428.21,1091.86 L1429.14,1089.03 L1430.04,1086.18 L1430.92,1083.32 L1431.76,1080.46 L1432.58,1077.59 L1433.37,1074.71 L1434.13,1071.82 L1434.86,1068.92 L1435.57,1066.02 L1436.25,1063.11 L1436.89,1060.2 L1437.51,1057.28 L1438.11,1054.35 L1438.67,1051.42 L1439.2,1048.48 L1439.71,1045.54 L1440.19,1042.59 L1440.64,1039.64 L1441.06,1036.68 L1441.45,1033.72 L1441.81,1030.75 L1442.14,1027.79 L1442.45,1024.82Z" fill="#d6b282"/>
<path d="M1383.63,1125.45 L1382.71,1127.16 L1381.79,1128.87 L1380.85,1130.56 L1379.9,1132.25 L1378.94,1133.94 L1377.97,1135.62 L1376.99,1137.29 L1375.99,1138.95 L1374.99,1140.61 L1373.97,1142.26 L1372.94,1143.91 L1371.9,1145.54 L1370.85,1147.17 L1369.78,1148.79 L1368.71,1150.41 L1367.62,1152.01 L1366.53,1153.61 L1365.42,1155.2 L1364.3,1156.79 L1363.17,1158.36 L1362.03,1159.93 L1360.88,1161.49 L1359.72,1163.04 L1358.54,1164.59 L1357.36,1166.12 L1356.16,1167.65 L1354.96,1169.17 L1353.74,1170.68 L1352.52,1172.18 L1351.28,1173.68 L1350.03,1175.16 L1348.77,1176.64 L1347.51,1178.11 L1346.23,1179.56 L1344.94,1181.01 L1343.64,1182.45 L1342.34,1183.89 L1341.02,1185.31 L1339.69,1186.72 L1338.35,1188.13 L1358.49,1207.44 L1359.96,1205.89 L1361.42,1204.34 L1362.87,1202.78 L1364.31,1201.2 L1365.74,1199.62 L1367.15,1198.02 L1368.56,1196.42 L1369.95,1194.8 L1371.34,1193.18 L1372.71,1191.54 L1374.07,1189.9 L1375.42,1188.25 L1376.75,1186.59 L1378.08,1184.92 L1379.39,1183.24 L1380.7,1181.55 L1381.99,1179.85 L1383.27,1178.14 L1384.53,1176.43 L1385.79,1174.7 L1387.03,1172.97 L1388.26,1171.22 L1389.48,1169.47 L1390.69,1167.72 L1391.88,1165.95 L1393.06,1164.17 L1394.23,1162.39 L1395.39,1160.6 L1396.53,1158.8 L1397.67,1156.99 L1398.79,1155.17 L1399.89,1153.35 L1400.99,1151.52 L1402.07,1149.68 L1403.14,1147.83 L1404.19,1145.98 L1405.24,1144.12 L1406.27,1142.25 L1407.28,1140.38 L1408.29,1138.49Z" fill="#b4c882"/>
<path d="M1338.35,1188.13 L1337.68,1188.83 L1337.01,1189.52 L1336.33,1190.22 L1335.65,1190.91 L1334.97,1191.6 L1334.28,1192.28 L1333.6,1192.97 L1332.91,1193.65 L1332.22,1194.33 L1331.52,1195.01 L1330.83,1195.68 L1330.13,1196.35 L1329.43,1197.02 L1328.72,1197.69 L1328.02,1198.36 L1327.31,1199.02 L1326.6,1199.68 L1325.89,1200.34 L1325.17,1200.99 L1324.45,1201.64 L1323.74,1202.29 L1323.01,1202.94 L1322.29,1203.59 L1321.56,1204.23 L1320.84,1204.87 L1320.11,1205.51 L1319.37,1206.14 L1318.64,1206.77 L1317.9,1207.4 L1317.16,1208.03 L1316.42,1208.66 L1315.68,1209.28 L1314.93,1209.9 L1314.18,1210.52 L1313.43,1211.13 L1312.68,1211.74 L1311.93,1212.35 L1311.17,1212.96 L1310.41,1213.56 L1309.65,1214.16 L1326.92,1236.08 L1327.75,1235.42 L1328.59,1234.75 L1329.42,1234.09 L1330.25,1233.42 L1331.08,1232.74 L1331.9,1232.07 L1332.72,1231.39 L1333.54,1230.71 L1334.36,1230.02 L1335.18,1229.34 L1335.99,1228.65 L1336.8,1227.95 L1337.61,1227.26 L1338.42,1226.56 L1339.22,1225.86 L1340.02,1225.15 L1340.82,1224.45 L1341.62,1223.74 L1342.41,1223.02 L1343.2,1222.31 L1343.99,1221.59 L1344.78,1220.87 L1345.56,1220.15 L1346.34,1219.42 L1347.12,1218.69 L1347.89,1217.96 L1348.67,1217.23 L1349.44,1216.49 L1350.21,1215.75 L1350.97,1215.01 L1351.74,1214.26 L1352.5,1213.51 L1353.26,1212.76 L1354.01,1212.01 L1354.76,1211.26 L1355.51,1210.5 L1356.26,1209.74 L1357.01,1208.97 L1357.75,1208.21 L1358.49,1207.44Z" fill="#d8bed0"/>
<path d="M1309.65,1214.16 L1307.51,1215.83 L1305.35,1217.48 L1303.18,1219.11 L1300.99,1220.72 L1298.79,1222.3 L1296.57,1223.86 L1294.33,1225.41 L1292.08,1226.93 L1289.82,1228.42 L1287.54,1229.9 L1285.25,1231.35 L1282.94,1232.79 L1280.62,1234.19 L1278.29,1235.58 L1275.94,1236.94 L1273.58,1238.28 L1271.21,1239.6 L1268.82,1240.9 L1266.42,1242.17 L1264.01,1243.41 L1261.59,1244.64 L1259.15,1245.84 L1256.7,1247.02 L1254.25,1248.17 L1251.78,1249.3 L1249.3,1250.4 L1246.81,1251.48 L1244.31,1252.54 L1241.79,1253.57 L1239.27,1254.58 L1236.74,1255.56 L1234.2,1256.52 L1231.65,1257.45 L1229.1,1258.36 L1226.53,1259.25 L1223.95,1260.1 L1221.37,1260.94 L1218.78,1261.75 L1216.18,1262.53 L1213.57,1263.29 L1221.23,1290.12 L1224.1,1289.28 L1226.96,1288.42 L1229.81,1287.53 L1232.65,1286.61 L1235.48,1285.67 L1238.31,1284.7 L1241.12,1283.7 L1243.92,1282.67 L1246.72,1281.62 L1249.5,1280.54 L1252.27,1279.43 L1255.04,1278.29 L1257.79,1277.13 L1260.53,1275.94 L1263.25,1274.73 L1265.97,1273.49 L1268.67,1272.22 L1271.37,1270.92 L1274.04,1269.6 L1276.71,1268.26 L1279.36,1266.88 L1282,1265.49 L1284.63,1264.06 L1287.24,1262.61 L1289.83,1261.14 L1292.42,1259.64 L1294.98,1258.11 L1297.54,1256.56 L1300.07,1254.99 L1302.6,1253.39 L1305.1,1251.77 L1307.59,1250.12 L1310.07,1248.45 L1312.53,1246.75 L1314.97,1245.03 L1317.39,1243.29 L1319.8,1241.52 L1322.19,1239.73 L1324.56,1237.92 L1326.92,1236.08Z" fill="#cccccc"/>
<path d="M1213.57,1263.29 L1211.7,1263.81 L1209.83,1264.33 L1207.96,1264.83 L1206.08,1265.31 L1204.2,1265.79 L1202.32,1266.25 L1200.43,1266.69 L1198.54,1267.13 L1196.65,1267.55 L1194.75,1267.96 L1192.86,1268.35 L1190.95,1268.73 L1189.05,1269.1 L1187.14,1269.46 L1185.24,1269.8 L1183.32,1270.13 L1181.41,1270.44 L1179.5,1270.74 L1177.58,1271.03 L1175.66,1271.31 L1173.74,1271.57 L1171.81,1271.82 L1169.89,1272.05 L1167.96,1272.28 L1166.03,1272.49 L1164.11,1272.68 L1162.17,1272.86 L1160.24,1273.03 L1158.31,1273.18 L1156.38,1273.33 L1154.44,1273.45 L1152.51,1273.57 L1150.57,1273.67 L1148.63,1273.76 L1146.69,1273.83 L1144.76,1273.89 L1142.82,1273.94 L1140.88,1273.97 L1138.94,1273.99 L1137,1274 L1137,1301.9 L1139.13,1301.89 L1141.27,1301.87 L1143.4,1301.83 L1145.53,1301.78 L1147.66,1301.71 L1149.79,1301.63 L1151.93,1301.54 L1154.06,1301.43 L1156.19,1301.3 L1158.31,1301.16 L1160.44,1301 L1162.57,1300.83 L1164.69,1300.65 L1166.82,1300.45 L1168.94,1300.23 L1171.06,1300 L1173.18,1299.76 L1175.3,1299.5 L1177.41,1299.23 L1179.52,1298.94 L1181.64,1298.64 L1183.75,1298.32 L1185.85,1297.99 L1187.96,1297.64 L1190.06,1297.28 L1192.16,1296.9 L1194.26,1296.51 L1196.35,1296.11 L1198.44,1295.69 L1200.53,1295.25 L1202.62,1294.8 L1204.7,1294.34 L1206.78,1293.86 L1208.85,1293.37 L1210.92,1292.86 L1212.99,1292.34 L1215.06,1291.81 L1217.12,1291.26 L1219.18,1290.69 L1221.23,1290.12Z" fill="#aa90b8"/>
<path d="M1137,702.05 L1133.76,702.07 L1130.52,702.12 L1127.28,702.21 L1124.04,702.34 L1123.42,688.4 L1126.82,688.27 L1130.21,688.18 L1133.61,688.12 L1137,688.1Z" fill="#e9f8fd" stroke="#e9f8fd" stroke-width="0.5"/>
<path d="M1124.04,702.34 L1120.81,702.5 L1117.57,702.7 L1114.34,702.93 L1111.11,703.2 L1109.88,689.3 L1113.26,689.02 L1116.65,688.78 L1120.03,688.57 L1123.42,688.4Z" fill="#e9f8fd" stroke="#e9f8fd" stroke-width="0.5"/>
<path d="M1111.11,703.2 L1107.88,703.5 L1104.66,703.84 L1101.44,704.22 L1098.23,704.63 L1096.38,690.8 L1099.75,690.37 L1103.12,689.98 L1106.5,689.62 L1109.88,689.3Z" fill="#e9f8fd" stroke="#e9f8fd" stroke-width="0.5"/>
<path d="M1098.23,704.63 L1095.02,705.07 L1091.81,705.56 L1088.61,706.07 L1085.42,706.63 L1082.96,692.89 L1086.31,692.32 L1089.66,691.77 L1093.02,691.27 L1096.38,690.8Z" fill="#e9f8fd" stroke="#e9f8fd" stroke-width="0.5"/>
<path d="M1085.42,706.63 L1082.23,707.21 L1079.05,707.84 L1075.88,708.5 L1072.72,709.19 L1069.65,695.58 L1072.97,694.85 L1076.29,694.16 L1079.63,693.51 L1082.96,692.89Z" fill="#e9f8fd" stroke="#e9f8fd" stroke-width="0.5"/>
<path d="M1072.72,709.19 L1069.56,709.92 L1066.41,710.68 L1063.27,711.48 L1060.14,712.31 L1056.48,698.85 L1059.76,697.98 L1063.05,697.14 L1066.35,696.34 L1069.65,695.58Z" fill="#e9f8fd" stroke="#e9f8fd" stroke-width="0.5"/>
<path d="M1060.14,712.31 L1057.01,713.18 L1053.9,714.08 L1050.8,715.02 L1047.71,715.99 L1043.46,702.7 L1046.69,701.69 L1049.94,700.71 L1053.2,699.76 L1056.48,698.85Z" fill="#e9f8fd" stroke="#e9f8fd" stroke-width="0.5"/>
<path d="M1047.71,715.99 L1044.63,716.99 L1041.56,718.03 L1038.5,719.11 L1035.45,720.21 L1030.62,707.13 L1033.81,705.97 L1037.01,704.84 L1040.23,703.76 L1043.46,702.7Z" fill="#e9f8fd" stroke="#e9f8fd" stroke-width="0.5"/>
<path d="M1035.45,720.21 L1032.42,721.35 L1029.4,722.53 L1026.39,723.73 L1023.4,724.97 L1017.99,712.12 L1021.12,710.82 L1024.28,709.55 L1027.44,708.32 L1030.62,707.13Z" fill="#e9f8fd" stroke="#e9f8fd" stroke-width="0.5"/>
<path d="M1023.4,724.97 L1020.42,726.25 L1017.45,727.55 L1014.5,728.89 L1011.56,730.26 L1005.59,717.66 L1008.67,716.22 L1011.76,714.82 L1014.87,713.45 L1017.99,712.12Z" fill="#e9f8fd" stroke="#e9f8fd" stroke-width="0.5"/>
<path d="M1011.56,730.26 L1008.64,731.67 L1005.74,733.1 L1002.85,734.57 L999.98,736.07 L993.45,723.74 L996.46,722.17 L999.49,720.63 L1002.53,719.13 L1005.59,717.66Z" fill="#e9f8fd" stroke="#e9f8fd" stroke-width="0.5"/>
<path d="M999.98,736.07 L997.12,737.6 L994.28,739.17 L991.46,740.76 L988.66,742.38 L981.59,730.36 L984.53,728.65 L987.49,726.98 L990.46,725.35 L993.45,723.74Z" fill="#e9f8fd" stroke="#e9f8fd" stroke-width="0.5"/>
<path d="M988.66,742.38 L985.87,744.04 L983.11,745.73 L980.36,747.45 L977.63,749.19 L970.04,737.49 L972.9,735.66 L975.78,733.86 L978.68,732.09 L981.59,730.36Z" fill="#e9f8fd" stroke="#e9f8fd" stroke-width="0.5"/>
<path d="M977.63,749.19 L974.92,750.97 L972.23,752.78 L969.56,754.62 L966.91,756.48 L958.81,745.13 L961.59,743.17 L964.38,741.25 L967.2,739.35 L970.04,737.49Z" fill="#e9f8fd" stroke="#e9f8fd" stroke-width="0.5"/>
<path d="M966.91,756.48 L964.28,758.38 L961.68,760.31 L959.09,762.26 L956.53,764.24 L947.93,753.25 L950.62,751.18 L953.33,749.13 L956.06,747.11 L958.81,745.13Z" fill="#e9f8fd" stroke="#e9f8fd" stroke-width="0.5"/>
<path d="M956.53,764.24 L953.99,766.25 L951.47,768.29 L948.97,770.36 L946.5,772.45 L937.43,761.85 L940.02,759.66 L942.63,757.49 L945.27,755.36 L947.93,753.25Z" fill="#e9f8fd" stroke="#e9f8fd" stroke-width="0.5"/>
<path d="M946.5,772.45 L944.05,774.57 L941.62,776.72 L939.22,778.89 L936.84,781.09 L927.31,770.91 L929.8,768.6 L932.32,766.32 L934.86,764.07 L937.43,761.85Z" fill="#e9f8fd" stroke="#e9f8fd" stroke-width="0.5"/>
<path d="M936.84,781.09 L934.49,783.32 L932.16,785.57 L929.85,787.85 L927.57,790.16 L917.6,780.4 L919.99,777.99 L922.4,775.6 L924.84,773.24 L927.31,770.91Z" fill="#e9f8fd" stroke="#e9f8fd" stroke-width="0.5"/>
<path d="M927.57,790.16 L925.32,792.49 L923.09,794.84 L920.89,797.22 L918.72,799.62 L908.32,790.32 L910.6,787.8 L912.91,785.31 L915.24,782.84 L917.6,780.4Z" fill="#e9f8fd" stroke="#e9f8fd" stroke-width="0.5"/>
<path d="M918.72,799.62 L916.57,802.05 L914.45,804.5 L912.36,806.97 L910.29,809.47 L899.49,800.63 L901.66,798.02 L903.85,795.43 L906.07,792.86 L908.32,790.32Z" fill="#e9f8fd" stroke="#e9f8fd" stroke-width="0.5"/>
<path d="M910.29,809.47 L908.25,811.99 L906.24,814.53 L904.26,817.09 L902.31,819.68 L891.13,811.33 L893.18,808.62 L895.25,805.93 L897.36,803.27 L899.49,800.63Z" fill="#e9f8fd" stroke="#e9f8fd" stroke-width="0.5"/>
<path d="M902.31,819.68 L900.38,822.28 L898.48,824.91 L896.62,827.56 L894.78,830.23 L883.25,822.38 L885.17,819.59 L887.13,816.81 L889.11,814.06 L891.13,811.33Z" fill="#e9f8fd" stroke="#e9f8fd" stroke-width="0.5"/>
<path d="M894.78,830.23 L892.97,832.92 L891.19,835.63 L889.45,838.36 L887.73,841.11 L875.86,833.78 L877.66,830.9 L879.49,828.04 L881.35,825.2 L883.25,822.38Z" fill="#e9f8fd" stroke="#e9f8fd" stroke-width="0.5"/>
<path d="M887.73,841.11 L886.04,843.87 L884.38,846.66 L882.76,849.46 L881.17,852.28 L868.98,845.49 L870.65,842.53 L872.36,839.59 L874.09,836.68 L875.86,833.78Z" fill="#e9f8fd" stroke="#e9f8fd" stroke-width="0.5"/>
<path d="M881.17,852.28 L879.6,855.12 L878.07,857.98 L876.57,860.85 L875.1,863.74 L862.63,857.49 L864.17,854.46 L865.74,851.45 L867.35,848.46 L868.98,845.49Z" fill="#e9f8fd" stroke="#e9f8fd" stroke-width="0.5"/>
<path d="M875.1,863.74 L873.67,866.64 L872.26,869.56 L870.89,872.5 L869.55,875.45 L856.82,869.76 L858.22,866.67 L859.66,863.59 L861.13,860.53 L862.63,857.49Z" fill="#e9f8fd" stroke="#e9f8fd" stroke-width="0.5"/>
<path d="M869.55,875.45 L868.25,878.42 L866.97,881.4 L865.73,884.39 L864.53,887.4 L851.55,882.28 L852.82,879.12 L854.12,875.99 L855.45,872.87 L856.82,869.76Z" fill="#e9f8fd" stroke="#e9f8fd" stroke-width="0.5"/>
<path d="M864.53,887.4 L863.35,890.42 L862.21,893.45 L861.11,896.5 L860.03,899.56 L846.84,895.01 L847.97,891.81 L849.13,888.62 L850.32,885.44 L851.55,882.28Z" fill="#e9f8fd" stroke="#e9f8fd" stroke-width="0.5"/>
<path d="M860.03,899.56 L858.99,902.63 L857.99,905.71 L857.02,908.8 L856.08,911.9 L842.71,907.94 L843.69,904.69 L844.7,901.46 L845.76,898.23 L846.84,895.01Z" fill="#e9f8fd" stroke="#e9f8fd" stroke-width="0.5"/>
<path d="M856.08,911.9 L855.18,915.01 L854.31,918.14 L853.48,921.27 L852.68,924.41 L839.14,921.05 L839.98,917.76 L840.85,914.48 L841.76,911.2 L842.71,907.94Z" fill="#e9f8fd" stroke="#e9f8fd" stroke-width="0.5"/>
<path d="M852.68,924.41 L851.92,927.56 L851.19,930.72 L850.5,933.88 L849.84,937.05 L836.16,934.29 L836.85,930.97 L837.58,927.65 L838.34,924.35 L839.14,921.05Z" fill="#e9f8fd" stroke="#e9f8fd" stroke-width="0.5"/>
<path d="M849.84,937.05 L849.21,940.23 L848.63,943.42 L848.07,946.61 L847.56,949.81 L833.77,947.66 L834.32,944.31 L834.89,940.96 L835.51,937.63 L836.16,934.29Z" fill="#e9f8fd" stroke="#e9f8fd" stroke-width="0.5"/>
<path d="M847.56,949.81 L847.07,953.02 L846.63,956.23 L846.22,959.44 L845.84,962.66 L831.98,961.12 L832.37,957.75 L832.8,954.38 L833.27,951.02 L833.77,947.66Z" fill="#e9f8fd" stroke="#e9f8fd" stroke-width="0.5"/>
<path d="M845.84,962.66 L845.5,965.88 L845.2,969.11 L844.93,972.34 L844.7,975.57 L830.78,974.65 L831.02,971.26 L831.3,967.88 L831.62,964.5 L831.98,961.12Z" fill="#e9f8fd" stroke="#e9f8fd" stroke-width="0.5"/>
<path d="M844.7,975.57 L844.5,978.81 L844.34,982.04 L844.21,985.28 L844.12,988.52 L830.18,988.21 L830.27,984.82 L830.4,981.42 L830.57,978.03 L830.78,974.65Z" fill="#e9f8fd" stroke="#e9f8fd" stroke-width="0.5"/>
<path d="M844.12,988.52 L844.07,991.76 L844.05,995 L844.07,998.24 L844.12,1001.48 L830.18,1001.79 L830.12,998.39 L830.1,995 L830.12,991.61 L830.18,988.21Z" fill="#e9f8fd" stroke="#e9f8fd" stroke-width="0.5"/>
<path d="M844.12,1001.48 L844.21,1004.72 L844.34,1007.96 L844.5,1011.19 L844.7,1014.43 L830.78,1015.35 L830.57,1011.97 L830.4,1008.58 L830.27,1005.18 L830.18,1001.79Z" fill="#e9f8fd" stroke="#e9f8fd" stroke-width="0.5"/>
<path d="M844.7,1014.43 L844.93,1017.66 L845.2,1020.89 L845.5,1024.12 L845.84,1027.34 L831.98,1028.88 L831.62,1025.5 L831.3,1022.12 L831.02,1018.74 L830.78,1015.35Z" fill="#e9f8fd" stroke="#e9f8fd" stroke-width="0.5"/>
<path d="M845.84,1027.34 L846.22,1030.56 L846.63,1033.77 L847.07,1036.98 L847.56,1040.19 L833.77,1042.34 L833.27,1038.98 L832.8,1035.62 L832.37,1032.25 L831.98,1028.88Z" fill="#e9f8fd" stroke="#e9f8fd" stroke-width="0.5"/>
<path d="M847.56,1040.19 L848.07,1043.39 L848.63,1046.58 L849.21,1049.77 L849.84,1052.95 L836.16,1055.71 L835.51,1052.37 L834.89,1049.04 L834.32,1045.69 L833.77,1042.34Z" fill="#e9f8fd" stroke="#e9f8fd" stroke-width="0.5"/>
<path d="M849.84,1052.95 L850.5,1056.12 L851.19,1059.28 L851.92,1062.44 L852.68,1065.59 L839.14,1068.95 L838.34,1065.65 L837.58,1062.35 L836.85,1059.03 L836.16,1055.71Z" fill="#e9f8fd" stroke="#e9f8fd" stroke-width="0.5"/>
<path d="M852.68,1065.59 L853.48,1068.73 L854.31,1071.86 L855.18,1074.99 L856.08,1078.1 L842.71,1082.06 L841.76,1078.8 L840.85,1075.52 L839.98,1072.24 L839.14,1068.95Z" fill="#e9f8fd" stroke="#e9f8fd" stroke-width="0.5"/>
<path d="M856.08,1078.1 L857.02,1081.2 L857.99,1084.29 L858.99,1087.37 L860.03,1090.44 L846.84,1094.99 L845.76,1091.77 L844.7,1088.54 L843.69,1085.31 L842.71,1082.06Z" fill="#e9f8fd" stroke="#e9f8fd" stroke-width="0.5"/>
<path d="M860.03,1090.44 L861.11,1093.5 L862.21,1096.55 L863.35,1099.58 L864.53,1102.6 L851.55,1107.72 L850.32,1104.56 L849.13,1101.38 L847.97,1098.19 L846.84,1094.99Z" fill="#e9f8fd" stroke="#e9f8fd" stroke-width="0.5"/>
<path d="M864.53,1102.6 L865.73,1105.61 L866.97,1108.6 L868.25,1111.58 L869.55,1114.55 L856.82,1120.24 L855.45,1117.13 L854.12,1114.01 L852.82,1110.88 L851.55,1107.72Z" fill="#e9f8fd" stroke="#e9f8fd" stroke-width="0.5"/>
<path d="M869.55,1114.55 L870.89,1117.5 L872.26,1120.44 L873.67,1123.36 L875.1,1126.26 L862.63,1132.51 L861.13,1129.47 L859.66,1126.41 L858.22,1123.33 L856.82,1120.24Z" fill="#e9f8fd" stroke="#e9f8fd" stroke-width="0.5"/>
<path d="M875.1,1126.26 L876.57,1129.15 L878.07,1132.02 L879.6,1134.88 L881.17,1137.72 L868.98,1144.51 L867.35,1141.54 L865.74,1138.55 L864.17,1135.54 L862.63,1132.51Z" fill="#e9f8fd" stroke="#e9f8fd" stroke-width="0.5"/>
<path d="M881.17,1137.72 L882.76,1140.54 L884.38,1143.34 L886.04,1146.13 L887.73,1148.89 L875.86,1156.22 L874.09,1153.32 L872.36,1150.41 L870.65,1147.47 L868.98,1144.51Z" fill="#e9f8fd" stroke="#e9f8fd" stroke-width="0.5"/>
<path d="M887.73,1148.89 L889.45,1151.64 L891.19,1154.37 L892.97,1157.08 L894.78,1159.77 L883.25,1167.62 L881.35,1164.8 L879.49,1161.96 L877.66,1159.1 L875.86,1156.22Z" fill="#e9f8fd" stroke="#e9f8fd" stroke-width="0.5"/>
<path d="M894.78,1159.77 L896.62,1162.44 L898.48,1165.09 L900.38,1167.72 L902.31,1170.32 L891.13,1178.67 L889.11,1175.94 L887.13,1173.19 L885.17,1170.41 L883.25,1167.62Z" fill="#e9f8fd" stroke="#e9f8fd" stroke-width="0.5"/>
<path d="M902.31,1170.32 L904.26,1172.91 L906.24,1175.47 L908.25,1178.01 L910.29,1180.53 L899.49,1189.37 L897.36,1186.73 L895.25,1184.07 L893.18,1181.38 L891.13,1178.67Z" fill="#e9f8fd" stroke="#e9f8fd" stroke-width="0.5"/>
<path d="M910.29,1180.53 L912.36,1183.03 L914.45,1185.5 L916.57,1187.95 L918.72,1190.38 L908.32,1199.68 L906.07,1197.14 L903.85,1194.57 L901.66,1191.98 L899.49,1189.37Z" fill="#e9f8fd" stroke="#e9f8fd" stroke-width="0.5"/>
<path d="M918.72,1190.38 L920.89,1192.78 L923.09,1195.16 L925.32,1197.51 L927.57,1199.84 L917.6,1209.6 L915.24,1207.16 L912.91,1204.69 L910.6,1202.2 L908.32,1199.68Z" fill="#e9f8fd" stroke="#e9f8fd" stroke-width="0.5"/>
<path d="M927.57,1199.84 L929.85,1202.15 L932.16,1204.43 L934.49,1206.68 L936.84,1208.91 L927.31,1219.09 L924.84,1216.76 L922.4,1214.4 L919.99,1212.01 L917.6,1209.6Z" fill="#e9f8fd" stroke="#e9f8fd" stroke-width="0.5"/>
<path d="M936.84,1208.91 L939.22,1211.11 L941.62,1213.28 L944.05,1215.43 L946.5,1217.55 L937.43,1228.15 L934.86,1225.93 L932.32,1223.68 L929.8,1221.4 L927.31,1219.09Z" fill="#e9f8fd" stroke="#e9f8fd" stroke-width="0.5"/>
<path d="M946.5,1217.55 L948.97,1219.64 L951.47,1221.71 L953.99,1223.75 L956.53,1225.76 L947.93,1236.75 L945.27,1234.64 L942.63,1232.51 L940.02,1230.34 L937.43,1228.15Z" fill="#e9f8fd" stroke="#e9f8fd" stroke-width="0.5"/>
<path d="M956.53,1225.76 L959.09,1227.74 L961.68,1229.69 L964.28,1231.62 L966.91,1233.52 L958.81,1244.87 L956.06,1242.89 L953.33,1240.87 L950.62,1238.82 L947.93,1236.75Z" fill="#e9f8fd" stroke="#e9f8fd" stroke-width="0.5"/>
<path d="M966.91,1233.52 L969.56,1235.38 L972.23,1237.22 L974.92,1239.03 L977.63,1240.81 L970.04,1252.51 L967.2,1250.65 L964.38,1248.75 L961.59,1246.83 L958.81,1244.87Z" fill="#e9f8fd" stroke="#e9f8fd" stroke-width="0.5"/>
<path d="M977.63,1240.81 L980.36,1242.55 L983.11,1244.27 L985.87,1245.96 L988.66,1247.62 L981.59,1259.64 L978.68,1257.91 L975.78,1256.14 L972.9,1254.34 L970.04,1252.51Z" fill="#e9f8fd" stroke="#e9f8fd" stroke-width="0.5"/>
<path d="M988.66,1247.62 L991.46,1249.24 L994.28,1250.83 L997.12,1252.4 L999.98,1253.93 L993.45,1266.26 L990.46,1264.65 L987.49,1263.02 L984.53,1261.35 L981.59,1259.64Z" fill="#e9f8fd" stroke="#e9f8fd" stroke-width="0.5"/>
<path d="M999.98,1253.93 L1002.85,1255.43 L1005.74,1256.9 L1008.64,1258.33 L1011.56,1259.74 L1005.59,1272.34 L1002.53,1270.87 L999.49,1269.37 L996.46,1267.83 L993.45,1266.26Z" fill="#e9f8fd" stroke="#e9f8fd" stroke-width="0.5"/>
<path d="M1011.56,1259.74 L1014.5,1261.11 L1017.45,1262.45 L1020.42,1263.75 L1023.4,1265.03 L1017.99,1277.88 L1014.87,1276.55 L1011.76,1275.18 L1008.67,1273.78 L1005.59,1272.34Z" fill="#e9f8fd" stroke="#e9f8fd" stroke-width="0.5"/>
<path d="M1023.4,1265.03 L1026.39,1266.27 L1029.4,1267.47 L1032.42,1268.65 L1035.45,1269.79 L1030.62,1282.87 L1027.44,1281.68 L1024.28,1280.45 L1021.12,1279.18 L1017.99,1277.88Z" fill="#e9f8fd" stroke="#e9f8fd" stroke-width="0.5"/>
<path d="M1035.45,1269.79 L1038.5,1270.89 L1041.56,1271.97 L1044.63,1273.01 L1047.71,1274.01 L1043.46,1287.3 L1040.23,1286.24 L1037.01,1285.16 L1033.81,1284.03 L1030.62,1282.87Z" fill="#e9f8fd" stroke="#e9f8fd" stroke-width="0.5"/>
<path d="M1047.71,1274.01 L1050.8,1274.98 L1053.9,1275.92 L1057.01,1276.82 L1060.14,1277.69 L1056.48,1291.15 L1053.2,1290.24 L1049.94,1289.29 L1046.69,1288.31 L1043.46,1287.3Z" fill="#e9f8fd" stroke="#e9f8fd" stroke-width="0.5"/>
<path d="M1060.14,1277.69 L1063.27,1278.52 L1066.41,1279.32 L1069.56,1280.08 L1072.72,1280.81 L1069.65,1294.42 L1066.35,1293.66 L1063.05,1292.86 L1059.76,1292.02 L1056.48,1291.15Z" fill="#e9f8fd" stroke="#e9f8fd" stroke-width="0.5"/>
<path d="M1072.72,1280.81 L1075.88,1281.5 L1079.05,1282.16 L1082.23,1282.79 L1085.42,1283.37 L1082.96,1297.11 L1079.63,1296.49 L1076.29,1295.84 L1072.97,1295.15 L1069.65,1294.42Z" fill="#e0f3fc" stroke="#e0f3fc" stroke-width="0.5"/>
<path d="M1085.42,1283.37 L1088.61,1283.93 L1091.81,1284.44 L1095.02,1284.93 L1098.23,1285.37 L1096.38,1299.2 L1093.02,1298.73 L1089.66,1298.23 L1086.31,1297.68 L1082.96,1297.11Z" fill="#e0f3fc" stroke="#e0f3fc" stroke-width="0.5"/>
<path d="M1098.23,1285.37 L1101.44,1285.78 L1104.66,1286.16 L1107.88,1286.5 L1111.11,1286.8 L1109.88,1300.7 L1106.5,1300.38 L1103.12,1300.02 L1099.75,1299.63 L1096.38,1299.2Z" fill="#dcf1fc" stroke="#dcf1fc" stroke-width="0.5"/>
<path d="M1111.11,1286.8 L1114.34,1287.07 L1117.57,1287.3 L1120.81,1287.5 L1124.04,1287.66 L1123.42,1301.6 L1120.03,1301.43 L1116.65,1301.22 L1113.26,1300.98 L1109.88,1300.7Z" fill="#c4e2fa" stroke="#c4e2fa" stroke-width="0.5"/>
<path d="M1124.04,1287.66 L1127.28,1287.79 L1130.52,1287.88 L1133.76,1287.93 L1137,1287.95 L1137,1301.9 L1133.61,1301.88 L1130.21,1301.82 L1126.82,1301.73 L1123.42,1301.6Z" fill="#98c9f5" stroke="#98c9f5" stroke-width="0.5"/>
<g font-family="'Liberation Sans', Arial, Helvetica, sans-serif" font-size="11" fill="#1a1a1a" stroke="#1a1a1a" stroke-width="0.22" text-anchor="end">
<text transform="translate(1129.94,675.88) rotate(90)" dy="0.36em">FTL1</text>
<text transform="translate(1115.83,676.5) rotate(87.43)" dy="0.36em">IRF8</text>
<text transform="translate(1101.76,677.75) rotate(84.86)" dy="0.36em">SOX4</text>
<text transform="translate(1087.76,679.62) rotate(82.29)" dy="0.36em">SPI1</text>
<text transform="translate(1073.86,682.11) rotate(79.71)" dy="0.36em">ISG15</text>
<text transform="translate(1060.08,685.21) rotate(77.14)" dy="0.36em">PSMB9</text>
<text transform="translate(1046.46,688.91) rotate(74.57)" dy="0.36em">SOCS3</text>
<text transform="translate(1033,693.22) rotate(72)" dy="0.36em">NCKAP1L</text>
<text transform="translate(1019.76,698.11) rotate(69.43)" dy="0.36em">PLEK</text>
<text transform="translate(1006.74,703.59) rotate(66.86)" dy="0.36em">CSF2RB</text>
<text transform="translate(993.98,709.64) rotate(64.29)" dy="0.36em">PIK3CG</text>
<text transform="translate(981.49,716.24) rotate(61.71)" dy="0.36em">CASP3</text>
<text transform="translate(969.32,723.39) rotate(59.14)" dy="0.36em">IGSF6</text>
<text transform="translate(957.47,731.08) rotate(56.57)" dy="0.36em">CD84</text>
<text transform="translate(945.97,739.27) rotate(54)" dy="0.36em">SAMSN1</text>
<text transform="translate(934.84,747.98) rotate(51.43)" dy="0.36em">CYBB</text>
<text transform="translate(924.11,757.16) rotate(48.86)" dy="0.36em">IL18</text>
<text transform="translate(913.8,766.81) rotate(46.29)" dy="0.36em">FCGR1</text>
<text transform="translate(903.93,776.9) rotate(43.71)" dy="0.36em">HCK</text>
<text transform="translate(894.51,787.43) rotate(41.14)" dy="0.36em">RBM47</text>
<text transform="translate(885.56,798.36) rotate(38.57)" dy="0.36em">TRAF1</text>
<text transform="translate(877.11,809.67) rotate(36)" dy="0.36em">NFKBIE</text>
<text transform="translate(869.17,821.35) rotate(33.43)" dy="0.36em">CXCL10</text>
<text transform="translate(861.75,833.37) rotate(30.86)" dy="0.36em">VAV1</text>
<text transform="translate(854.87,845.7) rotate(28.29)" dy="0.36em">PTPN6</text>
<text transform="translate(848.54,858.32) rotate(25.71)" dy="0.36em">SH2B2</text>
<text transform="translate(842.78,871.22) rotate(23.14)" dy="0.36em">PIK3CD</text>
<text transform="translate(837.59,884.35) rotate(20.57)" dy="0.36em">TREM2</text>
<text transform="translate(832.99,897.71) rotate(18)" dy="0.36em">PRKCB</text>
<text transform="translate(828.98,911.25) rotate(15.43)" dy="0.36em">PMAIP1</text>
<text transform="translate(825.58,924.96) rotate(12.86)" dy="0.36em">BID</text>
<text transform="translate(822.79,938.8) rotate(10.29)" dy="0.36em">CIITA</text>
<text transform="translate(820.61,952.75) rotate(7.71)" dy="0.36em">RAC2</text>
<text transform="translate(819.05,966.79) rotate(5.14)" dy="0.36em">PRF1</text>
<text transform="translate(818.11,980.88) rotate(2.57)" dy="0.36em">BIN2</text>
<text transform="translate(817.8,995) rotate(0)" dy="0.36em">IL2RB</text>
<text transform="translate(818.11,1009.12) rotate(-2.57)" dy="0.36em">CCR2</text>
<text transform="translate(819.05,1023.21) rotate(-5.14)" dy="0.36em">SPP1</text>
<text transform="translate(820.61,1037.25) rotate(-7.71)" dy="0.36em">MMP9</text>
<text transform="translate(822.79,1051.2) rotate(-10.29)" dy="0.36em">LTB</text>
<text transform="translate(825.58,1065.04) rotate(-12.86)" dy="0.36em">SELP</text>
<text transform="translate(828.98,1078.75) rotate(-15.43)" dy="0.36em">ITGAX</text>
<text transform="translate(832.99,1092.29) rotate(-18)" dy="0.36em">SOCS1</text>
<text transform="translate(837.59,1105.65) rotate(-20.57)" dy="0.36em">MMP12</text>
<text transform="translate(842.78,1118.78) rotate(-23.14)" dy="0.36em">CYSLTR2</text>
<text transform="translate(848.54,1131.68) rotate(-25.71)" dy="0.36em">CCL3</text>
<text transform="translate(854.87,1144.3) rotate(-28.29)" dy="0.36em">CCL7</text>
<text transform="translate(861.75,1156.63) rotate(-30.86)" dy="0.36em">TRP63</text>
<text transform="translate(869.17,1168.65) rotate(-33.43)" dy="0.36em">TNF</text>
<text transform="translate(877.11,1180.33) rotate(-36)" dy="0.36em">CXCL5</text>
<text transform="translate(885.56,1191.64) rotate(-38.57)" dy="0.36em">HELLS</text>
<text transform="translate(894.51,1202.57) rotate(-41.14)" dy="0.36em">CHEK1</text>
<text transform="translate(903.93,1213.1) rotate(-43.71)" dy="0.36em">CCL8</text>
<text transform="translate(913.8,1223.19) rotate(-46.29)" dy="0.36em">TFR2</text>
<text transform="translate(924.11,1232.84) rotate(-48.86)" dy="0.36em">IL1B</text>
<text transform="translate(934.84,1242.02) rotate(-51.43)" dy="0.36em">CDK1</text>
<text transform="translate(945.97,1250.73) rotate(-54)" dy="0.36em">CCR7</text>
<text transform="translate(957.47,1258.92) rotate(-56.57)" dy="0.36em">CX3CR1</text>
<text transform="translate(969.32,1266.61) rotate(-59.14)" dy="0.36em">CCL12</text>
<text transform="translate(981.49,1273.76) rotate(-61.71)" dy="0.36em">IL1A</text>
<text transform="translate(993.98,1280.36) rotate(-64.29)" dy="0.36em">BIRC5</text>
<text transform="translate(1006.74,1286.41) rotate(-66.86)" dy="0.36em">IL6</text>
<text transform="translate(1019.76,1291.89) rotate(-69.43)" dy="0.36em">XCL1</text>
<text transform="translate(1033,1296.78) rotate(-72)" dy="0.36em">ITK</text>
<text transform="translate(1046.46,1301.09) rotate(-74.57)" dy="0.36em">HC</text>
<text transform="translate(1060.08,1304.79) rotate(-77.14)" dy="0.36em">LAT</text>
<text transform="translate(1073.86,1307.89) rotate(-79.71)" dy="0.36em">LCK</text>
<text transform="translate(1087.76,1310.38) rotate(-82.29)" dy="0.36em">ARG1</text>
<text transform="translate(1101.76,1312.25) rotate(-84.86)" dy="0.36em">CCR9</text>
<text transform="translate(1115.83,1313.5) rotate(-87.43)" dy="0.36em">SFTPC</text>
<text transform="translate(1129.94,1314.12) rotate(-90)" dy="0.36em">CXCL15</text>
</g>
<defs><linearGradient id="lfc" x1="0" y1="0" x2="1" y2="0"><stop offset="0" stop-color="#8cc3f5"/><stop offset="0.5" stop-color="#bcdcf8"/><stop offset="1" stop-color="#eef9ff"/></linearGradient></defs>
<text x="1593.5" y="1147.8" font-family="'Liberation Sans', Arial, Helvetica, sans-serif" font-size="14.3" fill="#1a1a1a" text-anchor="middle">logFC</text>
<rect x="1565.6" y="1149.4" width="56" height="21.9" fill="url(#lfc)"/>
<g font-family="'Liberation Sans', Arial, Helvetica, sans-serif" font-size="8" fill="#222" text-anchor="middle"><text x="1565" y="1178">−21</text><text x="1622" y="1178">−1</text></g>
<g font-family="'Liberation Sans', Arial, Helvetica, sans-serif" font-size="9.2" fill="#222" stroke="#222" stroke-width="0.18">
<rect x="1425.6" y="1201.2" width="11" height="10.4" fill="#99d3c5"/>
<text x="1438.9" y="1209.7">Chemokine signaling pathway</text>
<rect x="1578.9" y="1201.2" width="11" height="10.4" fill="#ffffb8"/>
<text x="1592.2" y="1209.7">Tyrobp causal network in microglia</text>
<rect x="1425.6" y="1223.8" width="11" height="10.4" fill="#bdb8dc"/>
<text x="1438.9" y="1232.3">Lung fibrosis</text>
<rect x="1578.9" y="1223.8" width="11" height="10.4" fill="#e8786c"/>
<text x="1592.2" y="1232.3">Microglia pathogen phagocytosis pathway</text>
<rect x="1425.6" y="1246.4" width="11" height="10.4" fill="#87abd3"/>
<text x="1438.9" y="1254.9">Type II interferon signaling (IFNG)</text>
<rect x="1578.9" y="1246.4" width="11" height="10.4" fill="#f4b062"/>
<text x="1592.2" y="1254.9">Spinal cord injury</text>
<rect x="1425.6" y="1269" width="11" height="10.4" fill="#b5dc6c"/>
<text x="1438.9" y="1277.5">Apoptosis</text>
<rect x="1578.9" y="1269" width="11" height="10.4" fill="#f8cde6"/>
<text x="1592.2" y="1277.5">Iron homeostasis</text>
<rect x="1425.6" y="1291.6" width="11" height="10.4" fill="#d8d8d8"/>
<text x="1438.9" y="1300.1">IL–3 signaling pathway</text>
<rect x="1578.9" y="1291.6" width="11" height="10.4" fill="#a86cb8"/>
<text x="1592.2" y="1300.1">IL–5 signaling pathway</text>
</g>
</svg></body></html>
